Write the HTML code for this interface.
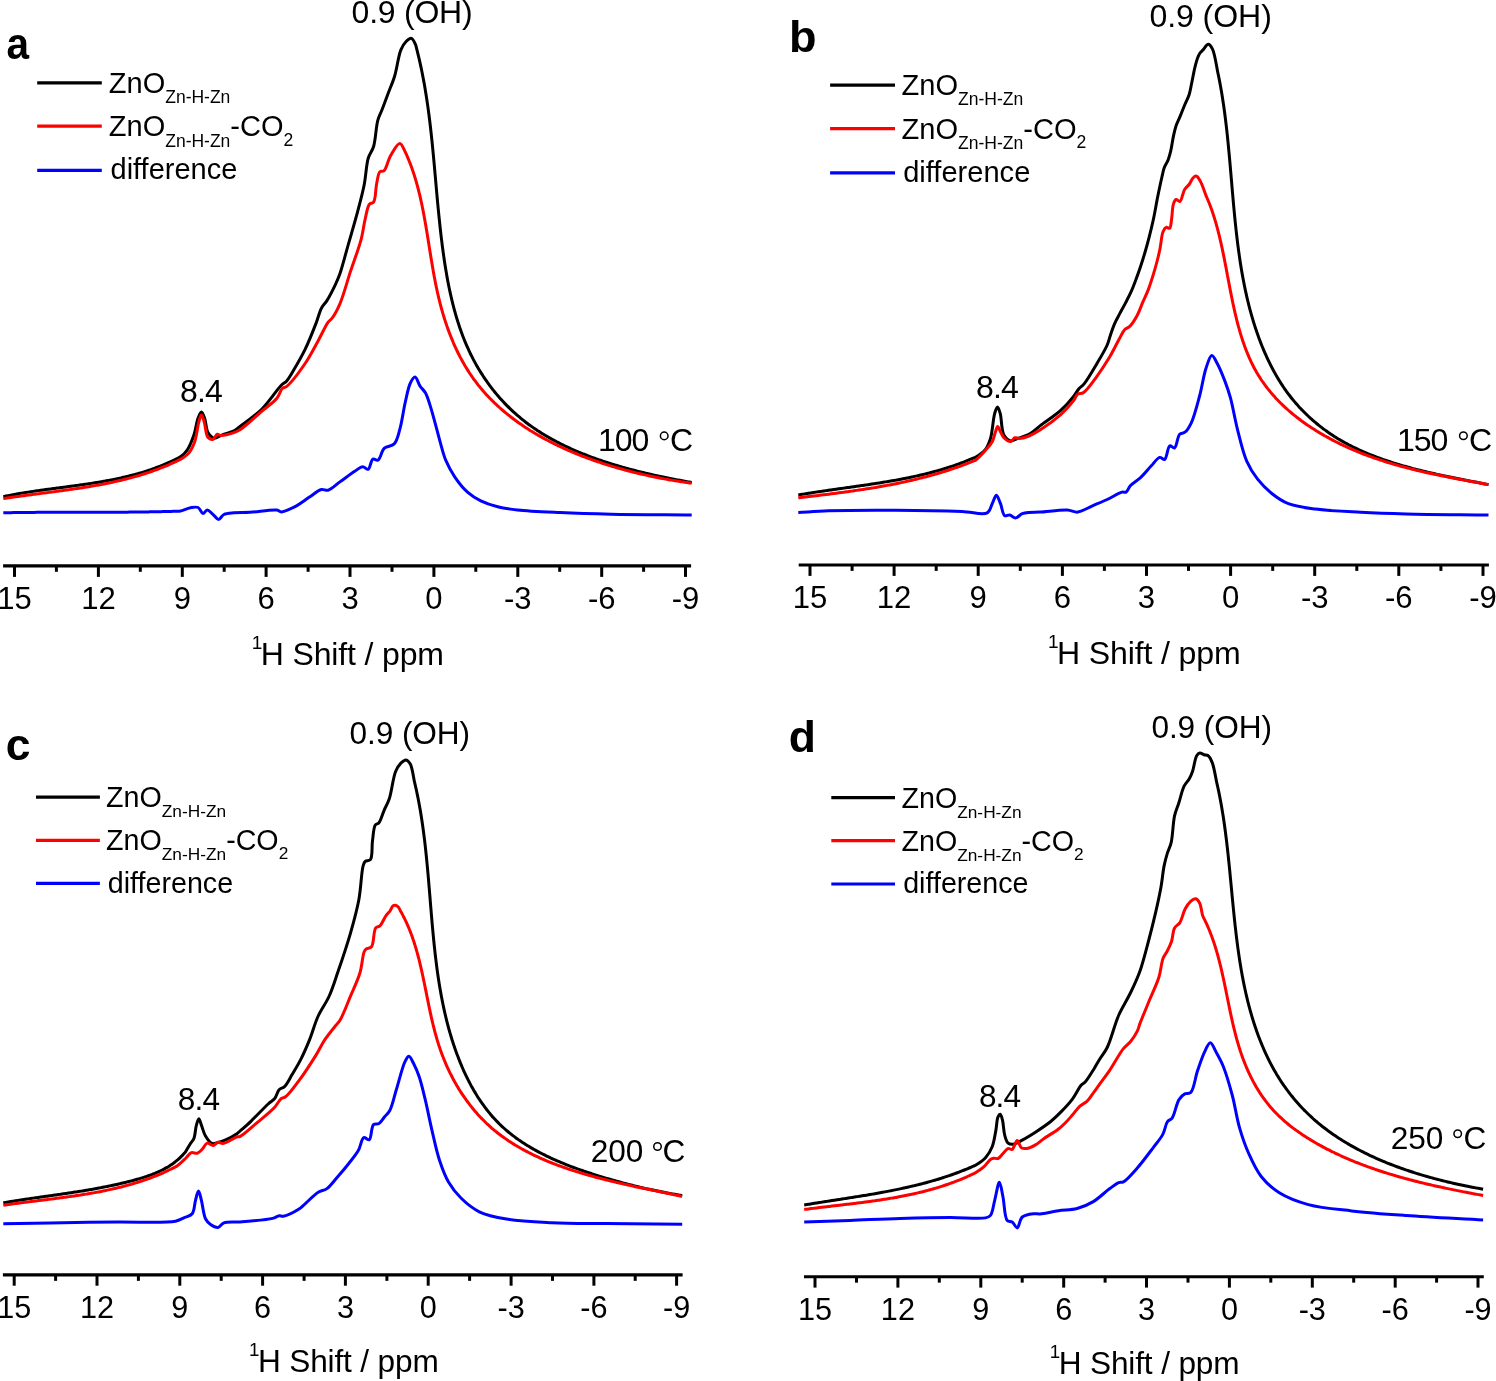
<!DOCTYPE html>
<html><head><meta charset="utf-8"><style>
html,body{margin:0;padding:0;background:#fff;width:1496px;height:1381px;overflow:hidden}
svg{display:block;will-change:transform}
text{font-family:"Liberation Sans", sans-serif;fill:#000}
</style></head><body>
<svg width="1496" height="1381" viewBox="0 0 1496 1381">
<g>
<line x1="3.1" y1="565.9" x2="691.1" y2="565.9" stroke="#000" stroke-width="3.2"/>
<line x1="14.5" y1="565.9" x2="14.5" y2="576.90" stroke="#000" stroke-width="3"/>
<text x="14.5" y="608.9" font-size="31.00" text-anchor="middle">15</text>
<line x1="98.4" y1="565.9" x2="98.4" y2="576.90" stroke="#000" stroke-width="3"/>
<text x="98.4" y="608.9" font-size="31.00" text-anchor="middle">12</text>
<line x1="182.3" y1="565.9" x2="182.3" y2="576.90" stroke="#000" stroke-width="3"/>
<text x="182.3" y="608.9" font-size="31.00" text-anchor="middle">9</text>
<line x1="266.1" y1="565.9" x2="266.1" y2="576.90" stroke="#000" stroke-width="3"/>
<text x="266.1" y="608.9" font-size="31.00" text-anchor="middle">6</text>
<line x1="350.0" y1="565.9" x2="350.0" y2="576.90" stroke="#000" stroke-width="3"/>
<text x="350.0" y="608.9" font-size="31.00" text-anchor="middle">3</text>
<line x1="433.9" y1="565.9" x2="433.9" y2="576.90" stroke="#000" stroke-width="3"/>
<text x="433.9" y="608.9" font-size="31.00" text-anchor="middle">0</text>
<line x1="517.8" y1="565.9" x2="517.8" y2="576.90" stroke="#000" stroke-width="3"/>
<text x="517.8" y="608.9" font-size="31.00" text-anchor="middle">-3</text>
<line x1="601.7" y1="565.9" x2="601.7" y2="576.90" stroke="#000" stroke-width="3"/>
<text x="601.7" y="608.9" font-size="31.00" text-anchor="middle">-6</text>
<line x1="685.5" y1="565.9" x2="685.5" y2="576.90" stroke="#000" stroke-width="3"/>
<text x="685.5" y="608.9" font-size="31.00" text-anchor="middle">-9</text>
<line x1="56.4" y1="565.9" x2="56.4" y2="571.80" stroke="#000" stroke-width="3"/>
<line x1="140.3" y1="565.9" x2="140.3" y2="571.80" stroke="#000" stroke-width="3"/>
<line x1="224.2" y1="565.9" x2="224.2" y2="571.80" stroke="#000" stroke-width="3"/>
<line x1="308.1" y1="565.9" x2="308.1" y2="571.80" stroke="#000" stroke-width="3"/>
<line x1="392.0" y1="565.9" x2="392.0" y2="571.80" stroke="#000" stroke-width="3"/>
<line x1="475.8" y1="565.9" x2="475.8" y2="571.80" stroke="#000" stroke-width="3"/>
<line x1="559.7" y1="565.9" x2="559.7" y2="571.80" stroke="#000" stroke-width="3"/>
<line x1="643.6" y1="565.9" x2="643.6" y2="571.80" stroke="#000" stroke-width="3"/>
<text x="251.8" y="648.9" font-size="19.00">1</text>
<text x="260.8" y="664.9" font-size="32.00" letter-spacing="-0.15">H Shift / ppm</text>
<text transform="translate(6.4,59.0) scale(0.9,1)" font-size="45.00" font-weight="bold">a</text>
<line x1="37.2" y1="82.8" x2="101.8" y2="82.8" stroke="#000" stroke-width="3.2"/>
<line x1="37.2" y1="126.1" x2="101.8" y2="126.1" stroke="#f00" stroke-width="3.2"/>
<line x1="37.2" y1="170.3" x2="101.8" y2="170.3" stroke="#00f" stroke-width="3.2"/>
<text x="108.8" y="92.7" font-size="29.00">ZnO<tspan font-size="17.50" dy="10.20">Zn-H-Zn</tspan></text>
<text x="108.8" y="136.4" font-size="29.00">ZnO<tspan font-size="17.50" dy="10.20">Zn-H-Zn</tspan><tspan dy="-10.20">-CO</tspan><tspan font-size="17.50" dy="9.80">2</tspan></text>
<text x="110.5" y="178.9" font-size="29.00">difference</text>
<text x="351.6" y="22.9" font-size="32.00" letter-spacing="-0.25">0.9 (OH)</text>
<text x="180.0" y="402.0" font-size="32.00" letter-spacing="-0.90">8.4</text>
<text x="597.9" y="450.9" font-size="32.00" letter-spacing="-1.00">100</text>
<circle cx="664.2" cy="435.9" r="3.80" fill="none" stroke="#000" stroke-width="1.5"/>
<text x="669.9" y="450.9" font-size="32.00">C</text>
<path d="M3.30,496.60 C4.12,496.43 4.94,496.26 5.76,496.09 C6.58,495.93 7.40,495.76 8.23,495.60 C9.05,495.44 9.87,495.28 10.70,495.12 C11.52,494.96 12.35,494.81 13.17,494.66 C14.00,494.51 14.83,494.36 15.66,494.21 C16.48,494.06 17.31,493.91 18.14,493.77 C18.97,493.63 19.80,493.49 20.63,493.35 C21.46,493.21 22.29,493.07 23.12,492.93 C23.96,492.79 24.79,492.66 25.62,492.53 C26.46,492.39 27.29,492.26 28.12,492.13 C28.96,492.00 29.79,491.88 30.63,491.75 C31.46,491.62 32.30,491.50 33.14,491.37 C33.97,491.25 34.81,491.12 35.65,491.00 C36.49,490.88 37.32,490.76 38.16,490.64 C39.00,490.52 39.84,490.40 40.68,490.28 C41.52,490.17 42.36,490.05 43.20,489.93 C44.04,489.82 44.88,489.70 45.72,489.59 C46.56,489.47 47.40,489.36 48.24,489.25 C49.08,489.13 49.92,489.02 50.76,488.91 C51.60,488.80 52.45,488.68 53.29,488.57 C54.13,488.46 54.97,488.35 55.81,488.24 C56.65,488.13 57.50,488.02 58.34,487.91 C59.18,487.80 60.02,487.69 60.87,487.57 C61.71,487.46 62.55,487.35 63.39,487.24 C64.24,487.13 65.08,487.02 65.92,486.91 C66.76,486.80 67.61,486.69 68.45,486.57 C69.29,486.46 70.13,486.35 70.98,486.24 C71.82,486.12 72.66,486.01 73.50,485.89 C74.34,485.78 75.19,485.66 76.03,485.55 C76.87,485.43 77.71,485.32 78.55,485.20 C79.39,485.08 80.24,484.96 81.08,484.84 C81.92,484.73 82.76,484.61 83.60,484.48 C84.44,484.36 85.28,484.24 86.12,484.12 C86.96,483.99 87.80,483.87 88.64,483.74 C89.47,483.61 90.31,483.49 91.15,483.36 C91.99,483.23 92.83,483.10 93.66,482.97 C94.50,482.83 95.34,482.70 96.17,482.56 C97.01,482.43 97.85,482.29 98.68,482.15 C99.52,482.01 100.35,481.87 101.19,481.73 C102.02,481.58 102.85,481.44 103.69,481.29 C104.52,481.14 105.35,481.00 106.18,480.84 C107.02,480.69 107.85,480.54 108.68,480.38 C109.51,480.23 110.34,480.07 111.17,479.91 C112.00,479.75 112.82,479.58 113.65,479.42 C114.48,479.25 115.31,479.08 116.13,478.91 C116.96,478.74 117.78,478.57 118.61,478.39 C119.43,478.21 120.26,478.03 121.08,477.85 C121.90,477.67 122.72,477.48 123.54,477.30 C124.36,477.11 125.18,476.92 126.00,476.72 C126.82,476.53 127.64,476.33 128.46,476.13 C129.27,475.93 130.09,475.72 130.90,475.52 C131.72,475.31 132.53,475.10 133.34,474.88 C134.16,474.67 134.97,474.45 135.78,474.23 C136.59,474.01 137.40,473.78 138.21,473.55 C139.02,473.32 139.82,473.09 140.63,472.85 C141.44,472.61 142.24,472.37 143.04,472.13 C143.85,471.88 144.65,471.63 145.45,471.38 C146.25,471.13 147.05,470.87 147.85,470.61 C148.65,470.35 149.44,470.08 150.24,469.81 C151.04,469.54 151.83,469.27 152.62,468.99 C153.42,468.71 154.21,468.43 155.00,468.14 C155.79,467.85 156.58,467.56 157.36,467.26 C158.15,466.96 158.94,466.66 159.72,466.36 C160.51,466.05 161.29,465.74 162.07,465.42 C162.85,465.10 163.63,464.78 164.41,464.45 C165.19,464.13 165.96,463.80 166.74,463.46 C167.51,463.12 168.29,462.78 169.06,462.43 C169.83,462.08 170.60,461.73 171.37,461.37 C172.14,461.01 172.90,460.65 173.67,460.28 C174.43,459.91 175.19,459.53 175.95,459.15 C176.72,458.77 177.48,458.39 178.23,457.99 C178.99,457.60 179.61,457.46 180.50,456.80 C182.22,455.53 185.20,453.01 187.20,450.10 C189.84,446.27 192.11,440.32 193.90,435.10 C195.73,429.76 196.40,422.58 198.00,418.40 C199.04,415.68 200.28,411.99 201.40,412.00 C202.51,412.01 203.73,415.77 204.70,418.40 C206.07,422.14 206.01,429.17 208.00,432.60 C209.48,435.15 211.60,437.66 213.90,438.10 C216.33,438.56 219.25,435.91 222.30,434.80 C225.86,433.51 230.85,432.53 234.00,430.90 C236.45,429.63 237.40,428.48 240.00,426.50 C245.01,422.67 254.97,415.83 261.70,409.20 C268.80,402.20 276.63,389.96 281.30,385.30 C283.52,383.09 284.91,382.91 286.70,380.90 C289.25,378.04 291.62,373.51 294.30,369.00 C297.67,363.32 301.67,356.49 305.10,349.40 C308.95,341.44 313.08,330.95 316.00,323.40 C318.21,317.69 319.26,312.28 321.40,308.20 C323.03,305.09 324.98,303.69 326.90,300.60 C329.59,296.27 333.18,289.22 335.50,284.30 C337.35,280.38 338.41,278.04 340.00,273.50 C342.57,266.16 345.60,253.90 348.40,244.10 C351.20,234.30 354.18,224.52 356.80,214.70 C359.41,204.92 362.16,194.96 364.10,185.30 C365.95,176.07 366.18,165.05 368.30,158.00 C369.74,153.23 372.16,151.23 373.60,146.50 C375.68,139.65 375.95,126.99 377.80,120.30 C379.01,115.93 380.48,113.72 382.00,109.80 C383.91,104.86 386.20,98.60 388.30,93.00 C390.40,87.40 392.67,82.49 394.60,76.20 C396.96,68.48 398.32,56.09 400.90,49.90 C402.46,46.16 404.08,43.47 406.10,41.50 C407.69,39.95 409.87,38.05 411.40,38.40 C413.10,38.79 414.85,43.03 415.60,44.70 C416.03,45.66 416.04,46.34 416.25,47.16 C416.47,47.97 416.68,48.79 416.89,49.61 C417.10,50.43 417.30,51.25 417.51,52.07 C417.71,52.89 417.91,53.71 418.11,54.53 C418.31,55.35 418.51,56.17 418.70,56.99 C418.89,57.81 419.09,58.63 419.28,59.45 C419.46,60.27 419.65,61.09 419.84,61.91 C420.02,62.73 420.20,63.55 420.38,64.37 C420.56,65.19 420.74,66.01 420.92,66.84 C421.09,67.66 421.26,68.48 421.43,69.30 C421.61,70.12 421.77,70.94 421.94,71.77 C422.11,72.59 422.27,73.41 422.43,74.23 C422.60,75.05 422.76,75.88 422.91,76.70 C423.07,77.52 423.23,78.34 423.38,79.17 C423.54,79.99 423.69,80.81 423.84,81.63 C423.99,82.46 424.14,83.28 424.28,84.10 C424.43,84.93 424.57,85.75 424.72,86.58 C424.86,87.40 425.00,88.22 425.14,89.05 C425.28,89.87 425.42,90.70 425.55,91.52 C425.69,92.34 425.82,93.17 425.95,93.99 C426.08,94.82 426.21,95.64 426.34,96.47 C426.47,97.29 426.60,98.12 426.72,98.94 C426.85,99.77 426.97,100.59 427.10,101.42 C427.22,102.24 427.34,103.07 427.46,103.90 C427.58,104.72 427.69,105.55 427.81,106.37 C427.93,107.20 428.04,108.03 428.16,108.85 C428.27,109.68 428.38,110.51 428.49,111.33 C428.60,112.16 428.71,112.99 428.82,113.82 C428.93,114.64 429.03,115.47 429.14,116.30 C429.24,117.12 429.35,117.95 429.45,118.78 C429.55,119.61 429.66,120.44 429.76,121.26 C429.86,122.09 429.96,122.92 430.06,123.75 C430.15,124.58 430.25,125.41 430.35,126.24 C430.44,127.06 430.54,127.89 430.63,128.72 C430.73,129.55 430.82,130.38 430.91,131.21 C431.00,132.04 431.10,132.87 431.19,133.70 C431.28,134.53 431.37,135.36 431.45,136.19 C431.54,137.02 431.63,137.85 431.72,138.68 C431.81,139.51 431.89,140.34 431.98,141.17 C432.06,142.00 432.15,142.83 432.23,143.66 C432.31,144.50 432.40,145.33 432.48,146.16 C432.56,146.99 432.65,147.82 432.73,148.65 C432.81,149.48 432.89,150.32 432.97,151.15 C433.05,151.98 433.13,152.81 433.21,153.64 C433.29,154.48 433.37,155.31 433.44,156.14 C433.52,156.98 433.60,157.81 433.68,158.64 C433.75,159.47 433.83,160.31 433.91,161.14 C433.98,161.97 434.06,162.81 434.14,163.64 C434.21,164.48 434.29,165.31 434.36,166.14 C434.44,166.98 434.51,167.81 434.59,168.65 C434.66,169.48 434.74,170.31 434.81,171.15 C434.89,171.98 434.96,172.82 435.03,173.65 C435.11,174.49 435.18,175.32 435.26,176.16 C435.33,176.99 435.41,177.83 435.48,178.67 C435.55,179.50 435.63,180.34 435.70,181.17 C435.78,182.01 435.85,182.85 435.92,183.68 C436.00,184.52 436.07,185.36 436.15,186.19 C436.22,187.03 436.30,187.87 436.37,188.70 C436.44,189.54 436.52,190.38 436.59,191.21 C436.67,192.05 436.75,192.89 436.82,193.73 C436.90,194.56 436.97,195.40 437.05,196.24 C437.13,197.08 437.20,197.92 437.28,198.75 C437.36,199.59 437.43,200.43 437.51,201.27 C437.59,202.11 437.67,202.95 437.75,203.79 C437.83,204.63 437.90,205.47 437.98,206.31 C438.06,207.14 438.14,207.98 438.23,208.82 C438.31,209.66 438.39,210.50 438.47,211.34 C438.55,212.18 438.64,213.02 438.72,213.86 C438.80,214.70 438.89,215.55 438.97,216.39 C439.06,217.23 439.14,218.07 439.23,218.91 C439.32,219.75 439.40,220.59 439.49,221.43 C439.58,222.27 439.67,223.12 439.76,223.96 C439.85,224.80 439.94,225.64 440.03,226.48 C440.12,227.33 440.21,228.17 440.31,229.01 C440.40,229.85 440.50,230.70 440.59,231.54 C440.69,232.38 440.78,233.22 440.88,234.07 C440.98,234.91 441.08,235.75 441.18,236.60 C441.28,237.44 441.38,238.29 441.48,239.13 C441.58,239.97 441.69,240.82 441.79,241.66 C441.90,242.51 442.00,243.35 442.11,244.19 C442.22,245.04 442.32,245.88 442.43,246.73 C442.54,247.57 442.65,248.42 442.77,249.26 C442.88,250.11 442.99,250.95 443.11,251.80 C443.22,252.65 443.34,253.49 443.46,254.34 C443.58,255.18 443.70,256.03 443.82,256.87 C443.94,257.72 444.06,258.56 444.19,259.41 C444.31,260.25 444.44,261.10 444.57,261.95 C444.70,262.79 444.83,263.64 444.96,264.48 C445.09,265.32 445.22,266.17 445.36,267.01 C445.50,267.86 445.63,268.70 445.77,269.55 C445.91,270.39 446.05,271.23 446.20,272.07 C446.34,272.92 446.49,273.76 446.63,274.60 C446.78,275.44 446.93,276.29 447.08,277.13 C447.23,277.97 447.39,278.81 447.54,279.65 C447.70,280.49 447.86,281.33 448.02,282.16 C448.18,283.00 448.34,283.84 448.51,284.68 C448.68,285.52 448.84,286.35 449.01,287.19 C449.18,288.02 449.36,288.86 449.53,289.69 C449.71,290.53 449.89,291.36 450.07,292.19 C450.25,293.02 450.43,293.86 450.62,294.69 C450.80,295.52 450.99,296.35 451.18,297.18 C451.37,298.00 451.57,298.83 451.76,299.66 C451.96,300.48 452.16,301.31 452.36,302.13 C452.56,302.96 452.77,303.78 452.98,304.60 C453.19,305.42 453.40,306.25 453.61,307.06 C453.83,307.88 454.04,308.70 454.27,309.52 C454.49,310.34 454.71,311.15 454.94,311.97 C455.16,312.78 455.39,313.59 455.63,314.40 C455.86,315.21 456.10,316.02 456.34,316.83 C456.58,317.64 456.82,318.45 457.06,319.25 C457.31,320.06 457.56,320.86 457.81,321.66 C458.07,322.47 458.32,323.27 458.59,324.07 C458.85,324.86 459.11,325.66 459.38,326.46 C459.64,327.25 459.92,328.05 460.19,328.84 C460.46,329.63 460.74,330.42 461.03,331.21 C461.31,332.00 461.59,332.78 461.88,333.57 C462.17,334.35 462.47,335.13 462.76,335.91 C463.06,336.69 463.36,337.47 463.67,338.25 C463.97,339.02 464.28,339.80 464.60,340.57 C464.91,341.34 465.23,342.11 465.55,342.88 C465.87,343.65 466.19,344.41 466.52,345.18 C466.85,345.94 467.19,346.70 467.52,347.46 C467.86,348.22 468.20,348.98 468.55,349.73 C468.90,350.48 469.25,351.24 469.60,351.99 C469.96,352.74 470.32,353.48 470.68,354.23 C471.05,354.97 471.42,355.71 471.79,356.45 C472.16,357.19 472.54,357.93 472.92,358.66 C473.30,359.40 473.69,360.13 474.08,360.86 C474.47,361.59 474.86,362.32 475.26,363.04 C475.66,363.76 476.07,364.48 476.47,365.20 C476.88,365.92 477.29,366.64 477.71,367.35 C478.13,368.06 478.55,368.77 478.97,369.48 C479.40,370.19 479.83,370.89 480.26,371.60 C480.69,372.30 481.13,373.00 481.58,373.69 C482.02,374.39 482.46,375.08 482.91,375.77 C483.37,376.46 483.82,377.15 484.28,377.83 C484.74,378.52 485.20,379.20 485.67,379.88 C486.14,380.55 486.61,381.23 487.09,381.90 C487.56,382.57 488.04,383.24 488.53,383.91 C489.01,384.57 489.50,385.23 489.99,385.89 C490.49,386.55 490.98,387.21 491.48,387.86 C491.99,388.51 492.49,389.16 493.00,389.81 C493.51,390.45 494.02,391.10 494.54,391.74 C495.06,392.38 495.58,393.01 496.11,393.64 C496.63,394.28 497.16,394.91 497.70,395.53 C498.23,396.16 498.77,396.78 499.31,397.40 C499.85,398.02 500.40,398.63 500.95,399.24 C501.50,399.85 502.06,400.46 502.62,401.07 C503.17,401.67 503.74,402.27 504.30,402.87 C504.87,403.47 505.44,404.06 506.02,404.65 C506.59,405.24 507.17,405.83 507.75,406.41 C508.33,406.99 508.92,407.57 509.51,408.14 C510.10,408.72 510.70,409.29 511.30,409.86 C511.89,410.42 512.50,410.99 513.10,411.55 C513.71,412.10 514.32,412.66 514.93,413.21 C515.55,413.76 516.17,414.31 516.79,414.85 C517.41,415.40 518.04,415.94 518.67,416.47 C519.30,417.01 519.93,417.54 520.57,418.06 C521.21,418.59 521.85,419.11 522.49,419.63 C523.14,420.15 523.79,420.67 524.44,421.18 C525.10,421.69 525.75,422.19 526.41,422.70 C527.07,423.20 527.74,423.70 528.41,424.19 C529.07,424.68 529.75,425.17 530.42,425.66 C531.10,426.15 531.78,426.63 532.46,427.11 C533.14,427.58 533.83,428.06 534.52,428.53 C535.20,429.00 535.90,429.46 536.59,429.92 C537.29,430.39 537.99,430.85 538.69,431.30 C539.39,431.75 540.10,432.20 540.81,432.65 C541.52,433.10 542.23,433.54 542.94,433.98 C543.66,434.42 544.38,434.85 545.10,435.28 C545.82,435.72 546.54,436.14 547.27,436.57 C548.00,436.99 548.73,437.41 549.46,437.83 C550.19,438.25 550.93,438.66 551.67,439.07 C552.41,439.48 553.15,439.88 553.89,440.29 C554.63,440.69 555.38,441.09 556.13,441.48 C556.88,441.88 557.63,442.27 558.38,442.66 C559.14,443.05 559.89,443.43 560.65,443.81 C561.41,444.20 562.17,444.57 562.94,444.95 C563.70,445.32 564.47,445.69 565.23,446.06 C566.00,446.43 566.77,446.79 567.55,447.16 C568.32,447.52 569.09,447.87 569.87,448.23 C570.65,448.58 571.43,448.94 572.21,449.28 C572.99,449.63 573.77,449.98 574.55,450.32 C575.34,450.66 576.13,451.00 576.91,451.34 C577.70,451.67 578.49,452.00 579.29,452.33 C580.08,452.66 580.87,452.99 581.67,453.31 C582.46,453.64 583.26,453.96 584.06,454.27 C584.86,454.59 585.66,454.91 586.46,455.22 C587.26,455.53 588.07,455.84 588.87,456.14 C589.68,456.45 590.48,456.75 591.29,457.05 C592.10,457.35 592.91,457.65 593.72,457.94 C594.53,458.23 595.34,458.53 596.15,458.81 C596.96,459.10 597.78,459.39 598.59,459.67 C599.41,459.95 600.22,460.24 601.04,460.51 C601.86,460.79 602.68,461.07 603.49,461.34 C604.31,461.61 605.13,461.88 605.95,462.15 C606.77,462.41 607.60,462.68 608.42,462.94 C609.24,463.20 610.06,463.46 610.89,463.72 C611.71,463.97 612.54,464.23 613.36,464.48 C614.19,464.73 615.01,464.98 615.84,465.23 C616.66,465.48 617.49,465.72 618.32,465.96 C619.14,466.20 619.97,466.44 620.80,466.68 C621.63,466.92 622.46,467.15 623.28,467.39 C624.11,467.62 624.94,467.85 625.77,468.08 C626.60,468.31 627.43,468.53 628.26,468.76 C629.09,468.98 629.92,469.20 630.75,469.42 C631.57,469.64 632.40,469.86 633.23,470.07 C634.06,470.29 634.89,470.50 635.72,470.71 C636.55,470.92 637.38,471.13 638.21,471.34 C639.04,471.55 639.87,471.75 640.69,471.95 C641.52,472.16 642.35,472.36 643.18,472.56 C644.00,472.75 644.83,472.95 645.66,473.15 C646.48,473.34 647.31,473.53 648.14,473.73 C648.96,473.92 649.79,474.11 650.61,474.29 C651.44,474.48 652.26,474.67 653.08,474.85 C653.91,475.04 654.73,475.22 655.55,475.40 C656.37,475.58 657.19,475.76 658.01,475.93 C658.83,476.11 659.65,476.29 660.47,476.46 C661.29,476.63 662.10,476.81 662.92,476.98 C663.74,477.15 664.55,477.32 665.36,477.48 C666.18,477.65 666.99,477.82 667.80,477.98 C668.61,478.15 669.42,478.31 670.23,478.47 C671.04,478.63 671.85,478.79 672.66,478.95 C673.46,479.11 674.27,479.26 675.07,479.42 C675.87,479.58 676.68,479.73 677.48,479.88 C678.28,480.04 679.08,480.19 679.87,480.34 C680.67,480.49 681.47,480.64 682.26,480.78 C683.05,480.93 683.85,481.08 684.64,481.22 C685.43,481.37 686.21,481.51 687.00,481.66 C687.79,481.80 688.57,481.94 689.36,482.08 C690.14,482.22 690.92,482.36 691.70,482.50" fill="none" stroke="#000" stroke-width="3.0" stroke-linejoin="round" stroke-linecap="butt"/>
<path d="M3.30,498.60 C4.14,498.47 4.98,498.34 5.82,498.22 C6.66,498.09 7.50,497.96 8.34,497.84 C9.18,497.71 10.03,497.59 10.87,497.47 C11.71,497.35 12.56,497.23 13.40,497.11 C14.24,496.98 15.09,496.87 15.93,496.75 C16.78,496.63 17.62,496.51 18.47,496.39 C19.31,496.28 20.16,496.16 21.01,496.05 C21.85,495.93 22.70,495.82 23.55,495.70 C24.39,495.59 25.24,495.47 26.09,495.36 C26.94,495.25 27.79,495.14 28.64,495.02 C29.48,494.91 30.33,494.80 31.18,494.69 C32.03,494.58 32.88,494.47 33.73,494.36 C34.58,494.25 35.43,494.14 36.28,494.03 C37.13,493.92 37.98,493.81 38.83,493.70 C39.69,493.59 40.54,493.48 41.39,493.37 C42.24,493.26 43.09,493.15 43.94,493.04 C44.79,492.93 45.64,492.82 46.50,492.71 C47.35,492.60 48.20,492.49 49.05,492.37 C49.90,492.26 50.76,492.15 51.61,492.04 C52.46,491.93 53.31,491.82 54.16,491.71 C55.02,491.59 55.87,491.48 56.72,491.37 C57.57,491.26 58.43,491.14 59.28,491.03 C60.13,490.91 60.98,490.80 61.83,490.68 C62.69,490.57 63.54,490.45 64.39,490.33 C65.24,490.22 66.09,490.10 66.94,489.98 C67.80,489.86 68.65,489.74 69.50,489.62 C70.35,489.50 71.20,489.38 72.05,489.25 C72.90,489.13 73.75,489.01 74.60,488.88 C75.45,488.76 76.30,488.63 77.15,488.50 C78.00,488.38 78.85,488.25 79.70,488.12 C80.55,487.99 81.40,487.85 82.25,487.72 C83.10,487.59 83.95,487.45 84.79,487.32 C85.64,487.18 86.49,487.05 87.34,486.91 C88.18,486.77 89.03,486.63 89.88,486.49 C90.72,486.34 91.57,486.20 92.41,486.05 C93.26,485.91 94.10,485.76 94.95,485.61 C95.79,485.46 96.64,485.31 97.48,485.16 C98.32,485.00 99.17,484.85 100.01,484.69 C100.85,484.54 101.69,484.38 102.54,484.22 C103.38,484.05 104.22,483.89 105.06,483.72 C105.90,483.56 106.74,483.39 107.58,483.22 C108.42,483.05 109.25,482.88 110.09,482.70 C110.93,482.53 111.77,482.35 112.60,482.17 C113.44,481.99 114.27,481.81 115.11,481.63 C115.94,481.44 116.78,481.25 117.61,481.06 C118.44,480.87 119.28,480.68 120.11,480.49 C120.94,480.29 121.77,480.09 122.60,479.89 C123.43,479.69 124.26,479.49 125.09,479.28 C125.92,479.07 126.74,478.86 127.57,478.65 C128.40,478.44 129.22,478.22 130.05,478.00 C130.87,477.78 131.70,477.56 132.52,477.34 C133.34,477.11 134.16,476.88 134.99,476.65 C135.81,476.42 136.63,476.19 137.45,475.95 C138.26,475.71 139.08,475.47 139.90,475.22 C140.72,474.98 141.53,474.73 142.35,474.48 C143.16,474.23 143.98,473.97 144.79,473.71 C145.60,473.45 146.41,473.19 147.22,472.92 C148.03,472.66 148.84,472.39 149.65,472.11 C150.46,471.84 151.26,471.56 152.07,471.28 C152.88,471.00 153.68,470.71 154.48,470.42 C155.29,470.13 156.09,469.84 156.89,469.54 C157.69,469.24 158.49,468.94 159.29,468.63 C160.09,468.33 160.88,468.02 161.68,467.70 C162.47,467.39 163.27,467.07 164.06,466.75 C164.85,466.43 165.65,466.10 166.44,465.77 C167.23,465.43 168.01,465.10 168.80,464.76 C169.59,464.42 170.37,464.07 171.16,463.72 C171.94,463.37 172.73,463.02 173.51,462.66 C174.29,462.30 175.07,461.94 175.85,461.57 C176.63,461.20 177.40,460.83 178.18,460.45 C178.95,460.07 179.52,459.90 180.50,459.30 C182.45,458.10 186.50,455.80 188.80,453.10 C191.35,450.11 193.11,446.23 194.70,441.80 C196.71,436.17 197.49,426.57 198.90,421.70 C199.73,418.83 200.52,415.02 201.40,415.00 C202.29,414.98 203.30,418.95 204.20,421.70 C205.55,425.83 205.67,435.04 208.00,437.60 C209.32,439.05 211.53,439.71 213.00,439.30 C214.64,438.84 215.72,434.72 217.20,434.30 C218.29,433.99 219.08,435.32 220.60,435.40 C223.58,435.56 230.47,433.77 234.00,432.60 C236.45,431.78 237.52,431.40 240.00,429.80 C245.15,426.49 255.11,416.93 261.70,411.30 C267.22,406.59 273.36,402.65 276.90,398.30 C279.55,395.04 280.25,390.44 282.30,388.50 C283.66,387.22 284.93,387.80 286.70,386.40 C291.03,382.97 299.75,371.34 305.10,363.50 C310.16,356.08 314.20,347.92 318.20,340.70 C321.76,334.27 325.14,326.21 328.00,322.30 C329.55,320.18 330.81,319.92 332.30,317.90 C334.70,314.64 337.41,309.60 339.90,303.80 C343.53,295.34 346.96,282.12 350.50,271.40 C353.99,260.82 358.47,249.41 361.00,239.90 C363.03,232.26 363.66,225.25 365.20,218.90 C366.50,213.54 367.28,206.76 369.40,204.20 C370.58,202.78 372.49,203.60 373.60,202.10 C375.83,199.07 375.49,188.69 376.70,183.20 C377.66,178.86 378.05,173.52 379.90,171.70 C381.02,170.60 382.80,171.72 384.10,170.60 C386.59,168.46 387.76,160.45 390.40,155.90 C393.01,151.40 397.17,143.30 399.80,143.40 C401.89,143.48 404.05,149.79 405.10,151.70 C405.62,152.66 405.79,153.18 406.13,153.93 C406.47,154.68 406.81,155.42 407.13,156.18 C407.46,156.93 407.78,157.68 408.10,158.43 C408.42,159.19 408.73,159.95 409.04,160.71 C409.35,161.47 409.65,162.23 409.95,162.99 C410.24,163.76 410.54,164.52 410.83,165.29 C411.11,166.06 411.40,166.83 411.68,167.60 C411.95,168.37 412.23,169.15 412.50,169.92 C412.77,170.70 413.03,171.48 413.29,172.26 C413.56,173.04 413.81,173.82 414.06,174.61 C414.32,175.39 414.57,176.18 414.81,176.96 C415.06,177.75 415.30,178.54 415.53,179.33 C415.77,180.12 416.00,180.92 416.23,181.71 C416.46,182.51 416.69,183.30 416.91,184.10 C417.13,184.90 417.35,185.70 417.56,186.50 C417.78,187.30 417.99,188.11 418.20,188.91 C418.41,189.71 418.61,190.52 418.81,191.33 C419.01,192.14 419.21,192.94 419.41,193.75 C419.60,194.56 419.80,195.38 419.99,196.19 C420.18,197.00 420.36,197.82 420.55,198.63 C420.73,199.45 420.91,200.26 421.09,201.08 C421.27,201.90 421.45,202.72 421.62,203.54 C421.80,204.36 421.97,205.18 422.14,206.01 C422.31,206.83 422.48,207.65 422.64,208.48 C422.81,209.30 422.97,210.13 423.13,210.96 C423.29,211.78 423.45,212.61 423.61,213.44 C423.77,214.27 423.92,215.10 424.07,215.93 C424.23,216.76 424.38,217.59 424.53,218.42 C424.68,219.26 424.83,220.09 424.98,220.92 C425.13,221.76 425.27,222.59 425.42,223.43 C425.56,224.26 425.71,225.10 425.85,225.94 C425.99,226.77 426.13,227.61 426.27,228.45 C426.41,229.29 426.55,230.12 426.69,230.96 C426.83,231.80 426.97,232.64 427.11,233.48 C427.24,234.32 427.38,235.16 427.52,236.00 C427.65,236.84 427.79,237.69 427.92,238.53 C428.06,239.37 428.19,240.21 428.33,241.05 C428.46,241.90 428.60,242.74 428.73,243.58 C428.87,244.42 429.00,245.27 429.13,246.11 C429.27,246.95 429.40,247.80 429.54,248.64 C429.67,249.48 429.81,250.33 429.94,251.17 C430.08,252.01 430.21,252.86 430.35,253.70 C430.48,254.55 430.62,255.39 430.76,256.23 C430.89,257.08 431.03,257.92 431.17,258.76 C431.31,259.61 431.44,260.45 431.59,261.29 C431.73,262.14 431.87,262.98 432.01,263.82 C432.15,264.66 432.29,265.51 432.44,266.35 C432.58,267.19 432.73,268.03 432.87,268.87 C433.02,269.72 433.17,270.56 433.32,271.40 C433.47,272.24 433.62,273.08 433.77,273.92 C433.92,274.76 434.08,275.60 434.23,276.44 C434.39,277.28 434.55,278.11 434.71,278.95 C434.87,279.79 435.03,280.63 435.19,281.46 C435.36,282.30 435.52,283.14 435.69,283.97 C435.86,284.81 436.03,285.64 436.20,286.47 C436.37,287.31 436.55,288.14 436.73,288.97 C436.91,289.80 437.08,290.64 437.27,291.47 C437.45,292.30 437.64,293.13 437.82,293.96 C438.01,294.78 438.20,295.61 438.40,296.44 C438.59,297.26 438.79,298.09 438.99,298.91 C439.19,299.74 439.39,300.56 439.60,301.38 C439.80,302.21 440.01,303.03 440.22,303.85 C440.44,304.67 440.65,305.49 440.87,306.30 C441.09,307.12 441.31,307.94 441.54,308.75 C441.76,309.57 441.99,310.38 442.22,311.19 C442.45,312.01 442.69,312.82 442.93,313.63 C443.17,314.44 443.41,315.24 443.65,316.05 C443.90,316.86 444.15,317.66 444.40,318.46 C444.65,319.27 444.91,320.07 445.17,320.87 C445.43,321.67 445.69,322.46 445.95,323.26 C446.22,324.06 446.49,324.85 446.76,325.64 C447.04,326.44 447.31,327.23 447.59,328.02 C447.88,328.80 448.16,329.59 448.45,330.38 C448.74,331.16 449.03,331.94 449.32,332.73 C449.62,333.51 449.92,334.28 450.22,335.06 C450.52,335.84 450.83,336.61 451.14,337.38 C451.45,338.16 451.76,338.93 452.08,339.69 C452.40,340.46 452.72,341.23 453.05,341.99 C453.37,342.75 453.70,343.51 454.04,344.27 C454.37,345.03 454.71,345.79 455.05,346.54 C455.39,347.29 455.74,348.04 456.09,348.79 C456.44,349.54 456.79,350.29 457.15,351.03 C457.51,351.77 457.87,352.51 458.24,353.25 C458.61,353.99 458.98,354.72 459.35,355.46 C459.73,356.19 460.10,356.92 460.49,357.64 C460.87,358.37 461.26,359.09 461.65,359.81 C462.04,360.54 462.44,361.25 462.84,361.97 C463.24,362.68 463.64,363.39 464.05,364.10 C464.46,364.81 464.88,365.52 465.29,366.22 C465.71,366.92 466.13,367.62 466.56,368.32 C466.99,369.01 467.42,369.71 467.85,370.40 C468.29,371.09 468.73,371.77 469.18,372.46 C469.62,373.14 470.07,373.82 470.52,374.49 C470.98,375.17 471.44,375.84 471.90,376.51 C472.36,377.18 472.83,377.85 473.31,378.51 C473.78,379.17 474.26,379.83 474.74,380.48 C475.22,381.14 475.71,381.79 476.20,382.44 C476.69,383.09 477.19,383.73 477.69,384.37 C478.19,385.01 478.70,385.65 479.21,386.28 C479.72,386.91 480.23,387.54 480.75,388.17 C481.27,388.79 481.80,389.41 482.33,390.03 C482.86,390.65 483.39,391.26 483.93,391.88 C484.47,392.49 485.01,393.09 485.56,393.70 C486.10,394.30 486.65,394.90 487.21,395.50 C487.76,396.09 488.32,396.69 488.89,397.28 C489.45,397.87 490.02,398.45 490.59,399.04 C491.16,399.62 491.74,400.20 492.32,400.77 C492.90,401.35 493.49,401.92 494.07,402.49 C494.66,403.06 495.26,403.62 495.85,404.18 C496.45,404.74 497.05,405.30 497.65,405.86 C498.26,406.41 498.87,406.96 499.48,407.51 C500.09,408.06 500.71,408.60 501.33,409.14 C501.95,409.68 502.57,410.22 503.20,410.75 C503.82,411.29 504.45,411.82 505.09,412.34 C505.72,412.87 506.36,413.40 507.00,413.92 C507.64,414.44 508.29,414.95 508.94,415.47 C509.59,415.98 510.24,416.49 510.89,417.00 C511.55,417.50 512.21,418.01 512.87,418.51 C513.53,419.01 514.20,419.51 514.87,420.00 C515.54,420.49 516.21,420.98 516.88,421.47 C517.56,421.96 518.24,422.44 518.92,422.92 C519.60,423.40 520.28,423.88 520.97,424.35 C521.66,424.83 522.35,425.30 523.04,425.77 C523.74,426.23 524.44,426.70 525.13,427.16 C525.83,427.62 526.54,428.08 527.24,428.53 C527.95,428.99 528.66,429.44 529.37,429.89 C530.08,430.34 530.79,430.78 531.51,431.22 C532.23,431.67 532.95,432.10 533.67,432.54 C534.39,432.98 535.12,433.41 535.84,433.84 C536.57,434.27 537.30,434.69 538.03,435.12 C538.76,435.54 539.50,435.96 540.24,436.38 C540.97,436.80 541.71,437.21 542.46,437.62 C543.20,438.03 543.94,438.44 544.69,438.85 C545.44,439.25 546.19,439.65 546.94,440.05 C547.69,440.45 548.44,440.85 549.20,441.24 C549.95,441.63 550.71,442.02 551.47,442.41 C552.23,442.80 553.00,443.18 553.76,443.56 C554.52,443.94 555.29,444.32 556.06,444.70 C556.83,445.07 557.60,445.44 558.37,445.81 C559.14,446.18 559.92,446.55 560.69,446.91 C561.47,447.27 562.25,447.63 563.02,447.99 C563.80,448.35 564.59,448.70 565.37,449.06 C566.15,449.41 566.94,449.76 567.72,450.10 C568.51,450.45 569.30,450.79 570.09,451.13 C570.88,451.47 571.67,451.81 572.46,452.15 C573.25,452.48 574.05,452.81 574.84,453.14 C575.64,453.47 576.43,453.80 577.23,454.12 C578.03,454.44 578.83,454.76 579.63,455.08 C580.43,455.40 581.23,455.72 582.04,456.03 C582.84,456.34 583.65,456.65 584.45,456.96 C585.26,457.26 586.07,457.57 586.87,457.87 C587.68,458.17 588.49,458.47 589.30,458.77 C590.11,459.06 590.92,459.36 591.73,459.65 C592.55,459.94 593.36,460.23 594.17,460.51 C594.99,460.80 595.80,461.08 596.62,461.36 C597.43,461.64 598.25,461.92 599.07,462.19 C599.88,462.47 600.70,462.74 601.52,463.01 C602.34,463.28 603.16,463.55 603.98,463.81 C604.80,464.08 605.62,464.34 606.44,464.60 C607.26,464.86 608.08,465.11 608.90,465.37 C609.73,465.62 610.55,465.87 611.37,466.12 C612.19,466.37 613.02,466.62 613.84,466.86 C614.67,467.11 615.49,467.35 616.31,467.59 C617.14,467.83 617.96,468.06 618.79,468.30 C619.61,468.53 620.44,468.76 621.26,468.99 C622.09,469.22 622.91,469.45 623.74,469.67 C624.56,469.90 625.39,470.12 626.21,470.34 C627.04,470.56 627.86,470.78 628.69,470.99 C629.51,471.21 630.34,471.42 631.16,471.63 C631.99,471.84 632.81,472.05 633.64,472.25 C634.46,472.46 635.29,472.66 636.11,472.86 C636.94,473.06 637.76,473.26 638.58,473.45 C639.41,473.65 640.23,473.84 641.05,474.03 C641.87,474.23 642.70,474.41 643.52,474.60 C644.34,474.79 645.16,474.97 645.98,475.15 C646.80,475.34 647.62,475.52 648.44,475.69 C649.26,475.87 650.08,476.05 650.90,476.22 C651.72,476.39 652.54,476.56 653.35,476.73 C654.17,476.90 654.99,477.07 655.80,477.23 C656.62,477.40 657.43,477.56 658.24,477.72 C659.06,477.88 659.87,478.04 660.68,478.19 C661.49,478.35 662.30,478.50 663.11,478.65 C663.92,478.80 664.73,478.95 665.54,479.10 C666.35,479.24 667.15,479.39 667.96,479.53 C668.76,479.67 669.57,479.82 670.37,479.95 C671.17,480.09 671.98,480.23 672.78,480.36 C673.58,480.50 674.38,480.63 675.17,480.76 C675.97,480.89 676.77,481.02 677.56,481.14 C678.36,481.27 679.15,481.39 679.94,481.52 C680.73,481.64 681.52,481.76 682.31,481.88 C683.10,482.00 683.89,482.11 684.68,482.23 C685.46,482.34 686.24,482.45 687.03,482.56 C687.81,482.67 688.59,482.78 689.37,482.89 C690.15,482.99 690.92,483.10 691.70,483.20" fill="none" stroke="#f00" stroke-width="3.0" stroke-linejoin="round" stroke-linecap="butt"/>
<path d="M3.30,512.80 C4.16,512.78 5.01,512.77 5.87,512.75 C6.72,512.73 7.58,512.72 8.44,512.70 C9.29,512.69 10.15,512.67 11.00,512.66 C11.86,512.65 12.72,512.63 13.57,512.62 C14.43,512.61 15.28,512.59 16.14,512.58 C17.00,512.57 17.85,512.56 18.71,512.55 C19.56,512.54 20.42,512.53 21.28,512.52 C22.13,512.50 22.99,512.50 23.84,512.49 C24.70,512.48 25.56,512.47 26.41,512.46 C27.27,512.45 28.12,512.44 28.98,512.43 C29.84,512.43 30.69,512.42 31.55,512.41 C32.41,512.41 33.26,512.40 34.12,512.39 C34.97,512.39 35.83,512.38 36.69,512.37 C37.54,512.37 38.40,512.36 39.25,512.36 C40.11,512.35 40.97,512.35 41.82,512.34 C42.68,512.34 43.53,512.34 44.39,512.33 C45.25,512.33 46.10,512.32 46.96,512.32 C47.81,512.32 48.67,512.31 49.53,512.31 C50.38,512.31 51.24,512.31 52.10,512.30 C52.95,512.30 53.81,512.30 54.66,512.30 C55.52,512.29 56.38,512.29 57.23,512.29 C58.09,512.29 58.94,512.29 59.80,512.29 C60.66,512.28 61.51,512.28 62.37,512.28 C63.22,512.28 64.08,512.28 64.94,512.28 C65.79,512.28 66.65,512.28 67.51,512.28 C68.36,512.28 69.22,512.28 70.07,512.27 C70.93,512.27 71.79,512.27 72.64,512.27 C73.50,512.27 74.35,512.27 75.21,512.27 C76.07,512.27 76.92,512.27 77.78,512.27 C78.63,512.27 79.49,512.27 80.35,512.27 C81.20,512.27 82.06,512.27 82.92,512.27 C83.77,512.27 84.63,512.27 85.48,512.27 C86.34,512.27 87.20,512.27 88.05,512.27 C88.91,512.27 89.76,512.27 90.62,512.27 C91.48,512.27 92.33,512.27 93.19,512.26 C94.04,512.26 94.90,512.26 95.76,512.26 C96.61,512.26 97.47,512.26 98.33,512.26 C99.18,512.26 100.04,512.26 100.89,512.25 C101.75,512.25 102.61,512.25 103.46,512.25 C104.32,512.25 105.17,512.25 106.03,512.24 C106.89,512.24 107.74,512.24 108.60,512.24 C109.45,512.23 110.31,512.23 111.17,512.23 C112.02,512.22 112.88,512.22 113.73,512.22 C114.59,512.21 115.45,512.21 116.30,512.21 C117.16,512.20 118.02,512.20 118.87,512.19 C119.73,512.19 120.58,512.18 121.44,512.18 C122.30,512.17 123.15,512.17 124.01,512.16 C124.86,512.16 125.72,512.15 126.58,512.14 C127.43,512.14 128.29,512.13 129.14,512.12 C130.00,512.12 130.86,512.11 131.71,512.10 C132.57,512.09 133.42,512.08 134.28,512.08 C135.14,512.07 135.99,512.06 136.85,512.05 C137.70,512.04 138.56,512.03 139.42,512.02 C140.27,512.01 141.13,512.00 141.98,511.99 C142.84,511.97 143.70,511.96 144.55,511.95 C145.41,511.94 146.26,511.92 147.12,511.91 C147.98,511.90 148.83,511.88 149.69,511.87 C150.54,511.86 151.40,511.84 152.26,511.83 C153.11,511.81 153.97,511.79 154.82,511.78 C155.68,511.76 156.54,511.74 157.39,511.73 C158.25,511.71 159.10,511.69 159.96,511.67 C160.82,511.65 161.67,511.63 162.53,511.61 C163.38,511.59 164.24,511.57 165.09,511.55 C165.95,511.53 166.81,511.51 167.66,511.49 C168.52,511.47 169.37,511.44 170.23,511.42 C171.09,511.39 171.94,511.37 172.80,511.35 C173.65,511.32 174.51,511.29 175.37,511.27 C176.22,511.24 177.08,511.21 177.93,511.19 C178.79,511.16 179.38,511.30 180.50,511.10 C182.76,510.70 187.37,508.37 190.50,507.80 C193.14,507.32 195.93,506.57 198.00,507.50 C200.12,508.45 201.33,513.45 203.00,513.60 C204.40,513.72 205.62,510.03 207.20,510.00 C209.16,509.96 211.89,513.61 213.90,515.30 C215.63,516.75 217.00,519.52 218.60,519.50 C220.32,519.48 221.64,515.62 223.90,514.50 C226.58,513.17 230.23,513.17 234.00,512.80 C238.71,512.33 243.98,512.64 250.00,512.30 C257.81,511.86 271.79,509.31 276.90,510.10 C279.05,510.43 279.39,511.89 281.30,511.90 C284.84,511.91 291.75,508.31 296.50,505.80 C301.14,503.35 305.25,499.88 309.50,497.10 C313.54,494.46 317.88,490.33 321.40,489.50 C323.81,488.93 325.61,490.82 328.00,490.20 C331.54,489.29 335.70,484.87 339.90,481.90 C344.67,478.53 350.84,473.72 355.10,471.00 C358.01,469.14 360.36,466.78 362.70,466.70 C364.64,466.64 366.57,469.84 368.10,469.30 C370.20,468.55 370.78,460.14 372.90,459.10 C374.33,458.40 376.36,460.90 377.90,460.20 C380.41,459.05 381.43,450.94 384.40,448.20 C387.03,445.78 391.69,446.54 394.20,443.90 C397.30,440.64 398.32,434.46 400.00,428.60 C402.14,421.13 403.33,410.54 405.20,402.50 C406.83,395.50 408.18,387.47 410.40,383.00 C411.75,380.28 413.50,376.99 415.00,377.10 C416.78,377.23 418.35,383.56 420.20,386.30 C421.84,388.73 423.89,390.15 425.40,392.80 C427.29,396.13 428.51,400.56 430.00,405.10 C431.79,410.56 433.49,417.20 435.20,423.40 C436.96,429.79 438.61,436.64 440.40,442.90 C442.08,448.78 443.29,454.35 445.60,459.90 C448.01,465.66 451.07,471.46 454.70,476.80 C458.44,482.31 463.12,488.24 467.80,492.40 C471.89,496.03 476.03,498.55 480.80,500.90 C485.93,503.42 491.79,505.30 497.70,506.80 C503.93,508.38 509.48,509.13 517.30,510.00 C528.77,511.28 545.12,511.91 560.00,512.60 C576.26,513.35 592.13,513.82 611.10,514.20 C634.92,514.68 664.83,514.67 691.70,514.90" fill="none" stroke="#00f" stroke-width="3.0" stroke-linejoin="round" stroke-linecap="butt"/>
</g>
<g>
<line x1="798.7" y1="565.0" x2="1488.9" y2="565.0" stroke="#000" stroke-width="3.2"/>
<line x1="810.0" y1="565.0" x2="810.0" y2="575.90" stroke="#000" stroke-width="3"/>
<text x="810.0" y="608.0" font-size="31.08" text-anchor="middle">15</text>
<line x1="894.1" y1="565.0" x2="894.1" y2="575.90" stroke="#000" stroke-width="3"/>
<text x="894.1" y="608.0" font-size="31.08" text-anchor="middle">12</text>
<line x1="978.2" y1="565.0" x2="978.2" y2="575.90" stroke="#000" stroke-width="3"/>
<text x="978.2" y="608.0" font-size="31.08" text-anchor="middle">9</text>
<line x1="1062.4" y1="565.0" x2="1062.4" y2="575.90" stroke="#000" stroke-width="3"/>
<text x="1062.4" y="608.0" font-size="31.08" text-anchor="middle">6</text>
<line x1="1146.5" y1="565.0" x2="1146.5" y2="575.90" stroke="#000" stroke-width="3"/>
<text x="1146.5" y="608.0" font-size="31.08" text-anchor="middle">3</text>
<line x1="1230.6" y1="565.0" x2="1230.6" y2="575.90" stroke="#000" stroke-width="3"/>
<text x="1230.6" y="608.0" font-size="31.08" text-anchor="middle">0</text>
<line x1="1314.7" y1="565.0" x2="1314.7" y2="575.90" stroke="#000" stroke-width="3"/>
<text x="1314.7" y="608.0" font-size="31.08" text-anchor="middle">-3</text>
<line x1="1398.8" y1="565.0" x2="1398.8" y2="575.90" stroke="#000" stroke-width="3"/>
<text x="1398.8" y="608.0" font-size="31.08" text-anchor="middle">-6</text>
<line x1="1483.0" y1="565.0" x2="1483.0" y2="575.90" stroke="#000" stroke-width="3"/>
<text x="1483.0" y="608.0" font-size="31.08" text-anchor="middle">-9</text>
<line x1="852.1" y1="565.0" x2="852.1" y2="570.90" stroke="#000" stroke-width="3"/>
<line x1="936.2" y1="565.0" x2="936.2" y2="570.90" stroke="#000" stroke-width="3"/>
<line x1="1020.3" y1="565.0" x2="1020.3" y2="570.90" stroke="#000" stroke-width="3"/>
<line x1="1104.4" y1="565.0" x2="1104.4" y2="570.90" stroke="#000" stroke-width="3"/>
<line x1="1188.5" y1="565.0" x2="1188.5" y2="570.90" stroke="#000" stroke-width="3"/>
<line x1="1272.7" y1="565.0" x2="1272.7" y2="570.90" stroke="#000" stroke-width="3"/>
<line x1="1356.8" y1="565.0" x2="1356.8" y2="570.90" stroke="#000" stroke-width="3"/>
<line x1="1440.9" y1="565.0" x2="1440.9" y2="570.90" stroke="#000" stroke-width="3"/>
<text x="1048.0" y="648.0" font-size="19.05">1</text>
<text x="1057.0" y="664.0" font-size="32.08" letter-spacing="-0.15">H Shift / ppm</text>
<text x="788.9" y="52.0" font-size="45.11" font-weight="bold">b</text>
<line x1="830.1" y1="85.1" x2="895.0" y2="85.1" stroke="#000" stroke-width="3.2"/>
<line x1="830.1" y1="128.6" x2="895.0" y2="128.6" stroke="#f00" stroke-width="3.2"/>
<line x1="830.1" y1="172.8" x2="895.0" y2="172.8" stroke="#00f" stroke-width="3.2"/>
<text x="901.5" y="94.7" font-size="29.07">ZnO<tspan font-size="17.54" dy="10.23">Zn-H-Zn</tspan></text>
<text x="901.5" y="138.5" font-size="29.07">ZnO<tspan font-size="17.54" dy="10.23">Zn-H-Zn</tspan><tspan dy="-10.23">-CO</tspan><tspan font-size="17.54" dy="9.82">2</tspan></text>
<text x="903.2" y="181.8" font-size="29.07">difference</text>
<text x="1149.4" y="26.7" font-size="32.08" letter-spacing="-0.08">0.9 (OH)</text>
<text x="976.0" y="397.9" font-size="32.08" letter-spacing="-0.90">8.4</text>
<text x="1396.9" y="451.1" font-size="32.08" letter-spacing="-1.00">150</text>
<circle cx="1463.4" cy="435.7" r="3.81" fill="none" stroke="#000" stroke-width="1.5"/>
<text x="1469.0" y="451.1" font-size="32.08">C</text>
<path d="M798.30,495.00 C799.14,494.86 799.97,494.71 800.81,494.57 C801.65,494.42 802.48,494.28 803.32,494.14 C804.16,494.00 805.00,493.87 805.84,493.73 C806.68,493.59 807.52,493.45 808.36,493.32 C809.20,493.18 810.04,493.05 810.88,492.92 C811.72,492.79 812.56,492.65 813.40,492.52 C814.24,492.39 815.08,492.26 815.93,492.13 C816.77,492.01 817.61,491.88 818.45,491.75 C819.30,491.62 820.14,491.50 820.98,491.37 C821.83,491.25 822.67,491.12 823.52,491.00 C824.36,490.87 825.20,490.75 826.05,490.63 C826.89,490.51 827.74,490.38 828.58,490.26 C829.43,490.14 830.27,490.02 831.12,489.90 C831.97,489.78 832.81,489.66 833.66,489.54 C834.50,489.42 835.35,489.30 836.20,489.18 C837.04,489.06 837.89,488.94 838.74,488.82 C839.58,488.70 840.43,488.59 841.28,488.47 C842.12,488.35 842.97,488.23 843.82,488.11 C844.66,487.99 845.51,487.87 846.36,487.76 C847.21,487.64 848.05,487.52 848.90,487.40 C849.75,487.28 850.60,487.16 851.44,487.04 C852.29,486.92 853.14,486.81 853.98,486.69 C854.83,486.57 855.68,486.45 856.53,486.33 C857.37,486.21 858.22,486.08 859.07,485.96 C859.92,485.84 860.76,485.72 861.61,485.60 C862.46,485.48 863.30,485.35 864.15,485.23 C865.00,485.11 865.84,484.98 866.69,484.86 C867.54,484.73 868.38,484.61 869.23,484.48 C870.08,484.35 870.92,484.23 871.77,484.10 C872.61,483.97 873.46,483.84 874.31,483.71 C875.15,483.58 876.00,483.45 876.84,483.32 C877.69,483.19 878.53,483.06 879.38,482.92 C880.22,482.79 881.06,482.65 881.91,482.52 C882.75,482.38 883.60,482.24 884.44,482.10 C885.28,481.96 886.13,481.82 886.97,481.68 C887.81,481.54 888.65,481.40 889.50,481.25 C890.34,481.11 891.18,480.96 892.02,480.81 C892.86,480.67 893.70,480.52 894.54,480.37 C895.38,480.22 896.22,480.07 897.06,479.91 C897.90,479.76 898.74,479.60 899.58,479.44 C900.42,479.29 901.26,479.13 902.10,478.97 C902.93,478.81 903.77,478.64 904.61,478.48 C905.44,478.31 906.28,478.15 907.12,477.98 C907.95,477.81 908.79,477.64 909.62,477.46 C910.46,477.29 911.29,477.12 912.12,476.94 C912.96,476.76 913.79,476.58 914.62,476.40 C915.45,476.22 916.29,476.03 917.12,475.85 C917.95,475.66 918.78,475.47 919.61,475.28 C920.44,475.09 921.27,474.89 922.10,474.70 C922.92,474.50 923.75,474.30 924.58,474.10 C925.40,473.90 926.23,473.70 927.06,473.49 C927.88,473.28 928.71,473.07 929.53,472.86 C930.35,472.65 931.18,472.43 932.00,472.22 C932.82,472.00 933.64,471.78 934.47,471.55 C935.29,471.33 936.11,471.10 936.93,470.87 C937.74,470.64 938.56,470.41 939.38,470.18 C940.20,469.94 941.01,469.70 941.83,469.46 C942.65,469.22 943.46,468.97 944.27,468.72 C945.09,468.48 945.90,468.22 946.71,467.97 C947.53,467.71 948.34,467.46 949.15,467.19 C949.96,466.93 950.77,466.67 951.57,466.40 C952.38,466.13 953.19,465.86 954.00,465.58 C954.80,465.31 955.61,465.03 956.41,464.74 C957.22,464.46 958.02,464.17 958.82,463.88 C959.62,463.59 960.42,463.30 961.22,463.00 C962.02,462.70 962.82,462.40 963.62,462.09 C964.42,461.79 965.22,461.48 966.01,461.16 C966.81,460.85 967.60,460.53 968.39,460.21 C969.19,459.89 969.98,459.56 970.77,459.23 C971.56,458.90 972.35,458.57 973.14,458.23 C973.93,457.89 974.49,457.80 975.50,457.20 C977.74,455.87 982.99,452.58 985.50,449.40 C987.94,446.31 989.12,442.99 990.50,438.50 C992.51,431.96 993.04,418.92 994.70,413.40 C995.56,410.53 996.58,407.09 997.50,407.10 C998.42,407.11 999.38,410.61 1000.20,413.40 C1001.68,418.41 1001.28,430.40 1003.90,435.10 C1005.57,438.09 1008.23,440.56 1010.60,441.00 C1012.72,441.39 1014.75,439.43 1017.30,438.50 C1020.66,437.27 1025.31,436.31 1029.00,434.30 C1032.90,432.18 1035.74,429.12 1040.00,425.90 C1045.87,421.47 1055.09,415.53 1061.00,410.20 C1065.98,405.71 1070.40,400.53 1073.60,396.50 C1075.88,393.63 1077.01,390.90 1078.90,388.70 C1080.54,386.80 1082.17,386.22 1084.10,383.90 C1087.63,379.67 1092.78,370.61 1096.70,364.00 C1100.46,357.65 1104.95,350.16 1107.20,345.00 C1108.65,341.68 1108.95,339.58 1110.00,336.50 C1111.26,332.79 1112.65,328.15 1114.30,324.30 C1115.87,320.64 1117.75,317.43 1119.60,313.90 C1121.54,310.20 1123.78,306.30 1125.70,302.60 C1127.53,299.08 1129.24,295.90 1130.90,292.20 C1132.73,288.12 1134.49,283.39 1136.10,279.10 C1137.64,275.00 1139.00,271.19 1140.40,267.00 C1141.90,262.52 1143.38,257.81 1144.80,253.00 C1146.29,247.95 1147.72,242.77 1149.10,237.40 C1150.56,231.72 1151.94,226.11 1153.30,219.80 C1154.86,212.55 1156.32,203.64 1157.80,196.30 C1159.11,189.81 1160.49,183.23 1161.70,178.00 C1162.62,174.04 1163.13,170.76 1164.30,167.60 C1165.35,164.75 1167.13,162.55 1168.20,159.80 C1169.32,156.93 1170.01,154.10 1170.80,150.70 C1171.78,146.49 1172.46,140.79 1173.40,136.40 C1174.21,132.62 1174.88,129.23 1176.00,125.90 C1177.07,122.71 1178.52,120.11 1179.90,116.80 C1181.55,112.86 1183.55,107.74 1185.20,103.80 C1186.58,100.49 1188.04,97.98 1189.10,94.70 C1190.26,91.09 1190.81,87.19 1191.70,83.00 C1192.73,78.15 1193.80,71.81 1194.90,67.30 C1195.75,63.84 1196.52,60.78 1197.50,58.20 C1198.26,56.19 1198.99,54.44 1200.00,53.00 C1200.87,51.75 1201.87,51.09 1203.00,49.90 C1204.50,48.31 1206.56,44.29 1208.20,44.30 C1209.68,44.31 1211.17,46.55 1212.40,48.90 C1214.80,53.49 1216.87,68.24 1217.70,72.00 C1217.97,73.21 1218.04,73.60 1218.21,74.40 C1218.38,75.20 1218.54,76.00 1218.71,76.81 C1218.87,77.61 1219.03,78.41 1219.19,79.22 C1219.35,80.02 1219.50,80.83 1219.66,81.64 C1219.81,82.44 1219.97,83.25 1220.12,84.06 C1220.27,84.87 1220.41,85.68 1220.56,86.49 C1220.71,87.30 1220.85,88.11 1220.99,88.92 C1221.14,89.73 1221.28,90.55 1221.42,91.36 C1221.55,92.17 1221.69,92.99 1221.83,93.80 C1221.96,94.62 1222.09,95.43 1222.22,96.25 C1222.36,97.07 1222.49,97.88 1222.61,98.70 C1222.74,99.52 1222.87,100.34 1222.99,101.16 C1223.12,101.98 1223.24,102.80 1223.36,103.62 C1223.48,104.44 1223.60,105.26 1223.72,106.08 C1223.84,106.91 1223.95,107.73 1224.07,108.55 C1224.18,109.38 1224.29,110.20 1224.41,111.03 C1224.52,111.85 1224.63,112.68 1224.74,113.50 C1224.85,114.33 1224.95,115.16 1225.06,115.98 C1225.17,116.81 1225.27,117.64 1225.37,118.47 C1225.48,119.30 1225.58,120.13 1225.68,120.96 C1225.78,121.79 1225.88,122.62 1225.98,123.45 C1226.08,124.28 1226.18,125.11 1226.27,125.94 C1226.37,126.78 1226.46,127.61 1226.56,128.44 C1226.65,129.28 1226.75,130.11 1226.84,130.94 C1226.93,131.78 1227.02,132.61 1227.11,133.45 C1227.20,134.28 1227.29,135.12 1227.38,135.96 C1227.46,136.79 1227.55,137.63 1227.64,138.47 C1227.72,139.30 1227.81,140.14 1227.89,140.98 C1227.98,141.82 1228.06,142.65 1228.14,143.49 C1228.23,144.33 1228.31,145.17 1228.39,146.01 C1228.47,146.85 1228.55,147.69 1228.63,148.53 C1228.71,149.37 1228.79,150.21 1228.87,151.05 C1228.95,151.89 1229.03,152.74 1229.11,153.58 C1229.18,154.42 1229.26,155.26 1229.34,156.10 C1229.41,156.95 1229.49,157.79 1229.57,158.63 C1229.64,159.47 1229.72,160.32 1229.79,161.16 C1229.87,162.00 1229.94,162.85 1230.01,163.69 C1230.09,164.54 1230.16,165.38 1230.24,166.22 C1230.31,167.07 1230.38,167.91 1230.46,168.76 C1230.53,169.60 1230.60,170.45 1230.67,171.29 C1230.75,172.14 1230.82,172.98 1230.89,173.83 C1230.96,174.67 1231.04,175.52 1231.11,176.37 C1231.18,177.21 1231.25,178.06 1231.32,178.90 C1231.39,179.75 1231.47,180.60 1231.54,181.44 C1231.61,182.29 1231.68,183.14 1231.75,183.98 C1231.83,184.83 1231.90,185.68 1231.97,186.52 C1232.04,187.37 1232.12,188.22 1232.19,189.06 C1232.26,189.91 1232.33,190.76 1232.41,191.61 C1232.48,192.45 1232.55,193.30 1232.63,194.15 C1232.70,194.99 1232.77,195.84 1232.85,196.69 C1232.92,197.53 1233.00,198.38 1233.07,199.23 C1233.15,200.08 1233.22,200.92 1233.30,201.77 C1233.38,202.62 1233.45,203.46 1233.53,204.31 C1233.61,205.16 1233.68,206.00 1233.76,206.85 C1233.84,207.70 1233.92,208.54 1234.00,209.39 C1234.08,210.24 1234.16,211.08 1234.24,211.93 C1234.32,212.78 1234.40,213.62 1234.48,214.47 C1234.56,215.32 1234.64,216.16 1234.73,217.01 C1234.81,217.85 1234.90,218.70 1234.98,219.54 C1235.07,220.39 1235.15,221.23 1235.24,222.08 C1235.32,222.92 1235.41,223.77 1235.50,224.61 C1235.59,225.46 1235.68,226.30 1235.77,227.15 C1235.86,227.99 1235.95,228.84 1236.04,229.68 C1236.14,230.52 1236.23,231.37 1236.32,232.21 C1236.42,233.05 1236.51,233.90 1236.61,234.74 C1236.71,235.58 1236.81,236.42 1236.91,237.27 C1237.01,238.11 1237.11,238.95 1237.21,239.79 C1237.31,240.63 1237.41,241.47 1237.52,242.31 C1237.62,243.15 1237.73,243.99 1237.83,244.83 C1237.94,245.67 1238.05,246.51 1238.16,247.35 C1238.27,248.19 1238.38,249.03 1238.49,249.87 C1238.61,250.71 1238.72,251.55 1238.84,252.38 C1238.95,253.22 1239.07,254.06 1239.19,254.89 C1239.31,255.73 1239.43,256.57 1239.55,257.40 C1239.67,258.24 1239.79,259.07 1239.92,259.91 C1240.05,260.74 1240.17,261.58 1240.30,262.41 C1240.43,263.24 1240.56,264.08 1240.69,264.91 C1240.83,265.74 1240.96,266.58 1241.10,267.41 C1241.23,268.24 1241.37,269.07 1241.51,269.90 C1241.65,270.73 1241.79,271.56 1241.93,272.39 C1242.08,273.22 1242.22,274.05 1242.37,274.88 C1242.52,275.71 1242.67,276.53 1242.82,277.36 C1242.97,278.19 1243.13,279.01 1243.28,279.84 C1243.44,280.67 1243.59,281.49 1243.76,282.31 C1243.92,283.14 1244.08,283.96 1244.24,284.79 C1244.41,285.61 1244.57,286.43 1244.74,287.25 C1244.91,288.07 1245.08,288.90 1245.26,289.72 C1245.43,290.54 1245.61,291.36 1245.78,292.17 C1245.96,292.99 1246.14,293.81 1246.33,294.63 C1246.51,295.45 1246.69,296.26 1246.88,297.08 C1247.07,297.89 1247.26,298.71 1247.45,299.52 C1247.65,300.34 1247.84,301.15 1248.04,301.96 C1248.24,302.78 1248.44,303.59 1248.64,304.40 C1248.85,305.21 1249.05,306.02 1249.26,306.83 C1249.47,307.64 1249.68,308.45 1249.90,309.26 C1250.11,310.06 1250.33,310.87 1250.55,311.68 C1250.77,312.48 1250.99,313.29 1251.22,314.09 C1251.44,314.89 1251.67,315.70 1251.90,316.50 C1252.13,317.30 1252.37,318.10 1252.60,318.90 C1252.84,319.70 1253.08,320.50 1253.33,321.30 C1253.57,322.10 1253.81,322.90 1254.06,323.69 C1254.31,324.49 1254.57,325.28 1254.82,326.08 C1255.08,326.87 1255.34,327.67 1255.60,328.46 C1255.86,329.25 1256.12,330.04 1256.39,330.83 C1256.66,331.62 1256.93,332.41 1257.21,333.20 C1257.48,333.99 1257.76,334.78 1258.04,335.56 C1258.32,336.35 1258.61,337.13 1258.90,337.92 C1259.18,338.70 1259.47,339.48 1259.77,340.26 C1260.06,341.05 1260.36,341.83 1260.67,342.60 C1260.97,343.38 1261.27,344.16 1261.58,344.94 C1261.89,345.72 1262.20,346.49 1262.52,347.26 C1262.84,348.04 1263.16,348.81 1263.48,349.58 C1263.80,350.35 1264.13,351.12 1264.46,351.89 C1264.79,352.66 1265.13,353.42 1265.46,354.19 C1265.80,354.95 1266.14,355.71 1266.49,356.47 C1266.84,357.23 1267.19,357.99 1267.54,358.75 C1267.89,359.50 1268.25,360.26 1268.61,361.01 C1268.97,361.76 1269.34,362.51 1269.71,363.26 C1270.08,364.01 1270.45,364.75 1270.83,365.50 C1271.21,366.24 1271.59,366.98 1271.97,367.72 C1272.36,368.46 1272.75,369.19 1273.14,369.93 C1273.53,370.66 1273.93,371.39 1274.33,372.12 C1274.74,372.85 1275.14,373.57 1275.55,374.30 C1275.96,375.02 1276.38,375.74 1276.80,376.46 C1277.22,377.17 1277.64,377.89 1278.07,378.60 C1278.50,379.31 1278.93,380.02 1279.36,380.72 C1279.80,381.43 1280.24,382.13 1280.69,382.83 C1281.13,383.53 1281.58,384.22 1282.04,384.91 C1282.49,385.61 1282.95,386.30 1283.41,386.98 C1283.88,387.67 1284.35,388.35 1284.82,389.03 C1285.29,389.71 1285.77,390.38 1286.25,391.05 C1286.73,391.72 1287.22,392.39 1287.71,393.05 C1288.20,393.72 1288.70,394.38 1289.20,395.03 C1289.70,395.69 1290.20,396.34 1290.71,396.99 C1291.22,397.64 1291.74,398.29 1292.26,398.93 C1292.78,399.57 1293.30,400.20 1293.83,400.84 C1294.35,401.47 1294.89,402.10 1295.42,402.73 C1295.96,403.35 1296.50,403.98 1297.05,404.59 C1297.59,405.21 1298.14,405.82 1298.70,406.43 C1299.25,407.04 1299.81,407.65 1300.37,408.25 C1300.93,408.86 1301.50,409.45 1302.07,410.05 C1302.64,410.64 1303.22,411.23 1303.80,411.82 C1304.38,412.40 1304.96,412.98 1305.55,413.56 C1306.14,414.14 1306.73,414.71 1307.33,415.28 C1307.93,415.85 1308.53,416.42 1309.13,416.98 C1309.74,417.54 1310.34,418.10 1310.96,418.65 C1311.57,419.20 1312.19,419.75 1312.81,420.29 C1313.43,420.84 1314.05,421.38 1314.68,421.91 C1315.31,422.45 1315.94,422.98 1316.58,423.51 C1317.22,424.03 1317.86,424.56 1318.50,425.07 C1319.15,425.59 1319.79,426.11 1320.45,426.62 C1321.10,427.12 1321.75,427.63 1322.41,428.13 C1323.07,428.63 1323.74,429.13 1324.40,429.62 C1325.07,430.11 1325.74,430.60 1326.42,431.08 C1327.09,431.56 1327.77,432.04 1328.45,432.51 C1329.13,432.99 1329.82,433.45 1330.51,433.92 C1331.19,434.38 1331.89,434.84 1332.58,435.30 C1333.28,435.75 1333.98,436.20 1334.68,436.65 C1335.39,437.09 1336.09,437.53 1336.80,437.97 C1337.51,438.41 1338.23,438.84 1338.94,439.27 C1339.66,439.69 1340.38,440.12 1341.10,440.54 C1341.83,440.95 1342.55,441.37 1343.28,441.78 C1344.01,442.19 1344.74,442.59 1345.48,443.00 C1346.21,443.40 1346.95,443.80 1347.69,444.19 C1348.44,444.58 1349.18,444.97 1349.93,445.35 C1350.67,445.74 1351.42,446.12 1352.18,446.50 C1352.93,446.87 1353.69,447.25 1354.44,447.62 C1355.20,447.98 1355.96,448.35 1356.73,448.71 C1357.49,449.07 1358.26,449.43 1359.02,449.78 C1359.79,450.13 1360.56,450.48 1361.34,450.83 C1362.11,451.18 1362.89,451.52 1363.66,451.86 C1364.44,452.19 1365.22,452.53 1366.00,452.86 C1366.79,453.19 1367.57,453.52 1368.36,453.84 C1369.14,454.17 1369.93,454.49 1370.72,454.80 C1371.51,455.12 1372.31,455.43 1373.10,455.74 C1373.90,456.05 1374.69,456.36 1375.49,456.67 C1376.29,456.97 1377.09,457.27 1377.89,457.57 C1378.69,457.86 1379.50,458.16 1380.30,458.45 C1381.11,458.74 1381.92,459.03 1382.72,459.31 C1383.53,459.59 1384.34,459.88 1385.16,460.15 C1385.97,460.43 1386.78,460.71 1387.59,460.98 C1388.41,461.25 1389.23,461.52 1390.04,461.79 C1390.86,462.05 1391.68,462.32 1392.50,462.58 C1393.32,462.84 1394.14,463.10 1394.96,463.35 C1395.78,463.61 1396.61,463.86 1397.43,464.11 C1398.25,464.36 1399.08,464.61 1399.91,464.85 C1400.73,465.10 1401.56,465.34 1402.39,465.58 C1403.21,465.82 1404.04,466.06 1404.87,466.29 C1405.70,466.53 1406.53,466.76 1407.36,466.99 C1408.19,467.22 1409.03,467.45 1409.86,467.67 C1410.69,467.90 1411.52,468.12 1412.36,468.34 C1413.19,468.56 1414.02,468.78 1414.86,468.99 C1415.69,469.21 1416.52,469.43 1417.36,469.64 C1418.19,469.85 1419.03,470.06 1419.86,470.27 C1420.70,470.48 1421.53,470.68 1422.37,470.89 C1423.20,471.09 1424.04,471.29 1424.88,471.49 C1425.71,471.69 1426.55,471.89 1427.38,472.09 C1428.22,472.28 1429.05,472.48 1429.89,472.67 C1430.72,472.87 1431.56,473.06 1432.39,473.25 C1433.23,473.44 1434.06,473.62 1434.90,473.81 C1435.73,474.00 1436.57,474.18 1437.40,474.37 C1438.23,474.55 1439.07,474.73 1439.90,474.91 C1440.73,475.09 1441.56,475.27 1442.39,475.45 C1443.23,475.63 1444.06,475.80 1444.89,475.98 C1445.72,476.15 1446.55,476.33 1447.38,476.50 C1448.20,476.67 1449.03,476.84 1449.86,477.01 C1450.68,477.18 1451.51,477.35 1452.34,477.52 C1453.16,477.69 1453.99,477.86 1454.81,478.02 C1455.63,478.19 1456.45,478.35 1457.27,478.52 C1458.09,478.68 1458.91,478.84 1459.73,479.01 C1460.55,479.17 1461.37,479.33 1462.18,479.49 C1463.00,479.65 1463.81,479.81 1464.63,479.97 C1465.44,480.13 1466.25,480.29 1467.06,480.44 C1467.87,480.60 1468.68,480.76 1469.49,480.92 C1470.29,481.07 1471.10,481.23 1471.90,481.38 C1472.71,481.54 1473.51,481.69 1474.31,481.85 C1475.11,482.00 1475.91,482.16 1476.71,482.31 C1477.50,482.46 1478.30,482.62 1479.09,482.77 C1479.88,482.92 1480.67,483.08 1481.46,483.23 C1482.25,483.38 1483.03,483.53 1483.82,483.69 C1484.60,483.84 1485.39,483.99 1486.17,484.14 C1486.95,484.30 1487.72,484.45 1488.50,484.60" fill="none" stroke="#000" stroke-width="3.0" stroke-linejoin="round" stroke-linecap="butt"/>
<path d="M798.30,497.80 C799.14,497.70 799.99,497.60 800.83,497.50 C801.68,497.41 802.52,497.31 803.36,497.21 C804.21,497.11 805.05,497.01 805.90,496.91 C806.74,496.81 807.59,496.71 808.43,496.61 C809.28,496.51 810.12,496.41 810.97,496.31 C811.82,496.21 812.66,496.11 813.51,496.01 C814.35,495.91 815.20,495.81 816.05,495.71 C816.89,495.61 817.74,495.51 818.59,495.41 C819.43,495.30 820.28,495.20 821.13,495.10 C821.97,495.00 822.82,494.89 823.67,494.79 C824.51,494.68 825.36,494.58 826.21,494.48 C827.05,494.37 827.90,494.27 828.75,494.16 C829.60,494.05 830.44,493.95 831.29,493.84 C832.14,493.73 832.99,493.62 833.83,493.52 C834.68,493.41 835.53,493.30 836.37,493.19 C837.22,493.08 838.07,492.97 838.92,492.86 C839.76,492.75 840.61,492.63 841.46,492.52 C842.30,492.41 843.15,492.29 844.00,492.18 C844.85,492.07 845.69,491.95 846.54,491.83 C847.39,491.72 848.23,491.60 849.08,491.48 C849.93,491.36 850.77,491.24 851.62,491.12 C852.47,491.00 853.31,490.88 854.16,490.76 C855.01,490.64 855.85,490.52 856.70,490.39 C857.54,490.27 858.39,490.14 859.24,490.02 C860.08,489.89 860.93,489.76 861.77,489.63 C862.62,489.51 863.46,489.38 864.31,489.25 C865.15,489.11 866.00,488.98 866.84,488.85 C867.69,488.72 868.53,488.58 869.37,488.45 C870.22,488.31 871.06,488.17 871.91,488.03 C872.75,487.90 873.59,487.76 874.44,487.61 C875.28,487.47 876.12,487.33 876.96,487.19 C877.81,487.04 878.65,486.90 879.49,486.75 C880.33,486.60 881.17,486.45 882.02,486.30 C882.86,486.15 883.70,486.00 884.54,485.85 C885.38,485.70 886.22,485.54 887.06,485.39 C887.90,485.23 888.74,485.07 889.58,484.91 C890.42,484.75 891.25,484.59 892.09,484.43 C892.93,484.27 893.77,484.10 894.61,483.94 C895.44,483.77 896.28,483.60 897.12,483.43 C897.95,483.26 898.79,483.09 899.63,482.92 C900.46,482.74 901.30,482.57 902.13,482.39 C902.97,482.21 903.80,482.04 904.63,481.85 C905.47,481.67 906.30,481.49 907.13,481.31 C907.97,481.12 908.80,480.94 909.63,480.75 C910.46,480.56 911.29,480.37 912.12,480.17 C912.96,479.98 913.79,479.79 914.61,479.59 C915.44,479.39 916.27,479.19 917.10,478.99 C917.93,478.79 918.76,478.59 919.59,478.38 C920.41,478.18 921.24,477.97 922.07,477.76 C922.89,477.55 923.72,477.34 924.54,477.12 C925.37,476.91 926.19,476.69 927.01,476.47 C927.84,476.26 928.66,476.03 929.48,475.81 C930.31,475.59 931.13,475.36 931.95,475.13 C932.77,474.90 933.59,474.67 934.41,474.44 C935.23,474.21 936.05,473.97 936.86,473.73 C937.68,473.49 938.50,473.25 939.32,473.01 C940.13,472.77 940.95,472.52 941.76,472.27 C942.58,472.02 943.39,471.77 944.21,471.52 C945.02,471.27 945.83,471.01 946.64,470.75 C947.46,470.49 948.27,470.23 949.08,469.97 C949.89,469.70 950.70,469.44 951.51,469.17 C952.31,468.90 953.12,468.62 953.93,468.35 C954.74,468.07 955.54,467.79 956.35,467.51 C957.15,467.23 957.96,466.95 958.76,466.66 C959.57,466.38 960.37,466.09 961.17,465.79 C961.97,465.50 962.77,465.21 963.57,464.91 C964.37,464.61 965.17,464.31 965.97,464.00 C966.77,463.70 967.56,463.39 968.36,463.08 C969.16,462.77 969.95,462.46 970.75,462.14 C971.54,461.82 972.33,461.50 973.13,461.18 C973.92,460.86 974.52,460.85 975.50,460.20 C977.80,458.67 982.58,453.47 985.50,450.20 C988.05,447.35 990.53,444.88 992.20,441.80 C993.85,438.75 994.46,434.59 995.50,431.80 C996.27,429.74 996.88,426.54 997.70,426.50 C998.54,426.46 999.50,430.00 1000.50,431.80 C1001.56,433.72 1002.30,436.11 1003.90,437.70 C1005.60,439.39 1008.69,441.71 1010.60,441.50 C1012.24,441.32 1013.30,438.12 1014.80,437.70 C1016.09,437.34 1017.24,438.54 1018.90,438.50 C1021.53,438.43 1025.64,437.29 1029.00,436.00 C1032.68,434.58 1035.86,432.74 1040.00,430.10 C1046.00,426.28 1055.09,419.73 1061.00,414.40 C1065.98,409.91 1070.64,404.58 1073.60,400.70 C1075.53,398.17 1076.00,395.25 1077.80,394.00 C1079.29,392.96 1081.16,394.06 1083.10,392.90 C1086.95,390.59 1092.40,382.37 1096.70,376.60 C1101.15,370.62 1105.54,363.89 1109.30,357.60 C1112.81,351.73 1115.87,345.17 1118.70,340.10 C1120.92,336.13 1122.55,332.01 1124.80,329.60 C1126.42,327.87 1128.30,327.80 1130.00,326.10 C1132.40,323.70 1134.91,319.53 1137.00,315.70 C1139.30,311.48 1141.05,306.19 1143.00,301.70 C1144.81,297.52 1146.64,293.94 1148.30,289.60 C1150.16,284.75 1151.94,278.99 1153.50,273.90 C1154.95,269.14 1156.28,264.41 1157.40,260.00 C1158.41,256.05 1159.14,252.87 1160.00,248.70 C1161.05,243.58 1161.51,235.18 1163.10,231.50 C1163.97,229.49 1164.98,227.71 1166.20,227.30 C1167.21,226.96 1168.75,228.80 1169.60,228.30 C1170.93,227.52 1170.94,223.08 1171.50,219.80 C1172.26,215.38 1172.22,207.70 1173.40,204.10 C1174.08,202.02 1174.84,199.85 1176.00,199.50 C1177.06,199.18 1178.75,201.94 1179.90,201.50 C1181.86,200.76 1182.66,192.72 1184.50,189.70 C1185.86,187.47 1187.71,186.40 1189.10,184.50 C1190.55,182.51 1191.57,179.42 1193.00,178.00 C1194.00,177.00 1195.16,175.92 1196.20,176.10 C1197.51,176.32 1198.75,178.52 1200.00,180.60 C1202.08,184.06 1204.93,193.01 1206.10,195.80 C1206.55,196.87 1206.75,197.26 1207.07,198.00 C1207.39,198.73 1207.70,199.47 1208.01,200.21 C1208.32,200.96 1208.62,201.70 1208.92,202.45 C1209.22,203.20 1209.52,203.95 1209.81,204.71 C1210.10,205.46 1210.38,206.22 1210.67,206.98 C1210.95,207.74 1211.22,208.50 1211.50,209.27 C1211.77,210.04 1212.04,210.81 1212.30,211.58 C1212.57,212.35 1212.83,213.13 1213.09,213.90 C1213.34,214.68 1213.60,215.46 1213.85,216.25 C1214.10,217.03 1214.34,217.82 1214.58,218.60 C1214.83,219.39 1215.06,220.18 1215.30,220.97 C1215.53,221.77 1215.77,222.56 1216.00,223.36 C1216.22,224.16 1216.45,224.96 1216.67,225.76 C1216.89,226.56 1217.11,227.37 1217.33,228.17 C1217.55,228.98 1217.76,229.79 1217.97,230.60 C1218.18,231.41 1218.39,232.22 1218.59,233.03 C1218.80,233.85 1219.00,234.66 1219.20,235.48 C1219.40,236.30 1219.60,237.12 1219.79,237.94 C1219.99,238.76 1220.18,239.59 1220.37,240.41 C1220.56,241.23 1220.75,242.06 1220.94,242.89 C1221.12,243.72 1221.31,244.54 1221.49,245.37 C1221.67,246.20 1221.85,247.04 1222.03,247.87 C1222.21,248.70 1222.39,249.54 1222.56,250.37 C1222.74,251.21 1222.91,252.04 1223.09,252.88 C1223.26,253.72 1223.43,254.56 1223.60,255.40 C1223.77,256.24 1223.94,257.08 1224.11,257.92 C1224.28,258.76 1224.44,259.60 1224.61,260.45 C1224.77,261.29 1224.94,262.13 1225.10,262.98 C1225.27,263.82 1225.43,264.67 1225.59,265.51 C1225.76,266.36 1225.92,267.21 1226.08,268.05 C1226.24,268.90 1226.40,269.75 1226.56,270.60 C1226.72,271.44 1226.88,272.29 1227.04,273.14 C1227.20,273.99 1227.36,274.84 1227.52,275.69 C1227.68,276.54 1227.84,277.38 1228.00,278.23 C1228.16,279.08 1228.32,279.93 1228.48,280.78 C1228.64,281.63 1228.80,282.48 1228.97,283.33 C1229.13,284.18 1229.29,285.03 1229.45,285.87 C1229.61,286.72 1229.78,287.57 1229.94,288.42 C1230.10,289.27 1230.27,290.12 1230.43,290.96 C1230.60,291.81 1230.76,292.66 1230.93,293.50 C1231.10,294.35 1231.27,295.20 1231.44,296.04 C1231.61,296.89 1231.78,297.73 1231.95,298.57 C1232.12,299.42 1232.29,300.26 1232.47,301.10 C1232.64,301.95 1232.82,302.79 1233.00,303.63 C1233.18,304.47 1233.36,305.31 1233.54,306.15 C1233.72,306.98 1233.90,307.82 1234.09,308.66 C1234.27,309.49 1234.46,310.33 1234.65,311.16 C1234.84,312.00 1235.03,312.83 1235.22,313.66 C1235.42,314.49 1235.61,315.32 1235.81,316.15 C1236.01,316.98 1236.21,317.81 1236.41,318.64 C1236.62,319.46 1236.82,320.28 1237.03,321.11 C1237.24,321.93 1237.45,322.75 1237.67,323.57 C1237.88,324.39 1238.10,325.21 1238.32,326.02 C1238.54,326.84 1238.76,327.65 1238.99,328.46 C1239.22,329.28 1239.45,330.09 1239.68,330.89 C1239.91,331.70 1240.15,332.51 1240.39,333.31 C1240.63,334.12 1240.87,334.92 1241.12,335.72 C1241.37,336.52 1241.62,337.31 1241.87,338.11 C1242.13,338.90 1242.39,339.70 1242.65,340.49 C1242.91,341.28 1243.18,342.06 1243.45,342.85 C1243.72,343.64 1243.99,344.42 1244.27,345.20 C1244.55,345.98 1244.84,346.76 1245.12,347.53 C1245.41,348.30 1245.70,349.08 1246.00,349.85 C1246.30,350.62 1246.60,351.38 1246.90,352.15 C1247.21,352.91 1247.52,353.67 1247.84,354.43 C1248.15,355.18 1248.47,355.94 1248.80,356.69 C1249.12,357.44 1249.45,358.19 1249.79,358.93 C1250.13,359.68 1250.47,360.42 1250.81,361.16 C1251.16,361.90 1251.51,362.63 1251.87,363.36 C1252.23,364.10 1252.59,364.82 1252.96,365.55 C1253.32,366.27 1253.70,366.99 1254.08,367.71 C1254.46,368.43 1254.84,369.14 1255.24,369.85 C1255.63,370.56 1256.02,371.27 1256.43,371.97 C1256.83,372.68 1257.24,373.37 1257.66,374.07 C1258.07,374.76 1258.50,375.46 1258.92,376.14 C1259.35,376.83 1259.79,377.51 1260.23,378.19 C1260.67,378.87 1261.12,379.55 1261.57,380.22 C1262.02,380.89 1262.48,381.56 1262.95,382.22 C1263.41,382.88 1263.88,383.54 1264.36,384.20 C1264.83,384.85 1265.32,385.51 1265.80,386.15 C1266.29,386.80 1266.79,387.45 1267.28,388.09 C1267.78,388.73 1268.29,389.36 1268.80,390.00 C1269.31,390.63 1269.82,391.26 1270.35,391.88 C1270.87,392.51 1271.39,393.13 1271.92,393.75 C1272.46,394.36 1272.99,394.98 1273.54,395.59 C1274.08,396.20 1274.63,396.80 1275.18,397.41 C1275.73,398.01 1276.29,398.61 1276.85,399.20 C1277.41,399.80 1277.98,400.39 1278.55,400.97 C1279.12,401.56 1279.70,402.14 1280.28,402.72 C1280.87,403.30 1281.45,403.88 1282.04,404.45 C1282.64,405.02 1283.23,405.59 1283.83,406.16 C1284.43,406.72 1285.04,407.28 1285.65,407.84 C1286.26,408.40 1286.87,408.95 1287.49,409.50 C1288.11,410.05 1288.73,410.60 1289.36,411.14 C1289.98,411.68 1290.62,412.22 1291.25,412.76 C1291.89,413.29 1292.53,413.82 1293.17,414.35 C1293.81,414.88 1294.46,415.40 1295.11,415.92 C1295.76,416.44 1296.42,416.96 1297.08,417.47 C1297.74,417.99 1298.40,418.50 1299.07,419.00 C1299.73,419.51 1300.41,420.01 1301.08,420.51 C1301.75,421.01 1302.43,421.50 1303.11,422.00 C1303.80,422.49 1304.48,422.98 1305.17,423.46 C1305.86,423.95 1306.55,424.43 1307.24,424.90 C1307.94,425.38 1308.64,425.85 1309.34,426.33 C1310.04,426.80 1310.75,427.26 1311.45,427.73 C1312.16,428.19 1312.87,428.65 1313.59,429.10 C1314.30,429.56 1315.02,430.01 1315.74,430.46 C1316.46,430.91 1317.18,431.36 1317.91,431.80 C1318.63,432.24 1319.36,432.68 1320.09,433.12 C1320.83,433.55 1321.56,433.98 1322.30,434.41 C1323.03,434.84 1323.77,435.26 1324.51,435.69 C1325.26,436.11 1326.00,436.53 1326.75,436.94 C1327.49,437.35 1328.24,437.77 1329.00,438.17 C1329.75,438.58 1330.50,438.98 1331.26,439.39 C1332.01,439.79 1332.77,440.18 1333.53,440.58 C1334.29,440.97 1335.05,441.36 1335.82,441.75 C1336.58,442.14 1337.35,442.52 1338.12,442.90 C1338.89,443.28 1339.66,443.66 1340.43,444.03 C1341.20,444.41 1341.97,444.78 1342.75,445.14 C1343.52,445.51 1344.30,445.87 1345.08,446.23 C1345.86,446.59 1346.64,446.95 1347.42,447.30 C1348.20,447.66 1348.99,448.01 1349.77,448.36 C1350.56,448.70 1351.34,449.05 1352.13,449.39 C1352.92,449.73 1353.71,450.06 1354.50,450.40 C1355.29,450.73 1356.08,451.06 1356.87,451.39 C1357.66,451.72 1358.45,452.04 1359.25,452.36 C1360.04,452.68 1360.84,453.00 1361.63,453.32 C1362.43,453.63 1363.23,453.94 1364.02,454.25 C1364.82,454.56 1365.62,454.86 1366.42,455.16 C1367.22,455.46 1368.02,455.76 1368.82,456.06 C1369.62,456.35 1370.42,456.64 1371.22,456.93 C1372.02,457.22 1372.82,457.51 1373.62,457.79 C1374.43,458.07 1375.23,458.35 1376.03,458.63 C1376.84,458.90 1377.64,459.18 1378.44,459.45 C1379.25,459.72 1380.05,459.98 1380.86,460.25 C1381.66,460.51 1382.47,460.78 1383.28,461.03 C1384.08,461.29 1384.89,461.55 1385.69,461.80 C1386.50,462.06 1387.31,462.31 1388.12,462.55 C1388.92,462.80 1389.73,463.05 1390.54,463.29 C1391.35,463.53 1392.16,463.77 1392.97,464.01 C1393.78,464.25 1394.59,464.48 1395.40,464.72 C1396.21,464.95 1397.02,465.18 1397.83,465.41 C1398.64,465.64 1399.45,465.86 1400.26,466.08 C1401.07,466.31 1401.88,466.53 1402.70,466.75 C1403.51,466.97 1404.32,467.18 1405.13,467.40 C1405.95,467.61 1406.76,467.82 1407.57,468.03 C1408.39,468.24 1409.20,468.45 1410.01,468.66 C1410.83,468.86 1411.64,469.07 1412.46,469.27 C1413.27,469.47 1414.09,469.67 1414.90,469.87 C1415.72,470.07 1416.53,470.27 1417.35,470.46 C1418.16,470.65 1418.98,470.85 1419.79,471.04 C1420.61,471.23 1421.42,471.42 1422.24,471.61 C1423.06,471.79 1423.87,471.98 1424.69,472.17 C1425.51,472.35 1426.32,472.53 1427.14,472.71 C1427.96,472.90 1428.77,473.08 1429.59,473.25 C1430.41,473.43 1431.23,473.61 1432.04,473.78 C1432.86,473.96 1433.68,474.13 1434.50,474.31 C1435.32,474.48 1436.13,474.65 1436.95,474.82 C1437.77,474.99 1438.59,475.16 1439.41,475.33 C1440.22,475.50 1441.04,475.67 1441.86,475.83 C1442.68,476.00 1443.50,476.16 1444.32,476.33 C1445.14,476.49 1445.95,476.65 1446.77,476.81 C1447.59,476.98 1448.41,477.14 1449.23,477.30 C1450.05,477.46 1450.87,477.62 1451.69,477.77 C1452.50,477.93 1453.32,478.09 1454.14,478.25 C1454.96,478.40 1455.78,478.56 1456.60,478.71 C1457.42,478.87 1458.24,479.02 1459.06,479.18 C1459.87,479.33 1460.69,479.49 1461.51,479.64 C1462.33,479.79 1463.15,479.95 1463.97,480.10 C1464.79,480.25 1465.61,480.40 1466.42,480.55 C1467.24,480.70 1468.06,480.85 1468.88,481.01 C1469.70,481.16 1470.52,481.31 1471.34,481.46 C1472.15,481.61 1472.97,481.76 1473.79,481.91 C1474.61,482.06 1475.43,482.21 1476.24,482.35 C1477.06,482.50 1477.88,482.65 1478.70,482.80 C1479.51,482.95 1480.33,483.10 1481.15,483.25 C1481.97,483.40 1482.78,483.55 1483.60,483.70 C1484.42,483.85 1485.23,484.00 1486.05,484.15 C1486.87,484.30 1487.68,484.45 1488.50,484.60" fill="none" stroke="#f00" stroke-width="3.0" stroke-linejoin="round" stroke-linecap="butt"/>
<path d="M798.30,512.50 C808.33,511.93 816.38,511.18 828.40,510.80 C846.30,510.23 873.01,510.18 895.30,510.30 C917.58,510.42 945.18,510.88 962.10,511.50 C972.48,511.88 982.35,515.60 987.20,512.90 C990.33,511.15 990.63,506.71 992.20,503.70 C993.69,500.85 995.02,495.29 996.40,495.30 C997.78,495.31 999.21,500.61 1000.50,503.70 C1002.00,507.30 1002.54,514.38 1004.70,515.70 C1006.06,516.53 1008.01,514.73 1009.70,515.00 C1011.63,515.31 1013.60,518.00 1015.60,517.90 C1017.79,517.79 1019.98,514.62 1022.30,513.70 C1024.46,512.85 1026.48,512.68 1029.00,512.40 C1032.20,512.05 1035.52,512.33 1040.00,512.10 C1047.07,511.73 1060.36,509.58 1067.30,510.00 C1071.64,510.26 1074.07,512.49 1077.80,512.10 C1082.36,511.63 1087.60,507.90 1092.50,505.80 C1097.40,503.70 1102.33,501.76 1107.20,499.50 C1112.14,497.20 1118.41,492.93 1121.90,492.10 C1123.66,491.68 1124.85,492.77 1126.10,492.10 C1127.77,491.20 1128.37,487.90 1130.30,485.80 C1132.87,483.00 1137.42,480.58 1140.80,477.40 C1144.44,473.97 1147.95,469.32 1151.30,465.80 C1154.22,462.73 1157.12,457.90 1159.70,457.40 C1161.43,457.07 1163.19,460.10 1164.60,459.50 C1166.94,458.51 1167.50,446.85 1169.80,445.90 C1171.17,445.33 1173.13,448.57 1174.50,448.00 C1176.80,447.04 1177.29,436.75 1179.70,434.30 C1181.20,432.77 1183.35,433.53 1185.00,432.20 C1187.33,430.32 1189.33,426.94 1191.30,422.80 C1194.43,416.23 1197.24,404.64 1199.70,395.50 C1202.13,386.44 1203.53,375.48 1206.00,368.20 C1207.75,363.06 1209.71,355.67 1211.80,355.50 C1213.59,355.35 1215.63,360.56 1217.50,364.00 C1220.05,368.68 1222.81,375.65 1225.00,381.40 C1227.08,386.88 1228.62,391.28 1230.40,397.70 C1232.88,406.65 1234.95,419.63 1237.70,430.30 C1240.40,440.76 1242.88,452.40 1246.70,461.10 C1249.80,468.16 1253.33,473.73 1257.60,479.20 C1261.81,484.58 1266.86,489.57 1272.10,493.70 C1277.16,497.69 1282.02,501.20 1288.40,503.70 C1296.07,506.70 1305.26,507.72 1315.50,509.10 C1328.62,510.86 1345.69,511.48 1360.80,512.30 C1375.89,513.12 1388.76,513.56 1406.10,514.00 C1429.49,514.59 1461.03,514.73 1488.50,515.10" fill="none" stroke="#00f" stroke-width="3.0" stroke-linejoin="round" stroke-linecap="butt"/>
</g>
<g>
<line x1="2.9" y1="1274.95" x2="682.6" y2="1274.95" stroke="#000" stroke-width="3.2"/>
<line x1="14.2" y1="1274.95" x2="14.2" y2="1285.70" stroke="#000" stroke-width="3"/>
<text x="14.2" y="1318.0" font-size="30.63" text-anchor="middle">15</text>
<line x1="97.0" y1="1274.95" x2="97.0" y2="1285.70" stroke="#000" stroke-width="3"/>
<text x="97.0" y="1318.0" font-size="30.63" text-anchor="middle">12</text>
<line x1="179.8" y1="1274.95" x2="179.8" y2="1285.70" stroke="#000" stroke-width="3"/>
<text x="179.8" y="1318.0" font-size="30.63" text-anchor="middle">9</text>
<line x1="262.6" y1="1274.95" x2="262.6" y2="1285.70" stroke="#000" stroke-width="3"/>
<text x="262.6" y="1318.0" font-size="30.63" text-anchor="middle">6</text>
<line x1="345.4" y1="1274.95" x2="345.4" y2="1285.70" stroke="#000" stroke-width="3"/>
<text x="345.4" y="1318.0" font-size="30.63" text-anchor="middle">3</text>
<line x1="428.2" y1="1274.95" x2="428.2" y2="1285.70" stroke="#000" stroke-width="3"/>
<text x="428.2" y="1318.0" font-size="30.63" text-anchor="middle">0</text>
<line x1="511.1" y1="1274.95" x2="511.1" y2="1285.70" stroke="#000" stroke-width="3"/>
<text x="511.1" y="1318.0" font-size="30.63" text-anchor="middle">-3</text>
<line x1="593.9" y1="1274.95" x2="593.9" y2="1285.70" stroke="#000" stroke-width="3"/>
<text x="593.9" y="1318.0" font-size="30.63" text-anchor="middle">-6</text>
<line x1="676.6" y1="1274.95" x2="676.6" y2="1285.70" stroke="#000" stroke-width="3"/>
<text x="676.6" y="1318.0" font-size="30.63" text-anchor="middle">-9</text>
<line x1="55.6" y1="1274.95" x2="55.6" y2="1280.85" stroke="#000" stroke-width="3"/>
<line x1="138.4" y1="1274.95" x2="138.4" y2="1280.85" stroke="#000" stroke-width="3"/>
<line x1="221.2" y1="1274.95" x2="221.2" y2="1280.85" stroke="#000" stroke-width="3"/>
<line x1="304.1" y1="1274.95" x2="304.1" y2="1280.85" stroke="#000" stroke-width="3"/>
<line x1="386.9" y1="1274.95" x2="386.9" y2="1280.85" stroke="#000" stroke-width="3"/>
<line x1="469.6" y1="1274.95" x2="469.6" y2="1280.85" stroke="#000" stroke-width="3"/>
<line x1="552.5" y1="1274.95" x2="552.5" y2="1280.85" stroke="#000" stroke-width="3"/>
<line x1="635.2" y1="1274.95" x2="635.2" y2="1280.85" stroke="#000" stroke-width="3"/>
<text x="248.9" y="1355.5" font-size="18.77">1</text>
<text x="257.9" y="1371.5" font-size="31.62" letter-spacing="-0.15">H Shift / ppm</text>
<text x="5.7" y="760.1" font-size="44.46" font-weight="bold">c</text>
<line x1="36.0" y1="797.2" x2="99.9" y2="797.2" stroke="#000" stroke-width="3.2"/>
<line x1="36.0" y1="840.3" x2="99.9" y2="840.3" stroke="#f00" stroke-width="3.2"/>
<line x1="36.0" y1="883.3" x2="99.9" y2="883.3" stroke="#00f" stroke-width="3.2"/>
<text x="106.1" y="807.1" font-size="28.65">ZnO<tspan font-size="17.29" dy="10.08">Zn-H-Zn</tspan></text>
<text x="106.1" y="849.5" font-size="28.65">ZnO<tspan font-size="17.29" dy="10.08">Zn-H-Zn</tspan><tspan dy="-10.08">-CO</tspan><tspan font-size="17.29" dy="9.68">2</tspan></text>
<text x="107.8" y="892.8" font-size="28.65">difference</text>
<text x="349.5" y="743.9" font-size="31.62" letter-spacing="-0.08">0.9 (OH)</text>
<text x="177.8" y="1110.0" font-size="31.62" letter-spacing="-0.89">8.4</text>
<text x="590.7" y="1162.1" font-size="31.62" letter-spacing="0.00">200</text>
<circle cx="657.5" cy="1146.5" r="3.75" fill="none" stroke="#000" stroke-width="1.5"/>
<text x="662.6" y="1162.1" font-size="31.62">C</text>
<path d="M3.30,1202.80 C4.12,1202.66 4.94,1202.52 5.76,1202.38 C6.58,1202.24 7.40,1202.10 8.22,1201.96 C9.04,1201.82 9.87,1201.69 10.69,1201.55 C11.51,1201.42 12.34,1201.28 13.17,1201.15 C13.99,1201.02 14.82,1200.89 15.65,1200.76 C16.47,1200.63 17.30,1200.50 18.13,1200.37 C18.96,1200.24 19.79,1200.11 20.62,1199.99 C21.45,1199.86 22.29,1199.73 23.12,1199.61 C23.95,1199.48 24.78,1199.36 25.62,1199.23 C26.45,1199.11 27.29,1198.99 28.12,1198.86 C28.96,1198.74 29.79,1198.62 30.63,1198.50 C31.47,1198.38 32.30,1198.25 33.14,1198.13 C33.98,1198.01 34.82,1197.89 35.66,1197.77 C36.50,1197.65 37.34,1197.53 38.18,1197.41 C39.02,1197.29 39.86,1197.17 40.70,1197.06 C41.54,1196.94 42.38,1196.82 43.22,1196.70 C44.06,1196.58 44.91,1196.46 45.75,1196.34 C46.59,1196.22 47.44,1196.10 48.28,1195.99 C49.12,1195.87 49.97,1195.75 50.81,1195.63 C51.65,1195.51 52.50,1195.39 53.34,1195.27 C54.19,1195.15 55.03,1195.03 55.88,1194.91 C56.72,1194.79 57.57,1194.67 58.41,1194.55 C59.26,1194.43 60.10,1194.30 60.95,1194.18 C61.80,1194.06 62.64,1193.94 63.49,1193.81 C64.33,1193.69 65.18,1193.57 66.03,1193.44 C66.87,1193.32 67.72,1193.19 68.56,1193.07 C69.41,1192.94 70.26,1192.81 71.10,1192.69 C71.95,1192.56 72.79,1192.43 73.64,1192.30 C74.49,1192.17 75.33,1192.04 76.18,1191.91 C77.02,1191.78 77.87,1191.65 78.72,1191.51 C79.56,1191.38 80.41,1191.25 81.25,1191.11 C82.10,1190.97 82.94,1190.84 83.79,1190.70 C84.63,1190.56 85.48,1190.42 86.32,1190.28 C87.17,1190.14 88.01,1190.00 88.85,1189.85 C89.70,1189.71 90.54,1189.56 91.38,1189.42 C92.23,1189.27 93.07,1189.12 93.91,1188.97 C94.75,1188.82 95.59,1188.67 96.44,1188.52 C97.28,1188.36 98.12,1188.21 98.96,1188.05 C99.80,1187.90 100.64,1187.74 101.48,1187.58 C102.32,1187.42 103.16,1187.26 104.00,1187.09 C104.83,1186.93 105.67,1186.76 106.51,1186.59 C107.35,1186.43 108.18,1186.25 109.02,1186.08 C109.86,1185.91 110.69,1185.74 111.53,1185.56 C112.36,1185.38 113.19,1185.20 114.03,1185.02 C114.86,1184.84 115.69,1184.66 116.53,1184.47 C117.36,1184.29 118.19,1184.10 119.02,1183.91 C119.85,1183.72 120.68,1183.53 121.51,1183.33 C122.33,1183.13 123.16,1182.94 123.99,1182.74 C124.82,1182.54 125.64,1182.33 126.47,1182.13 C127.29,1181.92 128.12,1181.71 128.94,1181.50 C129.76,1181.29 130.58,1181.07 131.41,1180.86 C132.23,1180.64 133.05,1180.42 133.87,1180.20 C134.68,1179.97 135.50,1179.75 136.32,1179.52 C137.14,1179.29 137.95,1179.06 138.76,1178.82 C139.58,1178.58 140.39,1178.34 141.20,1178.10 C142.01,1177.85 142.82,1177.60 143.62,1177.35 C144.42,1177.09 145.23,1176.83 146.03,1176.57 C146.82,1176.30 147.62,1176.03 148.41,1175.76 C149.20,1175.48 149.99,1175.20 150.78,1174.91 C151.56,1174.62 152.35,1174.32 153.12,1174.02 C153.90,1173.72 154.67,1173.41 155.44,1173.09 C156.21,1172.77 156.97,1172.44 157.73,1172.11 C158.49,1171.78 159.24,1171.43 159.99,1171.08 C160.74,1170.73 161.48,1170.37 162.22,1170.00 C162.95,1169.63 163.69,1169.26 164.41,1168.87 C165.13,1168.48 165.85,1168.08 166.56,1167.67 C167.28,1167.27 167.98,1166.85 168.68,1166.42 C169.38,1165.99 170.07,1165.55 170.75,1165.10 C171.43,1164.65 172.11,1164.18 172.78,1163.71 C173.44,1163.23 174.11,1162.75 174.76,1162.25 C175.41,1161.75 176.05,1161.24 176.69,1160.71 C177.32,1160.19 177.95,1159.65 178.56,1159.10 C179.18,1158.55 179.79,1157.98 180.39,1157.40 C180.98,1156.82 181.57,1156.23 182.15,1155.62 C182.73,1155.02 183.30,1154.39 183.86,1153.76 C184.42,1153.12 184.85,1152.71 185.50,1151.80 C186.77,1150.02 188.96,1145.90 190.50,1143.50 C191.71,1141.60 193.00,1140.69 193.90,1138.50 C195.25,1135.21 195.37,1128.71 196.40,1125.10 C197.13,1122.54 198.07,1118.70 198.90,1118.70 C199.73,1118.70 200.47,1122.68 201.40,1125.10 C202.61,1128.25 203.60,1132.86 205.50,1136.00 C207.27,1138.92 209.90,1142.71 212.20,1143.50 C213.83,1144.06 215.34,1143.08 217.20,1142.60 C219.66,1141.97 222.63,1141.09 225.60,1139.80 C229.24,1138.21 234.82,1135.11 237.30,1133.40 C238.58,1132.52 238.81,1132.14 240.00,1131.10 C242.42,1128.98 246.90,1125.09 250.90,1121.30 C256.06,1116.40 263.75,1108.09 268.20,1104.00 C270.83,1101.58 272.92,1100.76 274.70,1098.50 C276.61,1096.08 277.20,1091.83 279.10,1089.80 C280.62,1088.17 282.75,1088.30 284.50,1086.60 C287.14,1084.04 289.53,1078.87 292.10,1074.60 C294.95,1069.86 298.03,1064.86 300.80,1059.40 C303.86,1053.38 306.72,1046.78 309.50,1039.90 C312.54,1032.39 314.81,1023.44 318.20,1016.00 C321.37,1009.04 325.83,1003.46 329.00,996.50 C332.39,989.06 334.61,981.59 337.70,972.60 C341.65,961.11 346.86,945.79 350.50,933.10 C353.82,921.51 356.80,910.76 358.90,899.50 C360.98,888.36 361.40,871.88 363.10,865.90 C363.76,863.59 364.03,862.35 365.20,861.30 C366.42,860.21 369.14,861.15 370.40,859.60 C372.74,856.72 371.64,846.78 372.50,840.80 C373.29,835.29 373.45,827.69 375.30,825.00 C376.23,823.64 377.70,824.16 378.80,822.90 C380.80,820.59 382.31,814.39 384.10,810.30 C385.82,806.37 387.70,803.55 389.30,798.80 C391.69,791.73 392.96,777.84 395.60,771.50 C397.17,767.72 398.88,765.09 400.90,763.10 C402.48,761.54 404.52,759.72 406.10,759.90 C407.65,760.08 409.12,761.98 410.30,764.10 C412.38,767.83 413.74,778.79 414.50,782.00 C414.78,783.18 414.89,783.61 415.08,784.42 C415.26,785.23 415.45,786.04 415.64,786.85 C415.82,787.66 416.00,788.47 416.18,789.28 C416.36,790.09 416.54,790.90 416.71,791.71 C416.88,792.52 417.06,793.34 417.22,794.15 C417.39,794.96 417.56,795.78 417.73,796.59 C417.89,797.41 418.05,798.22 418.21,799.04 C418.37,799.86 418.53,800.67 418.69,801.49 C418.84,802.31 418.99,803.13 419.14,803.95 C419.30,804.77 419.44,805.59 419.59,806.41 C419.74,807.23 419.88,808.05 420.03,808.87 C420.17,809.69 420.31,810.51 420.45,811.33 C420.59,812.16 420.72,812.98 420.86,813.80 C420.99,814.63 421.13,815.45 421.26,816.28 C421.39,817.10 421.52,817.93 421.64,818.76 C421.77,819.58 421.90,820.41 422.02,821.24 C422.14,822.06 422.26,822.89 422.38,823.72 C422.50,824.55 422.62,825.38 422.74,826.21 C422.86,827.04 422.97,827.87 423.09,828.70 C423.20,829.53 423.31,830.36 423.42,831.19 C423.53,832.02 423.64,832.85 423.75,833.68 C423.86,834.52 423.96,835.35 424.07,836.18 C424.17,837.01 424.27,837.85 424.38,838.68 C424.48,839.52 424.58,840.35 424.68,841.18 C424.78,842.02 424.87,842.85 424.97,843.69 C425.07,844.53 425.16,845.36 425.26,846.20 C425.35,847.03 425.44,847.87 425.53,848.71 C425.63,849.55 425.72,850.38 425.81,851.22 C425.90,852.06 425.98,852.90 426.07,853.73 C426.16,854.57 426.24,855.41 426.33,856.25 C426.42,857.09 426.50,857.93 426.58,858.77 C426.67,859.61 426.75,860.45 426.83,861.29 C426.91,862.13 426.99,862.97 427.07,863.81 C427.15,864.65 427.23,865.49 427.31,866.33 C427.39,867.17 427.47,868.02 427.55,868.86 C427.62,869.70 427.70,870.54 427.77,871.38 C427.85,872.23 427.93,873.07 428.00,873.91 C428.08,874.75 428.15,875.60 428.22,876.44 C428.30,877.28 428.37,878.13 428.44,878.97 C428.51,879.81 428.59,880.66 428.66,881.50 C428.73,882.34 428.80,883.19 428.87,884.03 C428.94,884.87 429.01,885.72 429.08,886.56 C429.16,887.41 429.23,888.25 429.30,889.10 C429.37,889.94 429.43,890.78 429.50,891.63 C429.57,892.47 429.64,893.32 429.71,894.16 C429.78,895.01 429.85,895.85 429.92,896.70 C429.99,897.54 430.06,898.39 430.13,899.23 C430.20,900.08 430.26,900.92 430.33,901.77 C430.40,902.61 430.47,903.46 430.54,904.30 C430.61,905.15 430.68,905.99 430.75,906.84 C430.82,907.68 430.89,908.53 430.96,909.37 C431.03,910.22 431.10,911.06 431.17,911.90 C431.24,912.75 431.31,913.59 431.38,914.44 C431.45,915.28 431.52,916.13 431.60,916.97 C431.67,917.82 431.74,918.66 431.81,919.51 C431.88,920.35 431.96,921.20 432.03,922.04 C432.10,922.88 432.18,923.73 432.25,924.57 C432.33,925.42 432.40,926.26 432.48,927.10 C432.56,927.95 432.63,928.79 432.71,929.63 C432.79,930.48 432.86,931.32 432.94,932.16 C433.02,933.01 433.10,933.85 433.18,934.69 C433.26,935.54 433.34,936.38 433.42,937.22 C433.51,938.06 433.59,938.90 433.67,939.75 C433.76,940.59 433.84,941.43 433.93,942.27 C434.01,943.11 434.10,943.95 434.18,944.79 C434.27,945.64 434.36,946.48 434.45,947.32 C434.54,948.16 434.63,949.00 434.72,949.84 C434.81,950.68 434.91,951.52 435.00,952.36 C435.09,953.20 435.19,954.03 435.29,954.87 C435.38,955.71 435.48,956.55 435.58,957.39 C435.68,958.23 435.78,959.06 435.88,959.90 C435.98,960.74 436.09,961.57 436.19,962.41 C436.30,963.25 436.40,964.08 436.51,964.92 C436.62,965.76 436.73,966.59 436.84,967.43 C436.95,968.26 437.06,969.10 437.17,969.93 C437.29,970.76 437.40,971.60 437.52,972.43 C437.63,973.27 437.75,974.10 437.87,974.93 C437.99,975.76 438.12,976.60 438.24,977.43 C438.36,978.26 438.49,979.09 438.62,979.92 C438.74,980.75 438.87,981.58 439.00,982.41 C439.13,983.24 439.27,984.07 439.40,984.90 C439.54,985.73 439.67,986.56 439.81,987.38 C439.95,988.21 440.09,989.04 440.23,989.86 C440.38,990.69 440.52,991.52 440.67,992.34 C440.82,993.17 440.96,993.99 441.12,994.82 C441.27,995.64 441.42,996.47 441.58,997.29 C441.73,998.11 441.89,998.93 442.05,999.76 C442.21,1000.58 442.37,1001.40 442.54,1002.22 C442.70,1003.04 442.87,1003.86 443.04,1004.68 C443.21,1005.50 443.38,1006.32 443.55,1007.14 C443.73,1007.96 443.90,1008.77 444.08,1009.59 C444.26,1010.41 444.44,1011.22 444.63,1012.04 C444.81,1012.85 445.00,1013.67 445.19,1014.48 C445.38,1015.30 445.57,1016.11 445.77,1016.92 C445.96,1017.74 446.16,1018.55 446.36,1019.36 C446.56,1020.17 446.76,1020.98 446.97,1021.79 C447.17,1022.60 447.38,1023.41 447.59,1024.22 C447.80,1025.03 448.02,1025.83 448.23,1026.64 C448.45,1027.45 448.67,1028.25 448.89,1029.06 C449.12,1029.86 449.34,1030.67 449.57,1031.47 C449.80,1032.27 450.03,1033.08 450.27,1033.88 C450.50,1034.68 450.74,1035.48 450.98,1036.28 C451.22,1037.08 451.47,1037.88 451.71,1038.68 C451.96,1039.48 452.21,1040.28 452.47,1041.07 C452.72,1041.87 452.98,1042.66 453.24,1043.46 C453.50,1044.25 453.76,1045.05 454.03,1045.84 C454.30,1046.64 454.57,1047.43 454.84,1048.22 C455.11,1049.01 455.39,1049.80 455.67,1050.59 C455.95,1051.38 456.24,1052.17 456.53,1052.95 C456.81,1053.74 457.10,1054.53 457.40,1055.31 C457.69,1056.10 457.99,1056.88 458.30,1057.67 C458.60,1058.45 458.90,1059.23 459.21,1060.01 C459.52,1060.79 459.84,1061.57 460.15,1062.35 C460.47,1063.13 460.79,1063.90 461.11,1064.68 C461.44,1065.45 461.77,1066.23 462.10,1067.00 C462.43,1067.77 462.77,1068.54 463.11,1069.31 C463.45,1070.08 463.79,1070.84 464.14,1071.60 C464.49,1072.37 464.84,1073.13 465.20,1073.89 C465.55,1074.65 465.91,1075.41 466.28,1076.16 C466.64,1076.92 467.01,1077.67 467.38,1078.42 C467.75,1079.17 468.13,1079.92 468.51,1080.67 C468.89,1081.41 469.28,1082.16 469.67,1082.90 C470.05,1083.64 470.45,1084.38 470.85,1085.11 C471.24,1085.85 471.65,1086.58 472.05,1087.31 C472.46,1088.04 472.87,1088.77 473.29,1089.49 C473.70,1090.21 474.12,1090.94 474.55,1091.65 C474.97,1092.37 475.40,1093.09 475.83,1093.80 C476.27,1094.51 476.71,1095.22 477.15,1095.92 C477.59,1096.62 478.04,1097.33 478.49,1098.02 C478.94,1098.72 479.40,1099.41 479.86,1100.11 C480.32,1100.80 480.79,1101.48 481.26,1102.17 C481.73,1102.85 482.21,1103.53 482.69,1104.20 C483.17,1104.88 483.65,1105.55 484.15,1106.22 C484.64,1106.88 485.13,1107.55 485.63,1108.21 C486.13,1108.86 486.64,1109.52 487.15,1110.17 C487.66,1110.82 488.17,1111.47 488.70,1112.11 C489.22,1112.75 489.74,1113.39 490.27,1114.02 C490.80,1114.65 491.34,1115.28 491.88,1115.90 C492.42,1116.53 492.97,1117.15 493.52,1117.76 C494.07,1118.37 494.63,1118.98 495.19,1119.59 C495.75,1120.19 496.32,1120.79 496.90,1121.38 C497.47,1121.98 498.05,1122.57 498.63,1123.15 C499.22,1123.73 499.80,1124.31 500.40,1124.89 C500.99,1125.46 501.59,1126.03 502.20,1126.59 C502.81,1127.15 503.42,1127.71 504.03,1128.26 C504.65,1128.81 505.27,1129.36 505.90,1129.90 C506.52,1130.44 507.16,1130.98 507.79,1131.51 C508.43,1132.05 509.07,1132.57 509.72,1133.09 C510.36,1133.62 511.01,1134.13 511.67,1134.65 C512.32,1135.16 512.99,1135.67 513.65,1136.17 C514.31,1136.67 514.98,1137.17 515.66,1137.66 C516.33,1138.16 517.01,1138.64 517.69,1139.13 C518.37,1139.61 519.06,1140.09 519.75,1140.56 C520.44,1141.04 521.14,1141.51 521.84,1141.97 C522.54,1142.44 523.24,1142.90 523.95,1143.36 C524.65,1143.82 525.36,1144.27 526.08,1144.72 C526.79,1145.16 527.51,1145.61 528.23,1146.05 C528.95,1146.49 529.68,1146.92 530.41,1147.35 C531.14,1147.78 531.87,1148.21 532.61,1148.63 C533.34,1149.06 534.08,1149.47 534.82,1149.89 C535.56,1150.30 536.31,1150.71 537.06,1151.12 C537.81,1151.53 538.56,1151.93 539.31,1152.33 C540.07,1152.73 540.83,1153.12 541.59,1153.51 C542.35,1153.90 543.11,1154.29 543.87,1154.67 C544.64,1155.06 545.41,1155.44 546.18,1155.81 C546.95,1156.19 547.72,1156.56 548.50,1156.93 C549.28,1157.30 550.05,1157.67 550.84,1158.03 C551.62,1158.39 552.40,1158.75 553.18,1159.10 C553.97,1159.46 554.76,1159.81 555.55,1160.16 C556.33,1160.50 557.13,1160.85 557.92,1161.19 C558.71,1161.53 559.51,1161.87 560.30,1162.21 C561.10,1162.54 561.90,1162.87 562.70,1163.20 C563.50,1163.53 564.30,1163.85 565.10,1164.18 C565.91,1164.50 566.71,1164.82 567.52,1165.13 C568.32,1165.45 569.13,1165.76 569.94,1166.08 C570.75,1166.39 571.56,1166.69 572.37,1167.00 C573.18,1167.30 573.99,1167.60 574.81,1167.90 C575.62,1168.20 576.43,1168.50 577.25,1168.79 C578.06,1169.09 578.88,1169.38 579.69,1169.67 C580.51,1169.95 581.33,1170.24 582.14,1170.52 C582.96,1170.81 583.78,1171.09 584.60,1171.37 C585.42,1171.64 586.24,1171.92 587.05,1172.19 C587.87,1172.47 588.69,1172.74 589.51,1173.01 C590.33,1173.27 591.15,1173.54 591.97,1173.81 C592.79,1174.07 593.61,1174.33 594.43,1174.59 C595.25,1174.85 596.07,1175.11 596.89,1175.36 C597.71,1175.62 598.53,1175.87 599.35,1176.12 C600.17,1176.38 600.98,1176.62 601.80,1176.87 C602.62,1177.12 603.44,1177.37 604.25,1177.61 C605.07,1177.85 605.89,1178.09 606.70,1178.33 C607.52,1178.57 608.33,1178.81 609.15,1179.05 C609.96,1179.29 610.77,1179.52 611.59,1179.75 C612.40,1179.99 613.21,1180.22 614.02,1180.45 C614.83,1180.68 615.64,1180.90 616.45,1181.13 C617.26,1181.35 618.07,1181.58 618.88,1181.80 C619.69,1182.02 620.50,1182.24 621.31,1182.46 C622.12,1182.68 622.92,1182.90 623.73,1183.11 C624.54,1183.33 625.35,1183.54 626.15,1183.75 C626.96,1183.96 627.77,1184.17 628.57,1184.38 C629.38,1184.59 630.19,1184.79 630.99,1185.00 C631.80,1185.20 632.61,1185.40 633.41,1185.61 C634.22,1185.81 635.02,1186.00 635.83,1186.20 C636.64,1186.40 637.44,1186.59 638.25,1186.79 C639.05,1186.98 639.86,1187.17 640.67,1187.36 C641.47,1187.55 642.28,1187.74 643.09,1187.93 C643.89,1188.11 644.70,1188.30 645.51,1188.48 C646.31,1188.66 647.12,1188.85 647.93,1189.02 C648.73,1189.20 649.54,1189.38 650.35,1189.56 C651.16,1189.73 651.97,1189.91 652.78,1190.08 C653.59,1190.25 654.39,1190.42 655.20,1190.59 C656.01,1190.76 656.83,1190.92 657.64,1191.09 C658.45,1191.25 659.26,1191.42 660.07,1191.58 C660.88,1191.74 661.70,1191.90 662.51,1192.06 C663.32,1192.21 664.14,1192.37 664.95,1192.53 C665.77,1192.68 666.58,1192.83 667.40,1192.98 C668.22,1193.13 669.03,1193.28 669.85,1193.43 C670.67,1193.58 671.49,1193.72 672.31,1193.86 C673.13,1194.01 673.95,1194.15 674.77,1194.29 C675.59,1194.43 676.42,1194.57 677.24,1194.70 C678.07,1194.84 678.89,1194.97 679.72,1195.11 C680.54,1195.24 681.37,1195.37 682.20,1195.50" fill="none" stroke="#000" stroke-width="3.0" stroke-linejoin="round" stroke-linecap="butt"/>
<path d="M3.30,1205.30 C4.14,1205.18 4.97,1205.05 5.81,1204.93 C6.64,1204.81 7.48,1204.69 8.32,1204.57 C9.16,1204.45 10.00,1204.33 10.83,1204.22 C11.67,1204.10 12.51,1203.98 13.35,1203.87 C14.20,1203.75 15.04,1203.64 15.88,1203.52 C16.72,1203.41 17.56,1203.30 18.41,1203.19 C19.25,1203.08 20.09,1202.96 20.94,1202.85 C21.78,1202.74 22.62,1202.63 23.47,1202.53 C24.31,1202.42 25.16,1202.31 26.00,1202.20 C26.85,1202.09 27.70,1201.98 28.54,1201.88 C29.39,1201.77 30.24,1201.66 31.08,1201.56 C31.93,1201.45 32.78,1201.34 33.63,1201.24 C34.47,1201.13 35.32,1201.03 36.17,1200.92 C37.02,1200.81 37.87,1200.71 38.72,1200.60 C39.57,1200.50 40.42,1200.39 41.27,1200.29 C42.12,1200.18 42.97,1200.07 43.82,1199.97 C44.67,1199.86 45.52,1199.76 46.37,1199.65 C47.22,1199.54 48.07,1199.44 48.92,1199.33 C49.77,1199.22 50.62,1199.11 51.47,1199.01 C52.32,1198.90 53.17,1198.79 54.02,1198.68 C54.87,1198.57 55.72,1198.46 56.57,1198.35 C57.42,1198.24 58.27,1198.13 59.12,1198.02 C59.97,1197.91 60.83,1197.79 61.68,1197.68 C62.53,1197.57 63.38,1197.45 64.23,1197.34 C65.08,1197.22 65.93,1197.11 66.78,1196.99 C67.63,1196.87 68.48,1196.75 69.33,1196.63 C70.18,1196.51 71.02,1196.39 71.87,1196.27 C72.72,1196.15 73.57,1196.03 74.42,1195.90 C75.27,1195.78 76.12,1195.65 76.97,1195.52 C77.81,1195.40 78.66,1195.27 79.51,1195.14 C80.36,1195.01 81.20,1194.87 82.05,1194.74 C82.90,1194.61 83.74,1194.47 84.59,1194.34 C85.43,1194.20 86.28,1194.06 87.12,1193.92 C87.97,1193.78 88.81,1193.64 89.66,1193.49 C90.50,1193.35 91.34,1193.20 92.19,1193.05 C93.03,1192.91 93.87,1192.76 94.71,1192.60 C95.56,1192.45 96.40,1192.30 97.24,1192.14 C98.08,1191.98 98.92,1191.83 99.76,1191.66 C100.60,1191.50 101.43,1191.34 102.27,1191.17 C103.11,1191.01 103.95,1190.84 104.78,1190.67 C105.62,1190.50 106.46,1190.33 107.29,1190.15 C108.13,1189.98 108.96,1189.80 109.79,1189.62 C110.63,1189.43 111.46,1189.25 112.29,1189.06 C113.12,1188.88 113.95,1188.69 114.78,1188.50 C115.61,1188.31 116.44,1188.11 117.27,1187.91 C118.10,1187.71 118.93,1187.51 119.75,1187.31 C120.58,1187.11 121.41,1186.90 122.23,1186.69 C123.05,1186.48 123.88,1186.26 124.70,1186.05 C125.52,1185.83 126.34,1185.61 127.17,1185.39 C127.99,1185.16 128.80,1184.94 129.62,1184.71 C130.44,1184.48 131.26,1184.24 132.07,1184.01 C132.89,1183.77 133.71,1183.53 134.52,1183.29 C135.33,1183.04 136.15,1182.79 136.96,1182.54 C137.77,1182.29 138.58,1182.04 139.39,1181.78 C140.20,1181.52 141.00,1181.25 141.81,1180.99 C142.62,1180.72 143.42,1180.45 144.22,1180.17 C145.03,1179.90 145.83,1179.62 146.63,1179.34 C147.43,1179.05 148.23,1178.77 149.03,1178.48 C149.83,1178.18 150.63,1177.89 151.42,1177.59 C152.22,1177.29 153.01,1176.98 153.80,1176.68 C154.60,1176.37 155.39,1176.05 156.18,1175.74 C156.97,1175.42 157.75,1175.10 158.54,1174.77 C159.33,1174.44 160.11,1174.11 160.90,1173.78 C161.68,1173.44 162.46,1173.10 163.24,1172.76 C164.02,1172.41 164.80,1172.06 165.58,1171.70 C166.35,1171.35 167.13,1170.99 167.90,1170.62 C168.68,1170.26 169.45,1169.89 170.22,1169.51 C170.99,1169.14 171.76,1168.76 172.52,1168.37 C173.29,1167.99 174.05,1167.60 174.82,1167.20 C175.58,1166.81 176.15,1166.66 177.10,1166.00 C179.08,1164.62 182.99,1160.87 185.50,1158.50 C187.64,1156.47 189.16,1153.48 191.30,1152.70 C193.12,1152.04 195.41,1153.73 197.20,1153.20 C199.05,1152.65 200.62,1150.86 202.20,1149.30 C203.97,1147.56 205.25,1143.60 207.20,1143.10 C208.94,1142.65 211.26,1145.67 213.10,1145.50 C214.88,1145.34 216.37,1142.59 218.10,1142.30 C219.71,1142.03 221.05,1143.71 223.10,1143.50 C226.68,1143.13 234.38,1137.63 237.30,1136.80 C238.51,1136.46 238.81,1137.00 240.00,1136.50 C243.41,1135.07 251.66,1127.25 257.40,1122.40 C263.22,1117.48 270.46,1111.76 274.70,1107.20 C277.62,1104.06 279.10,1100.17 281.30,1098.50 C282.73,1097.41 283.96,1097.99 285.60,1096.80 C289.03,1094.32 294.12,1087.20 298.60,1081.20 C304.17,1073.74 311.30,1062.70 316.00,1055.10 C319.51,1049.42 321.46,1044.77 324.70,1039.90 C327.96,1035.00 332.66,1029.42 335.50,1025.80 C337.31,1023.50 338.39,1022.87 340.00,1020.20 C343.09,1015.10 347.14,1004.07 350.50,996.10 C353.77,988.34 357.61,980.62 359.90,973.00 C362.02,965.93 362.51,955.81 364.10,952.00 C364.77,950.41 365.17,949.72 366.20,948.90 C367.47,947.88 370.09,948.46 371.50,946.80 C374.10,943.75 373.33,930.93 375.70,927.90 C376.87,926.41 378.54,927.06 379.90,925.80 C382.10,923.76 384.25,917.97 386.20,915.30 C387.54,913.48 388.89,912.56 390.00,911.00 C391.12,909.43 391.76,906.79 392.90,905.90 C393.66,905.31 394.56,905.08 395.40,905.20 C396.36,905.34 397.46,906.11 398.30,907.00 C399.36,908.11 400.20,910.43 400.90,911.70 C401.38,912.57 401.72,913.17 402.12,913.91 C402.52,914.65 402.91,915.39 403.30,916.13 C403.68,916.88 404.06,917.62 404.43,918.37 C404.80,919.12 405.17,919.87 405.53,920.63 C405.89,921.38 406.24,922.14 406.59,922.90 C406.93,923.66 407.27,924.42 407.61,925.19 C407.94,925.95 408.27,926.72 408.59,927.49 C408.92,928.26 409.23,929.03 409.54,929.80 C409.86,930.57 410.16,931.35 410.46,932.13 C410.76,932.91 411.06,933.69 411.35,934.47 C411.64,935.25 411.92,936.03 412.20,936.82 C412.48,937.61 412.76,938.39 413.03,939.18 C413.30,939.97 413.56,940.77 413.83,941.56 C414.09,942.35 414.34,943.15 414.60,943.94 C414.85,944.74 415.10,945.54 415.34,946.34 C415.59,947.14 415.83,947.94 416.06,948.75 C416.30,949.55 416.53,950.36 416.76,951.16 C416.99,951.97 417.21,952.78 417.44,953.59 C417.66,954.40 417.88,955.21 418.09,956.02 C418.31,956.83 418.52,957.64 418.73,958.46 C418.94,959.27 419.14,960.09 419.35,960.90 C419.55,961.72 419.75,962.54 419.95,963.36 C420.15,964.18 420.34,965.00 420.53,965.82 C420.73,966.64 420.92,967.46 421.11,968.29 C421.29,969.11 421.48,969.93 421.66,970.76 C421.85,971.58 422.03,972.41 422.21,973.23 C422.39,974.06 422.57,974.89 422.75,975.71 C422.93,976.54 423.10,977.37 423.28,978.20 C423.45,979.03 423.63,979.86 423.80,980.69 C423.97,981.52 424.14,982.35 424.31,983.18 C424.48,984.01 424.65,984.84 424.82,985.67 C424.99,986.50 425.16,987.33 425.32,988.16 C425.49,989.00 425.66,989.83 425.83,990.66 C425.99,991.49 426.16,992.32 426.33,993.16 C426.49,993.99 426.66,994.82 426.83,995.65 C426.99,996.49 427.16,997.32 427.33,998.15 C427.49,998.98 427.66,999.82 427.83,1000.65 C428.00,1001.48 428.17,1002.31 428.34,1003.14 C428.51,1003.98 428.68,1004.81 428.85,1005.64 C429.02,1006.47 429.19,1007.30 429.37,1008.13 C429.54,1008.96 429.71,1009.79 429.89,1010.62 C430.07,1011.45 430.25,1012.28 430.43,1013.11 C430.60,1013.93 430.79,1014.76 430.97,1015.59 C431.15,1016.42 431.34,1017.24 431.52,1018.07 C431.71,1018.89 431.90,1019.72 432.09,1020.54 C432.28,1021.37 432.48,1022.19 432.67,1023.01 C432.87,1023.83 433.07,1024.65 433.27,1025.47 C433.47,1026.29 433.67,1027.11 433.88,1027.93 C434.09,1028.75 434.30,1029.57 434.51,1030.38 C434.73,1031.20 434.94,1032.01 435.16,1032.83 C435.38,1033.64 435.60,1034.45 435.83,1035.26 C436.06,1036.07 436.29,1036.88 436.52,1037.69 C436.75,1038.50 436.99,1039.31 437.23,1040.11 C437.48,1040.92 437.72,1041.72 437.97,1042.52 C438.22,1043.32 438.47,1044.13 438.73,1044.92 C438.99,1045.72 439.25,1046.52 439.52,1047.32 C439.79,1048.11 440.06,1048.90 440.34,1049.70 C440.61,1050.49 440.90,1051.28 441.18,1052.07 C441.47,1052.85 441.76,1053.64 442.05,1054.43 C442.35,1055.21 442.64,1055.99 442.95,1056.77 C443.25,1057.55 443.56,1058.33 443.87,1059.11 C444.18,1059.88 444.50,1060.66 444.82,1061.43 C445.14,1062.20 445.47,1062.97 445.80,1063.74 C446.13,1064.50 446.47,1065.27 446.81,1066.03 C447.15,1066.79 447.49,1067.55 447.84,1068.31 C448.19,1069.07 448.54,1069.83 448.90,1070.58 C449.26,1071.33 449.62,1072.08 449.99,1072.83 C450.35,1073.58 450.72,1074.32 451.10,1075.06 C451.48,1075.81 451.86,1076.55 452.24,1077.28 C452.63,1078.02 453.01,1078.75 453.41,1079.48 C453.80,1080.22 454.20,1080.94 454.60,1081.67 C455.01,1082.39 455.41,1083.12 455.83,1083.84 C456.24,1084.56 456.65,1085.27 457.07,1085.99 C457.50,1086.70 457.92,1087.41 458.35,1088.12 C458.78,1088.82 459.21,1089.53 459.65,1090.23 C460.09,1090.93 460.54,1091.63 460.98,1092.32 C461.43,1093.02 461.88,1093.71 462.34,1094.39 C462.80,1095.08 463.26,1095.77 463.72,1096.45 C464.19,1097.13 464.66,1097.80 465.14,1098.48 C465.61,1099.15 466.09,1099.82 466.57,1100.49 C467.06,1101.15 467.55,1101.82 468.04,1102.48 C468.53,1103.14 469.03,1103.79 469.53,1104.44 C470.03,1105.09 470.54,1105.74 471.05,1106.39 C471.56,1107.03 472.08,1107.67 472.60,1108.31 C473.12,1108.94 473.64,1109.57 474.17,1110.20 C474.70,1110.83 475.23,1111.45 475.77,1112.07 C476.31,1112.69 476.85,1113.31 477.40,1113.92 C477.94,1114.53 478.50,1115.14 479.05,1115.74 C479.61,1116.35 480.17,1116.95 480.73,1117.54 C481.30,1118.13 481.87,1118.73 482.44,1119.31 C483.01,1119.90 483.59,1120.48 484.17,1121.05 C484.76,1121.63 485.34,1122.20 485.94,1122.77 C486.53,1123.34 487.12,1123.90 487.73,1124.46 C488.33,1125.02 488.93,1125.57 489.54,1126.12 C490.15,1126.67 490.77,1127.22 491.38,1127.76 C492.00,1128.30 492.63,1128.83 493.25,1129.36 C493.88,1129.89 494.51,1130.42 495.15,1130.94 C495.79,1131.46 496.43,1131.97 497.07,1132.48 C497.72,1132.99 498.37,1133.50 499.02,1134.00 C499.67,1134.50 500.33,1135.00 500.99,1135.49 C501.65,1135.99 502.32,1136.47 502.99,1136.96 C503.66,1137.44 504.33,1137.92 505.01,1138.39 C505.69,1138.87 506.37,1139.34 507.05,1139.81 C507.74,1140.27 508.43,1140.73 509.12,1141.19 C509.81,1141.65 510.51,1142.10 511.21,1142.55 C511.91,1143.00 512.61,1143.44 513.32,1143.88 C514.03,1144.32 514.74,1144.76 515.45,1145.19 C516.17,1145.62 516.88,1146.05 517.60,1146.47 C518.32,1146.90 519.05,1147.32 519.78,1147.73 C520.50,1148.15 521.23,1148.56 521.97,1148.97 C522.70,1149.37 523.44,1149.78 524.18,1150.18 C524.92,1150.58 525.66,1150.97 526.41,1151.37 C527.15,1151.76 527.90,1152.15 528.65,1152.53 C529.41,1152.92 530.16,1153.30 530.92,1153.67 C531.68,1154.05 532.44,1154.43 533.20,1154.80 C533.96,1155.17 534.73,1155.53 535.50,1155.89 C536.26,1156.26 537.04,1156.62 537.81,1156.97 C538.58,1157.33 539.36,1157.68 540.14,1158.03 C540.91,1158.38 541.70,1158.72 542.48,1159.07 C543.26,1159.41 544.05,1159.75 544.83,1160.08 C545.62,1160.42 546.41,1160.75 547.20,1161.08 C548.00,1161.41 548.79,1161.73 549.59,1162.06 C550.38,1162.38 551.18,1162.70 551.98,1163.01 C552.78,1163.33 553.58,1163.64 554.39,1163.95 C555.19,1164.26 556.00,1164.57 556.81,1164.87 C557.61,1165.18 558.42,1165.48 559.23,1165.78 C560.04,1166.08 560.86,1166.37 561.67,1166.66 C562.49,1166.96 563.30,1167.25 564.12,1167.53 C564.94,1167.82 565.76,1168.10 566.58,1168.38 C567.40,1168.66 568.22,1168.94 569.04,1169.22 C569.87,1169.49 570.69,1169.77 571.52,1170.04 C572.34,1170.31 573.17,1170.58 574.00,1170.84 C574.83,1171.11 575.66,1171.37 576.49,1171.63 C577.32,1171.89 578.15,1172.15 578.98,1172.40 C579.81,1172.66 580.65,1172.91 581.48,1173.16 C582.32,1173.41 583.15,1173.66 583.99,1173.91 C584.82,1174.15 585.66,1174.40 586.50,1174.64 C587.33,1174.88 588.17,1175.12 589.01,1175.35 C589.85,1175.59 590.69,1175.83 591.53,1176.06 C592.37,1176.29 593.21,1176.52 594.05,1176.75 C594.89,1176.98 595.73,1177.21 596.57,1177.43 C597.41,1177.65 598.26,1177.88 599.10,1178.10 C599.94,1178.32 600.78,1178.54 601.62,1178.75 C602.47,1178.97 603.31,1179.19 604.15,1179.40 C604.99,1179.61 605.84,1179.82 606.68,1180.03 C607.52,1180.24 608.36,1180.45 609.21,1180.66 C610.05,1180.86 610.89,1181.07 611.73,1181.27 C612.58,1181.47 613.42,1181.67 614.26,1181.87 C615.10,1182.07 615.94,1182.27 616.78,1182.47 C617.62,1182.67 618.46,1182.86 619.30,1183.06 C620.14,1183.25 620.98,1183.44 621.82,1183.63 C622.66,1183.82 623.50,1184.01 624.34,1184.20 C625.17,1184.39 626.01,1184.58 626.85,1184.76 C627.68,1184.95 628.52,1185.13 629.35,1185.32 C630.19,1185.50 631.02,1185.68 631.85,1185.86 C632.68,1186.05 633.52,1186.23 634.35,1186.41 C635.18,1186.58 636.01,1186.76 636.84,1186.94 C637.66,1187.12 638.49,1187.29 639.32,1187.47 C640.14,1187.64 640.97,1187.82 641.79,1187.99 C642.61,1188.16 643.44,1188.34 644.26,1188.51 C645.08,1188.68 645.90,1188.85 646.72,1189.02 C647.53,1189.19 648.35,1189.36 649.17,1189.53 C649.98,1189.70 650.79,1189.87 651.61,1190.03 C652.42,1190.20 653.23,1190.37 654.03,1190.54 C654.84,1190.70 655.65,1190.87 656.45,1191.03 C657.26,1191.20 658.06,1191.36 658.86,1191.53 C659.66,1191.69 660.46,1191.86 661.26,1192.02 C662.05,1192.18 662.85,1192.35 663.64,1192.51 C664.43,1192.67 665.22,1192.84 666.01,1193.00 C666.80,1193.16 667.58,1193.32 668.37,1193.49 C669.15,1193.65 669.93,1193.81 670.71,1193.97 C671.49,1194.13 672.27,1194.29 673.04,1194.46 C673.81,1194.62 674.58,1194.78 675.35,1194.94 C676.12,1195.10 676.89,1195.27 677.65,1195.43 C678.41,1195.59 679.18,1195.75 679.93,1195.91 C680.69,1196.08 681.44,1196.24 682.20,1196.40" fill="none" stroke="#f00" stroke-width="3.0" stroke-linejoin="round" stroke-linecap="butt"/>
<path d="M3.30,1223.70 C18.90,1223.43 33.11,1223.16 50.10,1222.90 C70.41,1222.59 95.45,1222.29 117.00,1222.00 C137.15,1221.73 164.94,1223.36 175.50,1221.20 C179.64,1220.36 181.05,1219.03 183.80,1217.80 C186.61,1216.54 190.26,1216.11 192.20,1213.70 C194.56,1210.77 194.35,1204.33 195.50,1200.30 C196.46,1196.93 197.52,1191.10 198.50,1191.10 C199.48,1191.10 200.43,1196.68 201.40,1200.30 C202.76,1205.36 203.35,1214.46 205.50,1218.70 C206.88,1221.41 208.53,1223.05 210.60,1224.50 C212.71,1225.97 215.84,1227.73 218.10,1227.40 C220.26,1227.08 221.29,1223.89 223.90,1222.90 C227.77,1221.44 233.70,1222.43 240.00,1221.90 C248.98,1221.14 265.96,1220.05 272.60,1218.40 C275.67,1217.64 277.12,1216.09 279.10,1215.80 C280.65,1215.58 281.58,1216.51 283.40,1216.20 C286.98,1215.60 294.72,1211.76 298.60,1209.30 C301.37,1207.55 302.57,1205.98 305.10,1203.80 C308.72,1200.68 314.08,1194.89 318.20,1192.30 C321.23,1190.39 324.06,1190.62 326.90,1188.60 C330.60,1185.97 334.13,1180.79 337.70,1176.70 C341.37,1172.50 345.14,1168.09 348.60,1163.70 C352.00,1159.39 355.72,1155.12 358.30,1150.60 C360.70,1146.40 361.38,1138.60 363.80,1137.60 C365.36,1136.96 367.75,1140.51 369.20,1139.80 C371.58,1138.64 371.04,1126.88 373.50,1124.60 C374.97,1123.24 377.33,1124.49 379.00,1123.50 C381.05,1122.28 382.60,1119.17 384.40,1117.00 C386.20,1114.83 388.17,1113.49 389.80,1110.50 C392.41,1105.71 393.99,1097.24 396.30,1089.80 C399.00,1081.13 402.21,1067.20 405.00,1061.60 C406.33,1058.94 407.56,1056.16 408.90,1056.20 C410.45,1056.25 412.16,1060.86 413.70,1063.80 C415.63,1067.49 417.50,1071.84 419.20,1076.80 C421.35,1083.09 423.05,1090.65 425.00,1098.70 C427.37,1108.47 429.71,1120.78 432.20,1131.30 C434.55,1141.24 436.57,1151.34 439.50,1160.20 C442.11,1168.08 444.71,1175.49 448.50,1182.00 C452.04,1188.09 456.21,1193.42 461.20,1198.30 C466.41,1203.40 472.28,1208.40 479.30,1211.80 C487.14,1215.60 496.19,1217.32 506.50,1219.10 C519.60,1221.36 536.00,1221.94 551.80,1222.70 C569.07,1223.53 586.48,1223.36 606.10,1223.60 C629.33,1223.88 656.83,1224.00 682.20,1224.20" fill="none" stroke="#00f" stroke-width="3.0" stroke-linejoin="round" stroke-linecap="butt"/>
</g>
<g>
<line x1="804.0" y1="1276.75" x2="1483.8" y2="1276.75" stroke="#000" stroke-width="3.2"/>
<line x1="815.0" y1="1276.75" x2="815.0" y2="1287.60" stroke="#000" stroke-width="3"/>
<text x="815.0" y="1319.8" font-size="30.63" text-anchor="middle">15</text>
<line x1="897.9" y1="1276.75" x2="897.9" y2="1287.60" stroke="#000" stroke-width="3"/>
<text x="897.9" y="1319.8" font-size="30.63" text-anchor="middle">12</text>
<line x1="980.8" y1="1276.75" x2="980.8" y2="1287.60" stroke="#000" stroke-width="3"/>
<text x="980.8" y="1319.8" font-size="30.63" text-anchor="middle">9</text>
<line x1="1063.7" y1="1276.75" x2="1063.7" y2="1287.60" stroke="#000" stroke-width="3"/>
<text x="1063.7" y="1319.8" font-size="30.63" text-anchor="middle">6</text>
<line x1="1146.5" y1="1276.75" x2="1146.5" y2="1287.60" stroke="#000" stroke-width="3"/>
<text x="1146.5" y="1319.8" font-size="30.63" text-anchor="middle">3</text>
<line x1="1229.4" y1="1276.75" x2="1229.4" y2="1287.60" stroke="#000" stroke-width="3"/>
<text x="1229.4" y="1319.8" font-size="30.63" text-anchor="middle">0</text>
<line x1="1312.3" y1="1276.75" x2="1312.3" y2="1287.60" stroke="#000" stroke-width="3"/>
<text x="1312.3" y="1319.8" font-size="30.63" text-anchor="middle">-3</text>
<line x1="1395.2" y1="1276.75" x2="1395.2" y2="1287.60" stroke="#000" stroke-width="3"/>
<text x="1395.2" y="1319.8" font-size="30.63" text-anchor="middle">-6</text>
<line x1="1478.0" y1="1276.75" x2="1478.0" y2="1287.60" stroke="#000" stroke-width="3"/>
<text x="1478.0" y="1319.8" font-size="30.63" text-anchor="middle">-9</text>
<line x1="856.5" y1="1276.75" x2="856.5" y2="1282.65" stroke="#000" stroke-width="3"/>
<line x1="939.3" y1="1276.75" x2="939.3" y2="1282.65" stroke="#000" stroke-width="3"/>
<line x1="1022.2" y1="1276.75" x2="1022.2" y2="1282.65" stroke="#000" stroke-width="3"/>
<line x1="1105.1" y1="1276.75" x2="1105.1" y2="1282.65" stroke="#000" stroke-width="3"/>
<line x1="1188.0" y1="1276.75" x2="1188.0" y2="1282.65" stroke="#000" stroke-width="3"/>
<line x1="1270.8" y1="1276.75" x2="1270.8" y2="1282.65" stroke="#000" stroke-width="3"/>
<line x1="1353.7" y1="1276.75" x2="1353.7" y2="1282.65" stroke="#000" stroke-width="3"/>
<line x1="1436.6" y1="1276.75" x2="1436.6" y2="1282.65" stroke="#000" stroke-width="3"/>
<text x="1049.7" y="1358.0" font-size="18.77">1</text>
<text x="1058.7" y="1374.0" font-size="31.62" letter-spacing="-0.15">H Shift / ppm</text>
<text x="788.7" y="752.0" font-size="44.46" font-weight="bold">d</text>
<line x1="831.3" y1="797.7" x2="895.0" y2="797.7" stroke="#000" stroke-width="3.2"/>
<line x1="831.3" y1="840.6" x2="895.0" y2="840.6" stroke="#f00" stroke-width="3.2"/>
<line x1="831.3" y1="884.0" x2="895.0" y2="884.0" stroke="#00f" stroke-width="3.2"/>
<text x="901.5" y="808.1" font-size="28.65">ZnO<tspan font-size="17.29" dy="10.08">Zn-H-Zn</tspan></text>
<text x="901.5" y="850.5" font-size="28.65">ZnO<tspan font-size="17.29" dy="10.08">Zn-H-Zn</tspan><tspan dy="-10.08">-CO</tspan><tspan font-size="17.29" dy="9.68">2</tspan></text>
<text x="903.2" y="892.9" font-size="28.65">difference</text>
<text x="1151.4" y="737.9" font-size="31.62" letter-spacing="-0.08">0.9 (OH)</text>
<text x="978.9" y="1106.9" font-size="31.62" letter-spacing="-0.89">8.4</text>
<text x="1390.7" y="1149.1" font-size="31.62" letter-spacing="0.00">250</text>
<circle cx="1457.7" cy="1133.8" r="3.75" fill="none" stroke="#000" stroke-width="1.5"/>
<text x="1463.4" y="1149.1" font-size="31.62">C</text>
<path d="M804.20,1205.00 C805.04,1204.86 805.87,1204.72 806.71,1204.58 C807.54,1204.44 808.38,1204.30 809.22,1204.17 C810.06,1204.03 810.89,1203.89 811.73,1203.76 C812.57,1203.62 813.41,1203.48 814.25,1203.35 C815.09,1203.21 815.93,1203.08 816.76,1202.95 C817.60,1202.81 818.44,1202.68 819.28,1202.55 C820.12,1202.41 820.97,1202.28 821.81,1202.15 C822.65,1202.02 823.49,1201.89 824.33,1201.75 C825.17,1201.62 826.01,1201.49 826.85,1201.36 C827.70,1201.23 828.54,1201.10 829.38,1200.97 C830.22,1200.84 831.07,1200.71 831.91,1200.58 C832.75,1200.45 833.59,1200.32 834.44,1200.19 C835.28,1200.06 836.12,1199.93 836.97,1199.80 C837.81,1199.67 838.65,1199.54 839.50,1199.41 C840.34,1199.28 841.18,1199.15 842.03,1199.02 C842.87,1198.89 843.72,1198.76 844.56,1198.62 C845.40,1198.49 846.25,1198.36 847.09,1198.23 C847.94,1198.10 848.78,1197.97 849.62,1197.84 C850.47,1197.70 851.31,1197.57 852.16,1197.44 C853.00,1197.30 853.85,1197.17 854.69,1197.04 C855.53,1196.90 856.38,1196.77 857.22,1196.63 C858.07,1196.50 858.91,1196.36 859.75,1196.22 C860.60,1196.09 861.44,1195.95 862.28,1195.81 C863.13,1195.67 863.97,1195.54 864.82,1195.40 C865.66,1195.26 866.50,1195.12 867.34,1194.98 C868.19,1194.83 869.03,1194.69 869.87,1194.55 C870.72,1194.41 871.56,1194.26 872.40,1194.12 C873.24,1193.97 874.09,1193.83 874.93,1193.68 C875.77,1193.53 876.61,1193.38 877.45,1193.23 C878.29,1193.08 879.13,1192.93 879.98,1192.78 C880.82,1192.63 881.66,1192.48 882.50,1192.32 C883.34,1192.17 884.18,1192.01 885.02,1191.85 C885.86,1191.70 886.69,1191.54 887.53,1191.38 C888.37,1191.22 889.21,1191.06 890.05,1190.89 C890.89,1190.73 891.72,1190.57 892.56,1190.40 C893.40,1190.23 894.24,1190.07 895.07,1189.90 C895.91,1189.73 896.74,1189.56 897.58,1189.39 C898.41,1189.21 899.25,1189.04 900.08,1188.86 C900.92,1188.69 901.75,1188.51 902.59,1188.33 C903.42,1188.15 904.25,1187.97 905.08,1187.78 C905.92,1187.60 906.75,1187.41 907.58,1187.23 C908.41,1187.04 909.24,1186.85 910.07,1186.66 C910.90,1186.46 911.73,1186.27 912.56,1186.08 C913.39,1185.88 914.22,1185.68 915.05,1185.48 C915.87,1185.28 916.70,1185.08 917.53,1184.87 C918.35,1184.67 919.18,1184.46 920.00,1184.25 C920.83,1184.04 921.65,1183.83 922.48,1183.62 C923.30,1183.40 924.12,1183.19 924.94,1182.97 C925.77,1182.75 926.59,1182.53 927.41,1182.30 C928.23,1182.08 929.05,1181.85 929.87,1181.62 C930.68,1181.39 931.50,1181.16 932.32,1180.92 C933.14,1180.69 933.95,1180.45 934.77,1180.21 C935.59,1179.97 936.40,1179.73 937.21,1179.48 C938.03,1179.24 938.84,1178.99 939.65,1178.74 C940.46,1178.48 941.28,1178.23 942.09,1177.97 C942.90,1177.71 943.71,1177.45 944.51,1177.19 C945.32,1176.93 946.13,1176.66 946.94,1176.39 C947.74,1176.12 948.55,1175.85 949.35,1175.57 C950.16,1175.29 950.96,1175.01 951.76,1174.73 C952.56,1174.45 953.37,1174.16 954.17,1173.87 C954.97,1173.58 955.77,1173.29 956.56,1173.00 C957.36,1172.70 958.16,1172.40 958.96,1172.10 C959.75,1171.79 960.55,1171.49 961.34,1171.18 C962.13,1170.87 962.93,1170.55 963.72,1170.24 C964.51,1169.92 965.30,1169.60 966.09,1169.28 C966.88,1168.95 967.67,1168.62 968.45,1168.29 C969.24,1167.96 970.03,1167.62 970.81,1167.28 C971.59,1166.94 972.38,1166.60 973.16,1166.25 C973.94,1165.91 974.49,1165.80 975.50,1165.20 C977.72,1163.89 982.73,1160.74 985.50,1157.70 C988.31,1154.62 990.51,1150.98 992.20,1146.80 C994.16,1141.97 994.90,1135.36 995.90,1130.10 C996.79,1125.43 996.78,1119.39 998.00,1116.80 C998.61,1115.51 999.54,1114.19 1000.20,1114.30 C1001.10,1114.46 1001.85,1117.67 1002.50,1120.10 C1003.51,1123.89 1003.54,1130.93 1004.70,1135.10 C1005.58,1138.28 1006.37,1141.76 1008.10,1143.20 C1009.42,1144.30 1011.25,1144.49 1013.10,1144.30 C1015.62,1144.04 1018.51,1142.07 1021.70,1140.40 C1025.96,1138.16 1031.42,1134.81 1036.20,1131.70 C1041.09,1128.52 1046.33,1125.05 1050.70,1121.50 C1054.69,1118.26 1057.97,1115.02 1061.50,1111.40 C1065.22,1107.58 1069.13,1103.46 1072.40,1099.10 C1075.66,1094.76 1078.49,1088.29 1081.10,1085.30 C1082.63,1083.55 1083.85,1083.42 1085.40,1081.70 C1087.98,1078.82 1091.63,1072.63 1094.10,1068.70 C1096.08,1065.54 1097.27,1063.14 1099.20,1060.00 C1101.54,1056.19 1104.59,1052.83 1107.20,1047.50 C1111.19,1039.37 1114.56,1024.65 1118.80,1015.00 C1122.40,1006.81 1126.84,1000.41 1130.40,993.00 C1133.90,985.71 1137.14,978.89 1140.00,970.90 C1143.23,961.90 1145.78,951.32 1148.40,941.50 C1151.01,931.72 1153.54,921.54 1155.70,912.10 C1157.70,903.40 1159.56,894.94 1161.00,886.90 C1162.30,879.60 1162.88,871.97 1164.10,865.90 C1165.05,861.17 1166.08,857.36 1167.30,853.40 C1168.43,849.72 1170.04,847.29 1171.10,842.90 C1172.77,836.00 1172.93,822.90 1174.60,815.60 C1175.76,810.53 1177.34,807.51 1178.80,803.00 C1180.48,797.81 1181.95,790.54 1184.10,786.20 C1185.64,783.09 1187.87,781.33 1189.30,778.80 C1190.64,776.42 1191.47,774.44 1192.50,771.50 C1193.98,767.28 1194.86,758.65 1196.70,755.70 C1197.62,754.22 1198.62,753.20 1199.80,753.00 C1201.04,752.79 1202.58,754.25 1204.00,754.70 C1205.38,755.14 1206.97,754.77 1208.20,755.70 C1209.93,757.00 1211.19,759.95 1212.40,763.10 C1214.23,767.85 1215.85,778.69 1216.60,782.00 C1216.87,783.18 1216.97,783.60 1217.15,784.40 C1217.34,785.20 1217.52,786.00 1217.69,786.81 C1217.87,787.61 1218.05,788.41 1218.22,789.22 C1218.39,790.02 1218.56,790.83 1218.73,791.63 C1218.90,792.44 1219.06,793.25 1219.23,794.06 C1219.39,794.87 1219.55,795.68 1219.71,796.49 C1219.87,797.30 1220.02,798.11 1220.18,798.92 C1220.33,799.73 1220.49,800.54 1220.64,801.36 C1220.79,802.17 1220.94,802.99 1221.08,803.80 C1221.23,804.62 1221.37,805.43 1221.52,806.25 C1221.66,807.07 1221.80,807.89 1221.94,808.70 C1222.08,809.52 1222.21,810.34 1222.35,811.16 C1222.49,811.98 1222.62,812.80 1222.75,813.62 C1222.88,814.45 1223.01,815.27 1223.14,816.09 C1223.27,816.92 1223.39,817.74 1223.52,818.56 C1223.64,819.39 1223.77,820.21 1223.89,821.04 C1224.01,821.87 1224.13,822.69 1224.25,823.52 C1224.37,824.35 1224.48,825.17 1224.60,826.00 C1224.72,826.83 1224.83,827.66 1224.94,828.49 C1225.06,829.32 1225.17,830.15 1225.28,830.98 C1225.39,831.81 1225.50,832.64 1225.60,833.48 C1225.71,834.31 1225.82,835.14 1225.92,835.97 C1226.03,836.81 1226.13,837.64 1226.23,838.47 C1226.34,839.31 1226.44,840.14 1226.54,840.98 C1226.64,841.81 1226.74,842.65 1226.83,843.49 C1226.93,844.32 1227.03,845.16 1227.13,846.00 C1227.22,846.83 1227.32,847.67 1227.41,848.51 C1227.51,849.35 1227.60,850.19 1227.69,851.03 C1227.78,851.87 1227.88,852.70 1227.97,853.54 C1228.06,854.38 1228.15,855.22 1228.24,856.06 C1228.33,856.91 1228.41,857.75 1228.50,858.59 C1228.59,859.43 1228.68,860.27 1228.76,861.11 C1228.85,861.96 1228.94,862.80 1229.02,863.64 C1229.11,864.48 1229.19,865.33 1229.28,866.17 C1229.36,867.01 1229.45,867.86 1229.53,868.70 C1229.61,869.54 1229.70,870.39 1229.78,871.23 C1229.86,872.08 1229.94,872.92 1230.02,873.77 C1230.11,874.61 1230.19,875.46 1230.27,876.30 C1230.35,877.15 1230.43,877.99 1230.51,878.84 C1230.59,879.68 1230.67,880.53 1230.75,881.38 C1230.84,882.22 1230.92,883.07 1231.00,883.92 C1231.08,884.76 1231.16,885.61 1231.24,886.45 C1231.32,887.30 1231.40,888.15 1231.48,889.00 C1231.56,889.84 1231.64,890.69 1231.72,891.54 C1231.80,892.38 1231.88,893.23 1231.96,894.08 C1232.04,894.93 1232.12,895.77 1232.20,896.62 C1232.28,897.47 1232.36,898.31 1232.45,899.16 C1232.53,900.01 1232.61,900.86 1232.69,901.70 C1232.77,902.55 1232.86,903.40 1232.94,904.25 C1233.02,905.09 1233.10,905.94 1233.19,906.79 C1233.27,907.64 1233.36,908.48 1233.44,909.33 C1233.53,910.18 1233.61,911.03 1233.70,911.87 C1233.78,912.72 1233.87,913.57 1233.96,914.41 C1234.04,915.26 1234.13,916.11 1234.22,916.95 C1234.31,917.80 1234.40,918.65 1234.48,919.49 C1234.57,920.34 1234.67,921.19 1234.76,922.03 C1234.85,922.88 1234.94,923.72 1235.03,924.57 C1235.13,925.42 1235.22,926.26 1235.31,927.11 C1235.41,927.95 1235.50,928.80 1235.60,929.64 C1235.70,930.49 1235.80,931.33 1235.89,932.18 C1235.99,933.02 1236.09,933.86 1236.19,934.71 C1236.30,935.55 1236.40,936.40 1236.50,937.24 C1236.60,938.08 1236.71,938.92 1236.81,939.77 C1236.92,940.61 1237.03,941.45 1237.13,942.29 C1237.24,943.14 1237.35,943.98 1237.46,944.82 C1237.57,945.66 1237.68,946.50 1237.80,947.34 C1237.91,948.18 1238.03,949.02 1238.14,949.86 C1238.26,950.70 1238.38,951.54 1238.50,952.38 C1238.62,953.22 1238.74,954.06 1238.86,954.90 C1238.98,955.73 1239.11,956.57 1239.23,957.41 C1239.36,958.25 1239.49,959.08 1239.61,959.92 C1239.74,960.76 1239.87,961.59 1240.01,962.43 C1240.14,963.26 1240.27,964.10 1240.41,964.93 C1240.55,965.77 1240.68,966.60 1240.82,967.43 C1240.96,968.27 1241.11,969.10 1241.25,969.93 C1241.39,970.76 1241.54,971.59 1241.69,972.42 C1241.83,973.25 1241.98,974.09 1242.13,974.91 C1242.29,975.74 1242.44,976.57 1242.60,977.40 C1242.75,978.23 1242.91,979.06 1243.07,979.89 C1243.23,980.71 1243.39,981.54 1243.56,982.36 C1243.72,983.19 1243.89,984.02 1244.06,984.84 C1244.23,985.66 1244.40,986.49 1244.57,987.31 C1244.75,988.13 1244.92,988.96 1245.10,989.78 C1245.28,990.60 1245.46,991.42 1245.64,992.24 C1245.83,993.06 1246.01,993.88 1246.20,994.70 C1246.39,995.52 1246.58,996.33 1246.78,997.15 C1246.97,997.97 1247.17,998.78 1247.37,999.60 C1247.56,1000.41 1247.77,1001.23 1247.97,1002.04 C1248.17,1002.86 1248.38,1003.67 1248.59,1004.48 C1248.80,1005.29 1249.01,1006.10 1249.23,1006.91 C1249.44,1007.72 1249.66,1008.53 1249.88,1009.34 C1250.11,1010.15 1250.33,1010.96 1250.56,1011.76 C1250.78,1012.57 1251.01,1013.38 1251.25,1014.18 C1251.48,1014.99 1251.72,1015.79 1251.95,1016.59 C1252.19,1017.39 1252.44,1018.20 1252.68,1019.00 C1252.93,1019.80 1253.18,1020.60 1253.43,1021.40 C1253.68,1022.20 1253.93,1022.99 1254.19,1023.79 C1254.45,1024.59 1254.71,1025.38 1254.98,1026.18 C1255.24,1026.97 1255.51,1027.76 1255.78,1028.56 C1256.05,1029.35 1256.33,1030.14 1256.60,1030.93 C1256.88,1031.72 1257.16,1032.50 1257.45,1033.29 C1257.73,1034.08 1258.02,1034.86 1258.31,1035.65 C1258.60,1036.43 1258.90,1037.21 1259.20,1037.99 C1259.50,1038.77 1259.80,1039.55 1260.10,1040.33 C1260.41,1041.11 1260.72,1041.88 1261.03,1042.66 C1261.34,1043.43 1261.66,1044.20 1261.98,1044.97 C1262.30,1045.74 1262.62,1046.51 1262.95,1047.28 C1263.28,1048.04 1263.61,1048.81 1263.94,1049.57 C1264.28,1050.33 1264.62,1051.10 1264.96,1051.85 C1265.30,1052.61 1265.65,1053.37 1266.00,1054.13 C1266.35,1054.88 1266.70,1055.63 1267.06,1056.38 C1267.42,1057.13 1267.78,1057.88 1268.14,1058.63 C1268.51,1059.37 1268.88,1060.12 1269.25,1060.86 C1269.63,1061.60 1270.00,1062.34 1270.39,1063.08 C1270.77,1063.81 1271.15,1064.55 1271.54,1065.28 C1271.93,1066.01 1272.32,1066.74 1272.72,1067.47 C1273.12,1068.19 1273.52,1068.92 1273.93,1069.64 C1274.33,1070.36 1274.74,1071.08 1275.16,1071.80 C1275.57,1072.51 1275.99,1073.23 1276.41,1073.94 C1276.83,1074.65 1277.26,1075.36 1277.69,1076.06 C1278.12,1076.77 1278.56,1077.47 1279.00,1078.17 C1279.44,1078.87 1279.88,1079.56 1280.33,1080.26 C1280.78,1080.95 1281.23,1081.64 1281.69,1082.33 C1282.15,1083.01 1282.61,1083.70 1283.07,1084.38 C1283.54,1085.06 1284.01,1085.74 1284.49,1086.41 C1284.96,1087.09 1285.44,1087.76 1285.92,1088.43 C1286.41,1089.10 1286.89,1089.76 1287.39,1090.42 C1287.88,1091.09 1288.37,1091.74 1288.87,1092.40 C1289.37,1093.06 1289.88,1093.71 1290.39,1094.36 C1290.90,1095.01 1291.41,1095.65 1291.93,1096.29 C1292.45,1096.94 1292.97,1097.57 1293.49,1098.21 C1294.02,1098.85 1294.55,1099.48 1295.08,1100.11 C1295.62,1100.74 1296.15,1101.36 1296.70,1101.98 C1297.24,1102.60 1297.79,1103.22 1298.34,1103.84 C1298.89,1104.45 1299.44,1105.06 1300.00,1105.67 C1300.56,1106.28 1301.12,1106.88 1301.69,1107.49 C1302.25,1108.09 1302.83,1108.68 1303.40,1109.28 C1303.98,1109.87 1304.55,1110.46 1305.14,1111.05 C1305.72,1111.63 1306.31,1112.22 1306.90,1112.79 C1307.49,1113.37 1308.08,1113.95 1308.68,1114.52 C1309.28,1115.09 1309.88,1115.66 1310.49,1116.22 C1311.10,1116.79 1311.71,1117.35 1312.32,1117.91 C1312.93,1118.46 1313.55,1119.02 1314.17,1119.56 C1314.80,1120.11 1315.42,1120.66 1316.05,1121.20 C1316.68,1121.74 1317.32,1122.28 1317.95,1122.81 C1318.59,1123.35 1319.23,1123.88 1319.87,1124.40 C1320.52,1124.93 1321.17,1125.45 1321.82,1125.97 C1322.47,1126.49 1323.13,1127.00 1323.79,1127.51 C1324.44,1128.02 1325.11,1128.53 1325.77,1129.04 C1326.44,1129.54 1327.11,1130.04 1327.78,1130.54 C1328.45,1131.03 1329.13,1131.53 1329.81,1132.01 C1330.49,1132.50 1331.17,1132.99 1331.85,1133.47 C1332.54,1133.95 1333.23,1134.43 1333.92,1134.91 C1334.61,1135.38 1335.31,1135.85 1336.00,1136.32 C1336.70,1136.79 1337.40,1137.25 1338.11,1137.71 C1338.81,1138.17 1339.52,1138.63 1340.23,1139.08 C1340.94,1139.54 1341.65,1139.99 1342.37,1140.43 C1343.08,1140.88 1343.80,1141.32 1344.52,1141.76 C1345.24,1142.20 1345.97,1142.64 1346.69,1143.07 C1347.42,1143.50 1348.15,1143.93 1348.88,1144.36 C1349.61,1144.78 1350.35,1145.21 1351.08,1145.63 C1351.82,1146.05 1352.56,1146.46 1353.30,1146.87 C1354.04,1147.29 1354.79,1147.70 1355.54,1148.10 C1356.28,1148.51 1357.03,1148.91 1357.78,1149.31 C1358.53,1149.71 1359.29,1150.11 1360.04,1150.50 C1360.80,1150.89 1361.56,1151.28 1362.32,1151.67 C1363.08,1152.06 1363.84,1152.44 1364.61,1152.82 C1365.37,1153.20 1366.14,1153.58 1366.91,1153.95 C1367.67,1154.32 1368.44,1154.70 1369.22,1155.06 C1369.99,1155.43 1370.76,1155.80 1371.54,1156.16 C1372.32,1156.52 1373.09,1156.88 1373.87,1157.23 C1374.65,1157.59 1375.44,1157.94 1376.22,1158.29 C1377.00,1158.64 1377.79,1158.98 1378.57,1159.33 C1379.36,1159.67 1380.15,1160.01 1380.94,1160.35 C1381.73,1160.68 1382.52,1161.02 1383.31,1161.35 C1384.11,1161.68 1384.90,1162.01 1385.70,1162.33 C1386.49,1162.66 1387.29,1162.98 1388.09,1163.30 C1388.89,1163.62 1389.69,1163.94 1390.49,1164.25 C1391.29,1164.57 1392.09,1164.88 1392.89,1165.19 C1393.70,1165.49 1394.50,1165.80 1395.31,1166.10 C1396.11,1166.40 1396.92,1166.70 1397.73,1167.00 C1398.54,1167.30 1399.34,1167.59 1400.15,1167.88 C1400.96,1168.17 1401.77,1168.46 1402.59,1168.75 C1403.40,1169.03 1404.21,1169.32 1405.02,1169.60 C1405.84,1169.88 1406.65,1170.16 1407.47,1170.43 C1408.28,1170.71 1409.10,1170.98 1409.91,1171.25 C1410.73,1171.52 1411.55,1171.79 1412.36,1172.05 C1413.18,1172.32 1414.00,1172.58 1414.82,1172.84 C1415.63,1173.10 1416.45,1173.35 1417.27,1173.61 C1418.09,1173.86 1418.91,1174.11 1419.73,1174.36 C1420.55,1174.61 1421.37,1174.86 1422.19,1175.10 C1423.01,1175.35 1423.84,1175.59 1424.66,1175.83 C1425.48,1176.07 1426.30,1176.31 1427.12,1176.54 C1427.94,1176.77 1428.77,1177.01 1429.59,1177.24 C1430.41,1177.47 1431.23,1177.69 1432.05,1177.92 C1432.87,1178.14 1433.70,1178.36 1434.52,1178.58 C1435.34,1178.80 1436.16,1179.02 1436.98,1179.24 C1437.80,1179.45 1438.62,1179.67 1439.45,1179.88 C1440.27,1180.09 1441.09,1180.30 1441.91,1180.50 C1442.73,1180.71 1443.55,1180.91 1444.37,1181.11 C1445.19,1181.32 1446.01,1181.52 1446.83,1181.71 C1447.64,1181.91 1448.46,1182.11 1449.28,1182.30 C1450.10,1182.49 1450.92,1182.68 1451.73,1182.87 C1452.55,1183.06 1453.36,1183.25 1454.18,1183.43 C1455.00,1183.61 1455.81,1183.80 1456.62,1183.98 C1457.44,1184.16 1458.25,1184.33 1459.06,1184.51 C1459.87,1184.69 1460.69,1184.86 1461.50,1185.03 C1462.31,1185.20 1463.12,1185.37 1463.93,1185.54 C1464.73,1185.71 1465.54,1185.88 1466.35,1186.04 C1467.15,1186.20 1467.96,1186.37 1468.76,1186.53 C1469.57,1186.69 1470.37,1186.84 1471.17,1187.00 C1471.97,1187.16 1472.78,1187.31 1473.58,1187.46 C1474.37,1187.61 1475.17,1187.76 1475.97,1187.91 C1476.76,1188.06 1477.56,1188.21 1478.35,1188.35 C1479.15,1188.50 1479.94,1188.64 1480.73,1188.78 C1481.52,1188.92 1482.31,1189.06 1483.10,1189.20" fill="none" stroke="#000" stroke-width="3.0" stroke-linejoin="round" stroke-linecap="butt"/>
<path d="M804.20,1209.50 C805.04,1209.39 805.87,1209.28 806.71,1209.17 C807.54,1209.06 808.38,1208.95 809.22,1208.85 C810.05,1208.74 810.89,1208.63 811.73,1208.53 C812.57,1208.42 813.41,1208.32 814.25,1208.21 C815.09,1208.11 815.93,1208.01 816.77,1207.90 C817.61,1207.80 818.45,1207.70 819.29,1207.60 C820.13,1207.50 820.97,1207.40 821.82,1207.29 C822.66,1207.19 823.50,1207.09 824.35,1206.99 C825.19,1206.89 826.03,1206.79 826.88,1206.69 C827.72,1206.60 828.57,1206.50 829.41,1206.40 C830.26,1206.30 831.10,1206.20 831.95,1206.10 C832.79,1206.00 833.64,1205.90 834.49,1205.81 C835.33,1205.71 836.18,1205.61 837.03,1205.51 C837.87,1205.41 838.72,1205.31 839.57,1205.21 C840.42,1205.11 841.26,1205.01 842.11,1204.91 C842.96,1204.81 843.81,1204.72 844.65,1204.61 C845.50,1204.51 846.35,1204.41 847.20,1204.31 C848.05,1204.21 848.90,1204.11 849.75,1204.01 C850.59,1203.91 851.44,1203.80 852.29,1203.70 C853.14,1203.60 853.99,1203.49 854.84,1203.39 C855.69,1203.29 856.53,1203.18 857.38,1203.07 C858.23,1202.97 859.08,1202.86 859.93,1202.75 C860.78,1202.65 861.63,1202.54 862.47,1202.43 C863.32,1202.32 864.17,1202.21 865.02,1202.10 C865.87,1201.99 866.72,1201.87 867.56,1201.76 C868.41,1201.65 869.26,1201.53 870.11,1201.41 C870.95,1201.30 871.80,1201.18 872.65,1201.06 C873.50,1200.94 874.34,1200.82 875.19,1200.70 C876.04,1200.58 876.88,1200.46 877.73,1200.33 C878.57,1200.21 879.42,1200.08 880.26,1199.96 C881.11,1199.83 881.95,1199.70 882.80,1199.57 C883.64,1199.44 884.49,1199.31 885.33,1199.17 C886.18,1199.04 887.02,1198.90 887.86,1198.77 C888.70,1198.63 889.55,1198.49 890.39,1198.35 C891.23,1198.21 892.07,1198.06 892.91,1197.92 C893.75,1197.77 894.60,1197.62 895.44,1197.47 C896.27,1197.33 897.11,1197.17 897.95,1197.02 C898.79,1196.87 899.63,1196.71 900.47,1196.55 C901.30,1196.39 902.14,1196.23 902.98,1196.07 C903.81,1195.91 904.65,1195.74 905.48,1195.58 C906.32,1195.41 907.15,1195.24 907.99,1195.07 C908.82,1194.89 909.65,1194.72 910.48,1194.54 C911.32,1194.36 912.15,1194.18 912.98,1194.00 C913.81,1193.82 914.64,1193.63 915.47,1193.44 C916.30,1193.25 917.12,1193.06 917.95,1192.87 C918.78,1192.67 919.60,1192.48 920.43,1192.28 C921.25,1192.08 922.08,1191.87 922.90,1191.67 C923.73,1191.46 924.55,1191.25 925.37,1191.04 C926.19,1190.83 927.01,1190.61 927.83,1190.39 C928.65,1190.17 929.47,1189.95 930.29,1189.73 C931.10,1189.50 931.92,1189.27 932.73,1189.04 C933.55,1188.81 934.36,1188.57 935.18,1188.33 C935.99,1188.10 936.80,1187.85 937.61,1187.61 C938.42,1187.36 939.23,1187.11 940.04,1186.86 C940.85,1186.61 941.66,1186.35 942.46,1186.09 C943.27,1185.83 944.07,1185.56 944.88,1185.29 C945.68,1185.03 946.48,1184.75 947.28,1184.48 C948.09,1184.20 948.89,1183.92 949.68,1183.64 C950.48,1183.36 951.28,1183.07 952.07,1182.78 C952.87,1182.48 953.66,1182.19 954.46,1181.89 C955.25,1181.59 956.04,1181.28 956.83,1180.97 C957.62,1180.66 958.41,1180.35 959.20,1180.03 C959.99,1179.72 960.77,1179.40 961.55,1179.07 C962.34,1178.74 963.12,1178.41 963.90,1178.08 C964.68,1177.74 965.46,1177.40 966.24,1177.06 C967.02,1176.71 967.80,1176.37 968.57,1176.01 C969.35,1175.66 970.12,1175.30 970.89,1174.94 C971.66,1174.57 972.43,1174.21 973.20,1173.83 C973.97,1173.46 974.52,1173.28 975.50,1172.70 C977.44,1171.55 981.30,1169.12 983.80,1166.90 C986.29,1164.69 988.48,1160.75 990.50,1159.40 C991.71,1158.59 992.70,1158.36 993.90,1158.20 C995.19,1158.03 996.67,1158.99 998.00,1158.50 C999.74,1157.85 1001.32,1155.16 1003.00,1153.50 C1004.69,1151.83 1006.35,1149.00 1008.10,1148.50 C1009.44,1148.12 1010.95,1149.96 1012.20,1149.40 C1014.15,1148.53 1015.56,1140.52 1017.20,1140.50 C1018.72,1140.48 1019.59,1146.81 1021.70,1148.00 C1023.63,1149.09 1026.64,1148.56 1029.00,1148.00 C1031.48,1147.41 1033.87,1145.86 1036.20,1144.40 C1038.68,1142.86 1040.54,1140.92 1043.40,1138.90 C1047.35,1136.12 1053.98,1132.49 1057.90,1129.50 C1060.85,1127.25 1062.84,1125.35 1065.20,1123.00 C1067.68,1120.53 1070.02,1117.74 1072.40,1115.00 C1074.85,1112.18 1077.11,1108.67 1079.70,1106.30 C1081.98,1104.22 1084.65,1103.44 1086.90,1101.30 C1089.51,1098.81 1091.83,1094.97 1094.10,1091.90 C1096.23,1089.01 1097.90,1086.51 1100.15,1083.40 C1102.92,1079.56 1106.16,1075.51 1109.50,1070.60 C1113.77,1064.31 1119.28,1053.71 1123.40,1048.60 C1125.93,1045.46 1128.21,1044.37 1130.40,1041.70 C1132.88,1038.68 1135.66,1034.54 1137.30,1031.20 C1138.63,1028.49 1138.77,1026.67 1140.00,1023.40 C1142.14,1017.72 1146.25,1008.00 1149.40,1000.30 C1152.55,992.60 1156.57,984.61 1158.90,977.20 C1160.95,970.68 1161.26,963.03 1163.10,958.30 C1164.31,955.18 1165.97,953.63 1167.30,951.00 C1168.78,948.08 1170.34,945.01 1171.50,941.50 C1172.85,937.43 1172.77,931.21 1174.60,927.90 C1175.94,925.47 1178.35,924.99 1179.90,922.60 C1182.06,919.27 1183.09,912.74 1185.10,909.00 C1186.69,906.04 1188.37,903.33 1190.40,901.60 C1192.07,900.17 1194.39,898.49 1195.95,898.80 C1197.43,899.09 1198.59,901.05 1199.60,903.00 C1201.17,906.03 1201.86,913.57 1202.80,916.10 C1203.21,917.19 1203.57,917.59 1203.95,918.35 C1204.33,919.10 1204.70,919.85 1205.06,920.60 C1205.43,921.36 1205.79,922.12 1206.14,922.88 C1206.49,923.64 1206.84,924.40 1207.18,925.17 C1207.52,925.93 1207.85,926.70 1208.18,927.47 C1208.51,928.24 1208.83,929.01 1209.15,929.78 C1209.47,930.55 1209.78,931.33 1210.09,932.11 C1210.40,932.88 1210.70,933.66 1210.99,934.44 C1211.29,935.22 1211.58,936.01 1211.87,936.79 C1212.16,937.58 1212.44,938.36 1212.72,939.15 C1213.00,939.94 1213.27,940.73 1213.54,941.52 C1213.81,942.31 1214.07,943.11 1214.33,943.90 C1214.59,944.70 1214.84,945.50 1215.10,946.29 C1215.35,947.09 1215.60,947.89 1215.84,948.69 C1216.08,949.50 1216.32,950.30 1216.56,951.10 C1216.79,951.91 1217.03,952.71 1217.26,953.52 C1217.49,954.33 1217.71,955.14 1217.93,955.95 C1218.16,956.76 1218.37,957.57 1218.59,958.38 C1218.81,959.19 1219.02,960.00 1219.23,960.82 C1219.44,961.63 1219.65,962.45 1219.85,963.26 C1220.06,964.08 1220.26,964.90 1220.46,965.72 C1220.66,966.54 1220.85,967.36 1221.05,968.18 C1221.24,969.00 1221.43,969.82 1221.62,970.64 C1221.81,971.46 1222.00,972.29 1222.19,973.11 C1222.37,973.93 1222.56,974.76 1222.74,975.58 C1222.92,976.41 1223.11,977.23 1223.28,978.06 C1223.46,978.89 1223.64,979.71 1223.82,980.54 C1224.00,981.37 1224.17,982.20 1224.34,983.03 C1224.52,983.86 1224.69,984.68 1224.86,985.51 C1225.04,986.34 1225.21,987.17 1225.38,988.00 C1225.55,988.83 1225.72,989.66 1225.89,990.49 C1226.06,991.33 1226.23,992.16 1226.40,992.99 C1226.56,993.82 1226.73,994.65 1226.90,995.48 C1227.07,996.31 1227.24,997.14 1227.40,997.98 C1227.57,998.81 1227.74,999.64 1227.91,1000.47 C1228.08,1001.30 1228.25,1002.13 1228.42,1002.97 C1228.59,1003.80 1228.75,1004.63 1228.93,1005.46 C1229.10,1006.29 1229.27,1007.12 1229.44,1007.95 C1229.61,1008.78 1229.78,1009.61 1229.96,1010.44 C1230.13,1011.27 1230.31,1012.10 1230.48,1012.93 C1230.66,1013.76 1230.83,1014.59 1231.01,1015.42 C1231.19,1016.25 1231.37,1017.07 1231.55,1017.90 C1231.74,1018.73 1231.92,1019.56 1232.11,1020.38 C1232.29,1021.21 1232.48,1022.03 1232.67,1022.86 C1232.86,1023.68 1233.05,1024.51 1233.24,1025.33 C1233.44,1026.15 1233.63,1026.98 1233.83,1027.80 C1234.03,1028.62 1234.23,1029.44 1234.43,1030.26 C1234.64,1031.08 1234.84,1031.90 1235.05,1032.72 C1235.26,1033.54 1235.47,1034.35 1235.69,1035.17 C1235.90,1035.98 1236.12,1036.80 1236.34,1037.61 C1236.56,1038.43 1236.78,1039.24 1237.01,1040.05 C1237.24,1040.86 1237.47,1041.67 1237.70,1042.48 C1237.94,1043.29 1238.18,1044.10 1238.42,1044.90 C1238.66,1045.71 1238.91,1046.52 1239.16,1047.32 C1239.41,1048.12 1239.66,1048.93 1239.92,1049.73 C1240.18,1050.53 1240.44,1051.33 1240.71,1052.12 C1240.97,1052.92 1241.24,1053.72 1241.52,1054.51 C1241.80,1055.31 1242.08,1056.10 1242.36,1056.89 C1242.65,1057.68 1242.93,1058.47 1243.23,1059.26 C1243.52,1060.04 1243.82,1060.83 1244.13,1061.61 C1244.43,1062.39 1244.74,1063.17 1245.05,1063.95 C1245.36,1064.73 1245.68,1065.51 1246.00,1066.28 C1246.33,1067.05 1246.66,1067.83 1246.99,1068.59 C1247.32,1069.36 1247.66,1070.13 1248.00,1070.89 C1248.34,1071.66 1248.69,1072.42 1249.04,1073.18 C1249.40,1073.93 1249.76,1074.69 1250.12,1075.44 C1250.48,1076.19 1250.85,1076.94 1251.22,1077.69 C1251.60,1078.43 1251.98,1079.17 1252.36,1079.91 C1252.74,1080.65 1253.13,1081.39 1253.53,1082.12 C1253.92,1082.85 1254.32,1083.58 1254.73,1084.31 C1255.14,1085.03 1255.55,1085.76 1255.96,1086.47 C1256.38,1087.19 1256.80,1087.91 1257.23,1088.62 C1257.66,1089.33 1258.09,1090.03 1258.53,1090.73 C1258.97,1091.44 1259.41,1092.13 1259.87,1092.83 C1260.32,1093.52 1260.77,1094.21 1261.23,1094.90 C1261.70,1095.58 1262.16,1096.26 1262.64,1096.94 C1263.11,1097.62 1263.59,1098.29 1264.08,1098.96 C1264.56,1099.62 1265.05,1100.29 1265.55,1100.94 C1266.05,1101.60 1266.55,1102.25 1267.06,1102.90 C1267.57,1103.55 1268.09,1104.19 1268.61,1104.83 C1269.13,1105.47 1269.66,1106.10 1270.19,1106.73 C1270.73,1107.36 1271.27,1107.98 1271.81,1108.59 C1272.36,1109.21 1272.91,1109.82 1273.47,1110.43 C1274.03,1111.03 1274.60,1111.63 1275.17,1112.23 C1275.74,1112.83 1276.32,1113.42 1276.90,1114.00 C1277.48,1114.59 1278.07,1115.17 1278.66,1115.74 C1279.26,1116.32 1279.86,1116.89 1280.46,1117.45 C1281.06,1118.02 1281.67,1118.58 1282.29,1119.13 C1282.90,1119.69 1283.52,1120.24 1284.15,1120.78 C1284.77,1121.33 1285.40,1121.87 1286.04,1122.41 C1286.67,1122.94 1287.31,1123.47 1287.96,1124.00 C1288.60,1124.53 1289.25,1125.05 1289.90,1125.57 C1290.55,1126.09 1291.21,1126.60 1291.87,1127.11 C1292.53,1127.62 1293.20,1128.12 1293.87,1128.62 C1294.54,1129.12 1295.21,1129.62 1295.89,1130.11 C1296.56,1130.60 1297.24,1131.09 1297.93,1131.57 C1298.61,1132.06 1299.30,1132.54 1299.99,1133.01 C1300.68,1133.49 1301.38,1133.96 1302.08,1134.43 C1302.77,1134.90 1303.48,1135.36 1304.18,1135.82 C1304.88,1136.28 1305.59,1136.73 1306.30,1137.19 C1307.01,1137.64 1307.72,1138.09 1308.44,1138.53 C1309.15,1138.98 1309.87,1139.42 1310.59,1139.86 C1311.31,1140.29 1312.04,1140.73 1312.76,1141.16 C1313.49,1141.59 1314.21,1142.02 1314.94,1142.44 C1315.67,1142.86 1316.40,1143.28 1317.14,1143.70 C1317.87,1144.12 1318.61,1144.53 1319.34,1144.94 C1320.08,1145.35 1320.82,1145.76 1321.56,1146.16 C1322.30,1146.57 1323.05,1146.97 1323.79,1147.37 C1324.54,1147.76 1325.29,1148.16 1326.03,1148.55 C1326.78,1148.94 1327.53,1149.33 1328.29,1149.71 C1329.04,1150.10 1329.79,1150.48 1330.55,1150.86 C1331.31,1151.24 1332.06,1151.61 1332.82,1151.98 C1333.58,1152.36 1334.34,1152.72 1335.11,1153.09 C1335.87,1153.46 1336.63,1153.82 1337.40,1154.18 C1338.17,1154.54 1338.93,1154.90 1339.70,1155.25 C1340.47,1155.61 1341.24,1155.96 1342.02,1156.31 C1342.79,1156.66 1343.56,1157.00 1344.34,1157.34 C1345.11,1157.69 1345.89,1158.03 1346.67,1158.36 C1347.45,1158.70 1348.23,1159.03 1349.01,1159.37 C1349.79,1159.70 1350.57,1160.03 1351.35,1160.35 C1352.14,1160.68 1352.92,1161.00 1353.71,1161.32 C1354.50,1161.64 1355.28,1161.96 1356.07,1162.28 C1356.86,1162.59 1357.65,1162.90 1358.44,1163.21 C1359.24,1163.52 1360.03,1163.83 1360.82,1164.13 C1361.62,1164.44 1362.41,1164.74 1363.21,1165.04 C1364.00,1165.34 1364.80,1165.64 1365.60,1165.93 C1366.40,1166.23 1367.20,1166.52 1368.00,1166.81 C1368.80,1167.10 1369.60,1167.39 1370.40,1167.67 C1371.21,1167.95 1372.01,1168.24 1372.81,1168.52 C1373.62,1168.80 1374.42,1169.07 1375.23,1169.35 C1376.04,1169.62 1376.84,1169.90 1377.65,1170.17 C1378.46,1170.44 1379.27,1170.71 1380.08,1170.97 C1380.89,1171.24 1381.70,1171.50 1382.51,1171.76 C1383.32,1172.03 1384.13,1172.29 1384.95,1172.54 C1385.76,1172.80 1386.57,1173.05 1387.39,1173.31 C1388.20,1173.56 1389.02,1173.81 1389.83,1174.06 C1390.65,1174.31 1391.46,1174.55 1392.28,1174.80 C1393.10,1175.04 1393.91,1175.29 1394.73,1175.53 C1395.55,1175.77 1396.37,1176.00 1397.19,1176.24 C1398.01,1176.48 1398.83,1176.71 1399.65,1176.94 C1400.47,1177.18 1401.29,1177.41 1402.11,1177.64 C1402.93,1177.86 1403.75,1178.09 1404.57,1178.32 C1405.39,1178.54 1406.21,1178.76 1407.04,1178.98 C1407.86,1179.21 1408.68,1179.43 1409.50,1179.64 C1410.33,1179.86 1411.15,1180.08 1411.97,1180.29 C1412.80,1180.50 1413.62,1180.72 1414.44,1180.93 C1415.27,1181.14 1416.09,1181.35 1416.91,1181.55 C1417.74,1181.76 1418.56,1181.97 1419.39,1182.17 C1420.21,1182.38 1421.04,1182.58 1421.86,1182.78 C1422.69,1182.98 1423.51,1183.18 1424.33,1183.38 C1425.16,1183.57 1425.98,1183.77 1426.81,1183.96 C1427.63,1184.16 1428.46,1184.35 1429.28,1184.54 C1430.11,1184.74 1430.93,1184.93 1431.75,1185.11 C1432.58,1185.30 1433.40,1185.49 1434.23,1185.68 C1435.05,1185.86 1435.87,1186.05 1436.70,1186.23 C1437.52,1186.41 1438.34,1186.60 1439.17,1186.78 C1439.99,1186.96 1440.81,1187.14 1441.64,1187.31 C1442.46,1187.49 1443.28,1187.67 1444.10,1187.84 C1444.92,1188.02 1445.74,1188.19 1446.57,1188.37 C1447.39,1188.54 1448.21,1188.71 1449.03,1188.88 C1449.85,1189.05 1450.67,1189.22 1451.49,1189.39 C1452.31,1189.56 1453.13,1189.73 1453.94,1189.90 C1454.76,1190.06 1455.58,1190.23 1456.40,1190.39 C1457.21,1190.56 1458.03,1190.72 1458.85,1190.88 C1459.66,1191.04 1460.48,1191.21 1461.29,1191.37 C1462.11,1191.53 1462.92,1191.69 1463.74,1191.85 C1464.55,1192.00 1465.36,1192.16 1466.17,1192.32 C1466.99,1192.48 1467.80,1192.63 1468.61,1192.79 C1469.42,1192.94 1470.23,1193.10 1471.04,1193.25 C1471.84,1193.40 1472.65,1193.56 1473.46,1193.71 C1474.27,1193.86 1475.07,1194.01 1475.88,1194.16 C1476.68,1194.31 1477.49,1194.46 1478.29,1194.61 C1479.09,1194.76 1479.90,1194.91 1480.70,1195.06 C1481.50,1195.21 1482.30,1195.35 1483.10,1195.50" fill="none" stroke="#f00" stroke-width="3.0" stroke-linejoin="round" stroke-linecap="butt"/>
<path d="M804.20,1222.00 C819.50,1221.47 834.46,1220.98 850.10,1220.40 C866.46,1219.79 883.57,1218.90 900.30,1218.40 C917.01,1217.90 935.18,1217.44 950.40,1217.40 C963.14,1217.36 979.18,1219.35 985.50,1217.90 C988.02,1217.32 989.14,1217.05 990.50,1215.40 C992.77,1212.64 993.28,1205.56 994.70,1200.30 C996.25,1194.57 997.96,1182.29 999.40,1182.30 C1000.70,1182.31 1001.84,1191.51 1003.00,1197.00 C1004.46,1203.88 1004.34,1217.13 1007.20,1220.40 C1008.54,1221.93 1010.67,1220.98 1012.20,1222.00 C1014.06,1223.24 1015.67,1228.10 1017.20,1227.90 C1019.11,1227.65 1019.51,1219.37 1022.30,1217.00 C1025.10,1214.62 1030.72,1214.10 1034.00,1213.70 C1036.31,1213.42 1037.46,1214.07 1040.00,1213.90 C1044.49,1213.60 1052.32,1211.70 1058.50,1210.80 C1064.68,1209.90 1071.22,1210.08 1077.10,1208.50 C1082.80,1206.97 1088.10,1204.69 1093.30,1201.60 C1098.93,1198.26 1104.78,1192.23 1109.50,1188.80 C1112.97,1186.28 1116.14,1183.63 1118.80,1182.60 C1120.52,1181.94 1121.63,1182.79 1123.40,1181.90 C1127.04,1180.06 1132.65,1173.27 1137.30,1168.00 C1142.70,1161.89 1148.98,1153.24 1153.60,1147.10 C1157.15,1142.38 1160.45,1138.81 1162.80,1134.40 C1164.99,1130.29 1165.46,1124.37 1167.50,1121.60 C1168.83,1119.80 1170.67,1120.03 1172.10,1118.10 C1174.75,1114.54 1176.27,1103.84 1179.00,1099.60 C1180.76,1096.87 1182.68,1094.92 1184.80,1093.80 C1186.60,1092.85 1188.92,1094.19 1190.60,1092.70 C1193.93,1089.75 1195.18,1077.61 1197.60,1070.60 C1199.83,1064.13 1202.03,1057.12 1204.50,1052.10 C1206.34,1048.36 1208.37,1042.80 1210.30,1042.80 C1212.23,1042.80 1214.16,1048.64 1216.10,1052.10 C1218.42,1056.22 1220.83,1060.41 1223.10,1066.00 C1226.27,1073.81 1229.51,1084.99 1232.20,1095.00 C1235.02,1105.49 1236.59,1117.49 1239.50,1127.60 C1242.11,1136.68 1244.87,1144.83 1248.50,1153.00 C1252.11,1161.13 1255.90,1169.76 1261.20,1176.50 C1266.26,1182.93 1272.10,1188.29 1279.30,1192.80 C1287.46,1197.92 1297.46,1201.66 1308.30,1204.60 C1321.15,1208.09 1336.47,1209.14 1351.80,1210.90 C1368.87,1212.86 1386.41,1214.09 1406.10,1215.50 C1429.52,1217.18 1457.43,1218.50 1483.10,1220.00" fill="none" stroke="#00f" stroke-width="3.0" stroke-linejoin="round" stroke-linecap="butt"/>
</g>
</svg>
</body></html>
